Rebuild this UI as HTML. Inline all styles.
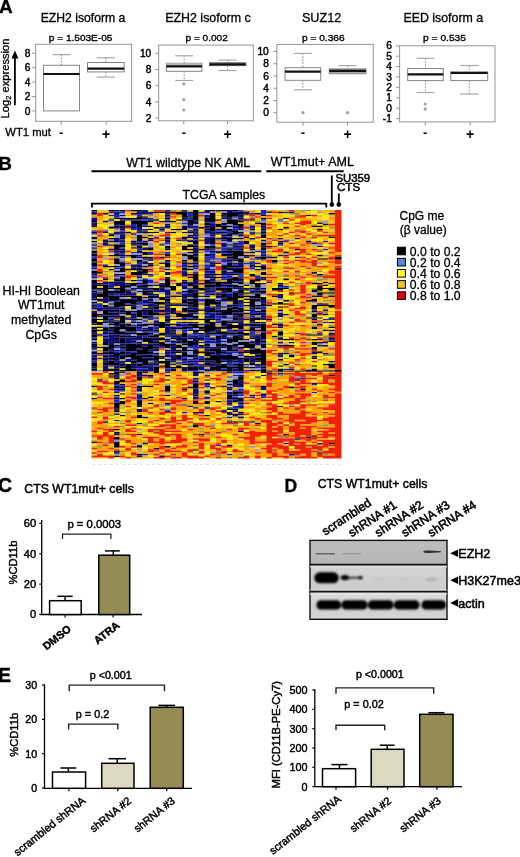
<!DOCTYPE html>
<html><head><meta charset="utf-8"><style>
html,body{margin:0;padding:0;background:#fff;width:520px;height:857px;overflow:hidden}
svg{display:block;filter:blur(0.4px)}
.heavy text{stroke-width:0.45px}
text{font-family:"Liberation Sans",sans-serif;stroke:#000;stroke-width:0.3px;paint-order:stroke}
</style></head><body>
<svg width="520" height="857" viewBox="0 0 520 857">
<rect x="0" y="0" width="520" height="857" fill="#fff"/>
<text x="-1.1" y="12.6" font-size="19" font-weight="bold" text-anchor="start" fill="#000" >A</text>
<text transform="translate(8.9,118.5) rotate(-90)" font-size="11.2">Log<tspan font-size="7.5" dy="2.5">2</tspan><tspan dy="-2.5"> expression</tspan></text>
<line x1="14.9" y1="105.3" x2="14.9" y2="56" stroke="#000" stroke-width="1.8" />
<path d="M11.4,58.5 L14.9,50.6 L18.4,58.5 Z" fill="#000"/>
<text x="5.34" y="135.7" font-size="11.6" textLength="45.62" lengthAdjust="spacingAndGlyphs" >WT1 mut</text>
<rect x="35.7" y="44.3" width="95.89999999999999" height="77.0" fill="none" stroke="#959595" stroke-width="1" />
<line x1="32.2" y1="110.9" x2="35.7" y2="110.9" stroke="#959595" stroke-width="1" />
<text x="30.300000000000004" y="114.5" font-size="10.2" text-anchor="end" fill="#000" style="stroke-width:0.45px">0</text>
<line x1="32.2" y1="96.5" x2="35.7" y2="96.5" stroke="#959595" stroke-width="1" />
<text x="30.300000000000004" y="100.1" font-size="10.2" text-anchor="end" fill="#000" style="stroke-width:0.45px">2</text>
<line x1="32.2" y1="82.10000000000001" x2="35.7" y2="82.10000000000001" stroke="#959595" stroke-width="1" />
<text x="30.300000000000004" y="85.7" font-size="10.2" text-anchor="end" fill="#000" style="stroke-width:0.45px">4</text>
<line x1="32.2" y1="67.7" x2="35.7" y2="67.7" stroke="#959595" stroke-width="1" />
<text x="30.300000000000004" y="71.3" font-size="10.2" text-anchor="end" fill="#000" style="stroke-width:0.45px">6</text>
<line x1="32.2" y1="53.300000000000004" x2="35.7" y2="53.300000000000004" stroke="#959595" stroke-width="1" />
<text x="30.300000000000004" y="56.900000000000006" font-size="10.2" text-anchor="end" fill="#000" style="stroke-width:0.45px">8</text>
<line x1="61.2" y1="121.3" x2="61.2" y2="124.8" stroke="#959595" stroke-width="1" />
<line x1="106.2" y1="121.3" x2="106.2" y2="124.8" stroke="#959595" stroke-width="1" />
<text x="61.2" y="136.5" font-size="13" font-weight="bold" text-anchor="middle" fill="#000" style="stroke-width:0">-</text>
<text x="106.2" y="138.6" font-size="14" font-weight="bold" text-anchor="middle" fill="#000" style="stroke-width:0">+</text>
<line x1="61.5" y1="54.6" x2="61.5" y2="65.3" stroke="#8a8a8a" stroke-width="1" stroke-dasharray="1.5,1.5"/>
<line x1="52.5" y1="54.6" x2="70.5" y2="54.6" stroke="#a8a8a8" stroke-width="1.2" />
<rect x="43.5" y="65.3" width="36.0" height="45.60000000000001" fill="#fff" stroke="#858585" stroke-width="1" />
<line x1="43.5" y1="74.0" x2="79.5" y2="74.0" stroke="#111" stroke-width="2.2" />
<line x1="105.85" y1="57.8" x2="105.85" y2="62.5" stroke="#8a8a8a" stroke-width="1" stroke-dasharray="1.5,1.5"/>
<line x1="96.675" y1="57.8" x2="115.02499999999999" y2="57.8" stroke="#a8a8a8" stroke-width="1.2" />
<line x1="105.85" y1="71.9" x2="105.85" y2="77.1" stroke="#8a8a8a" stroke-width="1" stroke-dasharray="1.5,1.5"/>
<line x1="96.675" y1="77.1" x2="115.02499999999999" y2="77.1" stroke="#a8a8a8" stroke-width="1.2" />
<rect x="87.5" y="62.5" width="36.7" height="9.400000000000006" fill="#fff" stroke="#858585" stroke-width="1" />
<line x1="87.5" y1="68.6" x2="124.2" y2="68.6" stroke="#111" stroke-width="2.2" />
<text x="40.72" y="21.9" font-size="12.2" textLength="84.69" lengthAdjust="spacingAndGlyphs" >EZH2 isoform a</text>
<text x="48.85" y="40.9" font-size="9.95" textLength="63.56" lengthAdjust="spacingAndGlyphs" style="stroke-width:0.35px">p = 1.503E-05</text>
<rect x="158.7" y="45.1" width="94.60000000000002" height="75.69999999999999" fill="none" stroke="#959595" stroke-width="1" />
<line x1="155.2" y1="118.10000000000001" x2="158.7" y2="118.10000000000001" stroke="#959595" stroke-width="1" />
<text x="151.29999999999998" y="121.7" font-size="10.2" text-anchor="end" fill="#000" style="stroke-width:0.45px">2</text>
<line x1="155.2" y1="101.9" x2="158.7" y2="101.9" stroke="#959595" stroke-width="1" />
<text x="151.29999999999998" y="105.5" font-size="10.2" text-anchor="end" fill="#000" style="stroke-width:0.45px">4</text>
<line x1="155.2" y1="85.70000000000002" x2="158.7" y2="85.70000000000002" stroke="#959595" stroke-width="1" />
<text x="151.29999999999998" y="89.30000000000001" font-size="10.2" text-anchor="end" fill="#000" style="stroke-width:0.45px">6</text>
<line x1="155.2" y1="69.50000000000001" x2="158.7" y2="69.50000000000001" stroke="#959595" stroke-width="1" />
<text x="151.29999999999998" y="73.10000000000001" font-size="10.2" text-anchor="end" fill="#000" style="stroke-width:0.45px">8</text>
<line x1="155.2" y1="53.30000000000001" x2="158.7" y2="53.30000000000001" stroke="#959595" stroke-width="1" />
<text x="151.29999999999998" y="56.90000000000001" font-size="10.2" text-anchor="end" fill="#000" style="stroke-width:0.45px">10</text>
<line x1="183.8" y1="120.8" x2="183.8" y2="124.3" stroke="#959595" stroke-width="1" />
<line x1="227.5" y1="120.8" x2="227.5" y2="124.3" stroke="#959595" stroke-width="1" />
<text x="183.8" y="136.5" font-size="13" font-weight="bold" text-anchor="middle" fill="#000" style="stroke-width:0">-</text>
<text x="227.5" y="138.6" font-size="14" font-weight="bold" text-anchor="middle" fill="#000" style="stroke-width:0">+</text>
<line x1="184.15" y1="55.8" x2="184.15" y2="63.3" stroke="#8a8a8a" stroke-width="1" stroke-dasharray="1.5,1.5"/>
<line x1="175.22500000000002" y1="55.8" x2="193.075" y2="55.8" stroke="#a8a8a8" stroke-width="1.2" />
<line x1="184.15" y1="71.3" x2="184.15" y2="80.5" stroke="#8a8a8a" stroke-width="1" stroke-dasharray="1.5,1.5"/>
<line x1="175.22500000000002" y1="80.5" x2="193.075" y2="80.5" stroke="#a8a8a8" stroke-width="1.2" />
<rect x="166.3" y="63.3" width="35.69999999999999" height="8.0" fill="#fff" stroke="#858585" stroke-width="1" />
<rect x="166.3" y="63.3" width="35.69999999999999" height="3.0" fill="#b8b8b8" stroke="none" stroke-width="1" />
<line x1="166.3" y1="66.3" x2="202" y2="66.3" stroke="#111" stroke-width="2.2" />
<line x1="227.65" y1="60.1" x2="227.65" y2="62.6" stroke="#8a8a8a" stroke-width="1" stroke-dasharray="1.5,1.5"/>
<line x1="218.575" y1="60.1" x2="236.72500000000002" y2="60.1" stroke="#a8a8a8" stroke-width="1.2" />
<line x1="227.65" y1="65.6" x2="227.65" y2="70.5" stroke="#8a8a8a" stroke-width="1" stroke-dasharray="1.5,1.5"/>
<line x1="218.575" y1="70.5" x2="236.72500000000002" y2="70.5" stroke="#a8a8a8" stroke-width="1.2" />
<rect x="209.5" y="62.6" width="36.30000000000001" height="2.999999999999993" fill="#a8a8a8" stroke="#858585" stroke-width="1" />
<line x1="209.5" y1="64.3" x2="245.8" y2="64.3" stroke="#111" stroke-width="2.2" />
<circle cx="183.8" cy="83.8" r="1.6" fill="#a0a0a0"/>
<circle cx="183.8" cy="99.6" r="1.6" fill="#a0a0a0"/>
<circle cx="183.8" cy="110" r="1.6" fill="#a0a0a0"/>
<text x="165.21" y="21.9" font-size="12.2" textLength="85.51" lengthAdjust="spacingAndGlyphs" >EZH2 isoform c</text>
<text x="185.55" y="40.9" font-size="9.95" textLength="42.19" lengthAdjust="spacingAndGlyphs" style="stroke-width:0.35px">p = 0.002</text>
<rect x="276.9" y="44.4" width="96.30000000000001" height="77.80000000000001" fill="none" stroke="#959595" stroke-width="1" />
<line x1="273.4" y1="112.7" x2="276.9" y2="112.7" stroke="#959595" stroke-width="1" />
<text x="268.79999999999995" y="116.3" font-size="10.2" text-anchor="end" fill="#000" style="stroke-width:0.45px">0</text>
<line x1="273.4" y1="100.46000000000001" x2="276.9" y2="100.46000000000001" stroke="#959595" stroke-width="1" />
<text x="268.79999999999995" y="104.06" font-size="10.2" text-anchor="end" fill="#000" style="stroke-width:0.45px">2</text>
<line x1="273.4" y1="88.22" x2="276.9" y2="88.22" stroke="#959595" stroke-width="1" />
<text x="268.79999999999995" y="91.82" font-size="10.2" text-anchor="end" fill="#000" style="stroke-width:0.45px">4</text>
<line x1="273.4" y1="75.98" x2="276.9" y2="75.98" stroke="#959595" stroke-width="1" />
<text x="268.79999999999995" y="79.58" font-size="10.2" text-anchor="end" fill="#000" style="stroke-width:0.45px">6</text>
<line x1="273.4" y1="63.74" x2="276.9" y2="63.74" stroke="#959595" stroke-width="1" />
<text x="268.79999999999995" y="67.34" font-size="10.2" text-anchor="end" fill="#000" style="stroke-width:0.45px">8</text>
<line x1="273.4" y1="51.5" x2="276.9" y2="51.5" stroke="#959595" stroke-width="1" />
<text x="268.79999999999995" y="55.1" font-size="10.2" text-anchor="end" fill="#000" style="stroke-width:0.45px">10</text>
<line x1="303" y1="122.2" x2="303" y2="125.7" stroke="#959595" stroke-width="1" />
<line x1="347.5" y1="122.2" x2="347.5" y2="125.7" stroke="#959595" stroke-width="1" />
<text x="303" y="136.5" font-size="13" font-weight="bold" text-anchor="middle" fill="#000" style="stroke-width:0">-</text>
<text x="347.5" y="138.6" font-size="14" font-weight="bold" text-anchor="middle" fill="#000" style="stroke-width:0">+</text>
<line x1="302.9" y1="53.4" x2="302.9" y2="67.7" stroke="#8a8a8a" stroke-width="1" stroke-dasharray="1.5,1.5"/>
<line x1="293.95" y1="53.4" x2="311.84999999999997" y2="53.4" stroke="#a8a8a8" stroke-width="1.2" />
<line x1="302.9" y1="80.3" x2="302.9" y2="89.8" stroke="#8a8a8a" stroke-width="1" stroke-dasharray="1.5,1.5"/>
<line x1="293.95" y1="89.8" x2="311.84999999999997" y2="89.8" stroke="#a8a8a8" stroke-width="1.2" />
<rect x="285" y="67.7" width="35.80000000000001" height="12.599999999999994" fill="#fff" stroke="#858585" stroke-width="1" />
<line x1="285" y1="71.7" x2="320.8" y2="71.7" stroke="#111" stroke-width="2.2" />
<line x1="347.65" y1="65.6" x2="347.65" y2="68.9" stroke="#8a8a8a" stroke-width="1" stroke-dasharray="1.5,1.5"/>
<line x1="338.47499999999997" y1="65.6" x2="356.825" y2="65.6" stroke="#a8a8a8" stroke-width="1.2" />
<rect x="329.3" y="68.9" width="36.69999999999999" height="4.799999999999997" fill="#a8a8a8" stroke="#858585" stroke-width="1" />
<line x1="329.3" y1="70.9" x2="366" y2="70.9" stroke="#111" stroke-width="2.2" />
<circle cx="303" cy="112.7" r="1.6" fill="#a0a0a0"/>
<circle cx="347.5" cy="112.7" r="1.6" fill="#a0a0a0"/>
<text x="301.93" y="21.9" font-size="12.2" textLength="39.43" lengthAdjust="spacingAndGlyphs" >SUZ12</text>
<text x="301.94" y="40.9" font-size="9.95" textLength="42.70" lengthAdjust="spacingAndGlyphs" style="stroke-width:0.35px">p = 0.366</text>
<rect x="399.6" y="45.8" width="95.39999999999998" height="76.10000000000001" fill="none" stroke="#959595" stroke-width="1" />
<line x1="396.1" y1="118.60000000000001" x2="399.6" y2="118.60000000000001" stroke="#959595" stroke-width="1" />
<text x="391.90000000000003" y="122.2" font-size="10.2" text-anchor="end" fill="#000" style="stroke-width:0.45px">-1</text>
<line x1="396.1" y1="108.2" x2="399.6" y2="108.2" stroke="#959595" stroke-width="1" />
<text x="391.90000000000003" y="111.8" font-size="10.2" text-anchor="end" fill="#000" style="stroke-width:0.45px">0</text>
<line x1="396.1" y1="97.8" x2="399.6" y2="97.8" stroke="#959595" stroke-width="1" />
<text x="391.90000000000003" y="101.39999999999999" font-size="10.2" text-anchor="end" fill="#000" style="stroke-width:0.45px">1</text>
<line x1="396.1" y1="87.4" x2="399.6" y2="87.4" stroke="#959595" stroke-width="1" />
<text x="391.90000000000003" y="91.0" font-size="10.2" text-anchor="end" fill="#000" style="stroke-width:0.45px">2</text>
<line x1="396.1" y1="77.0" x2="399.6" y2="77.0" stroke="#959595" stroke-width="1" />
<text x="391.90000000000003" y="80.6" font-size="10.2" text-anchor="end" fill="#000" style="stroke-width:0.45px">3</text>
<line x1="396.1" y1="66.6" x2="399.6" y2="66.6" stroke="#959595" stroke-width="1" />
<text x="391.90000000000003" y="70.19999999999999" font-size="10.2" text-anchor="end" fill="#000" style="stroke-width:0.45px">4</text>
<line x1="396.1" y1="56.2" x2="399.6" y2="56.2" stroke="#959595" stroke-width="1" />
<text x="391.90000000000003" y="59.800000000000004" font-size="10.2" text-anchor="end" fill="#000" style="stroke-width:0.45px">5</text>
<line x1="396.1" y1="45.8" x2="399.6" y2="45.8" stroke="#959595" stroke-width="1" />
<text x="391.90000000000003" y="49.4" font-size="10.2" text-anchor="end" fill="#000" style="stroke-width:0.45px">6</text>
<line x1="425.2" y1="121.9" x2="425.2" y2="125.4" stroke="#959595" stroke-width="1" />
<line x1="470.2" y1="121.9" x2="470.2" y2="125.4" stroke="#959595" stroke-width="1" />
<text x="425.2" y="136.5" font-size="13" font-weight="bold" text-anchor="middle" fill="#000" style="stroke-width:0">-</text>
<text x="470.2" y="138.6" font-size="14" font-weight="bold" text-anchor="middle" fill="#000" style="stroke-width:0">+</text>
<line x1="425.5" y1="58.3" x2="425.5" y2="68.5" stroke="#8a8a8a" stroke-width="1" stroke-dasharray="1.5,1.5"/>
<line x1="416.6" y1="58.3" x2="434.4" y2="58.3" stroke="#a8a8a8" stroke-width="1.2" />
<line x1="425.5" y1="80.6" x2="425.5" y2="92.5" stroke="#8a8a8a" stroke-width="1" stroke-dasharray="1.5,1.5"/>
<line x1="416.6" y1="92.5" x2="434.4" y2="92.5" stroke="#a8a8a8" stroke-width="1.2" />
<rect x="407.7" y="68.5" width="35.60000000000002" height="12.099999999999994" fill="#fff" stroke="#858585" stroke-width="1" />
<line x1="407.7" y1="74.4" x2="443.3" y2="74.4" stroke="#111" stroke-width="2.2" />
<line x1="469.25" y1="65.5" x2="469.25" y2="71.7" stroke="#8a8a8a" stroke-width="1" stroke-dasharray="1.5,1.5"/>
<line x1="460.025" y1="65.5" x2="478.475" y2="65.5" stroke="#a8a8a8" stroke-width="1.2" />
<line x1="469.25" y1="80.6" x2="469.25" y2="94" stroke="#8a8a8a" stroke-width="1" stroke-dasharray="1.5,1.5"/>
<line x1="460.025" y1="94" x2="478.475" y2="94" stroke="#a8a8a8" stroke-width="1.2" />
<rect x="450.8" y="71.7" width="36.89999999999998" height="8.899999999999991" fill="#fff" stroke="#858585" stroke-width="1" />
<rect x="450.8" y="71.7" width="36.89999999999998" height="1.2999999999999972" fill="#b8b8b8" stroke="none" stroke-width="1" />
<line x1="450.8" y1="73" x2="487.7" y2="73" stroke="#111" stroke-width="2.2" />
<circle cx="425.2" cy="104" r="1.6" fill="#a0a0a0"/>
<circle cx="425.2" cy="108.9" r="1.6" fill="#a0a0a0"/>
<text x="403.41" y="21.9" font-size="12.2" textLength="79.71" lengthAdjust="spacingAndGlyphs" >EED isoform a</text>
<text x="423.14" y="40.9" font-size="9.95" textLength="42.80" lengthAdjust="spacingAndGlyphs" style="stroke-width:0.35px">p = 0.535</text>
<text x="-1.8" y="169.9" font-size="18.9" font-weight="bold" text-anchor="start" fill="#000" >B</text>
<text x="126.24" y="166.6" font-size="12.3" textLength="124.07" lengthAdjust="spacingAndGlyphs" >WT1 wildtype NK AML</text>
<line x1="91.5" y1="171.3" x2="261.3" y2="171.3" stroke="#000" stroke-width="2" />
<text x="270.84" y="165.6" font-size="12.3" textLength="83.15" lengthAdjust="spacingAndGlyphs" >WT1mut+ AML</text>
<line x1="266.3" y1="171.3" x2="343.7" y2="171.3" stroke="#000" stroke-width="2" />
<text x="335.49" y="181.8" font-size="11" textLength="34.65" lengthAdjust="spacingAndGlyphs" style="stroke-width:0.5px">SU359</text>
<text x="337.02" y="191.3" font-size="11" textLength="23.10" lengthAdjust="spacingAndGlyphs" style="stroke-width:0.5px">CTS</text>
<line x1="331.8" y1="175.5" x2="331.8" y2="204.5" stroke="#000" stroke-width="1.8" />
<line x1="338.8" y1="193.5" x2="338.8" y2="204.5" stroke="#000" stroke-width="1.8" />
<circle cx="331.8" cy="204.6" r="2.3" fill="#000"/>
<circle cx="338.8" cy="204.6" r="2.3" fill="#000"/>
<text x="182.55" y="198.5" font-size="12.3" textLength="82.67" lengthAdjust="spacingAndGlyphs" >TCGA samples</text>
<path d="M91.9,207.6 V203.7 H326.3 V207.6" fill="none" stroke="#000" stroke-width="1.8"/>
<text x="41.2" y="294.7" font-size="12.3" text-anchor="middle" fill="#000" >HI-HI Boolean</text>
<text x="41.2" y="309.4" font-size="12.3" text-anchor="middle" fill="#000" >WT1mut</text>
<text x="41.2" y="324.09999999999997" font-size="12.3" text-anchor="middle" fill="#000" >methylated</text>
<text x="41.2" y="338.79999999999995" font-size="12.3" text-anchor="middle" fill="#000" >CpGs</text>
<text x="399.5" y="220.1" font-size="12" text-anchor="start" fill="#000" >CpG me</text>
<text x="399.8" y="234.2" font-size="12" text-anchor="start" fill="#000" >(β value)</text>
<rect x="397.4" y="247.2" width="8" height="7.6" fill="#000000" stroke="#000" stroke-width="1" />
<text x="409.8" y="255.6" font-size="12.2" text-anchor="start" fill="#000" >0.0 to 0.2</text>
<rect x="397.4" y="258.34999999999997" width="8" height="7.6" fill="#5b87c8" stroke="#000" stroke-width="1" />
<text x="409.8" y="266.74999999999994" font-size="12.2" text-anchor="start" fill="#000" >0.2 to 0.4</text>
<rect x="397.4" y="269.5" width="8" height="7.6" fill="#ffff10" stroke="#000" stroke-width="1" />
<text x="409.8" y="277.9" font-size="12.2" text-anchor="start" fill="#000" >0.4 to 0.6</text>
<rect x="397.4" y="280.65" width="8" height="7.6" fill="#f0c028" stroke="#000" stroke-width="1" />
<text x="409.8" y="289.04999999999995" font-size="12.2" text-anchor="start" fill="#000" >0.6 to 0.8</text>
<rect x="397.4" y="291.8" width="8" height="7.6" fill="#e00010" stroke="#000" stroke-width="1" />
<text x="409.8" y="300.2" font-size="12.2" text-anchor="start" fill="#000" >0.8 to 1.0</text>
<defs><filter id="hblur" x="-2%" y="-2%" width="104%" height="104%"><feGaussianBlur stdDeviation="0.35"/></filter></defs><g filter="url(#hblur)">
<path fill="#000000" d="M91.50 210.00h5.64v1.55h-5.64zM91.50 213.11h5.64v1.55h-5.64zM91.50 220.87h5.64v1.55h-5.64zM91.50 231.74h5.64v1.55h-5.64zM91.50 241.06h5.64v1.55h-5.64zM91.50 244.17h5.64v1.55h-5.64zM91.50 250.38h5.64v1.55h-5.64zM91.50 253.49h5.64v3.11h-5.64zM91.50 258.15h5.64v3.11h-5.64zM91.50 262.81h5.64v3.11h-5.64zM91.50 270.57h5.64v3.11h-5.64zM91.50 279.89h5.64v3.11h-5.64zM91.50 286.10h5.64v3.11h-5.64zM91.50 290.76h5.64v1.55h-5.64zM91.50 298.53h5.64v1.55h-5.64zM91.50 301.63h5.64v1.55h-5.64zM91.50 306.29h5.64v1.55h-5.64zM91.50 314.06h5.64v3.11h-5.64zM91.50 318.72h5.64v4.66h-5.64zM91.50 326.48h5.64v1.55h-5.64zM91.50 329.59h5.64v3.11h-5.64zM91.50 334.25h5.64v3.11h-5.64zM91.50 338.91h5.64v1.55h-5.64zM91.50 343.57h5.64v1.55h-5.64zM91.50 348.23h5.64v1.55h-5.64zM91.50 351.33h5.64v1.55h-5.64zM91.50 357.55h5.64v1.55h-5.64zM91.50 362.21h5.64v4.66h-5.64zM91.50 368.42h5.64v1.55h-5.64zM91.50 385.50h5.64v1.55h-5.64zM91.50 393.27h5.64v1.55h-5.64zM91.50 397.93h5.64v1.55h-5.64zM97.14 272.12h5.64v1.55h-5.64zM97.14 284.55h5.64v1.55h-5.64zM97.14 287.66h5.64v1.55h-5.64zM97.14 293.87h5.64v3.11h-5.64zM97.14 298.53h5.64v1.55h-5.64zM97.14 303.19h5.64v1.55h-5.64zM97.14 314.06h5.64v1.55h-5.64zM97.14 318.72h5.64v1.55h-5.64zM97.14 321.82h5.64v3.11h-5.64zM97.14 326.48h5.64v1.55h-5.64zM97.14 329.59h5.64v1.55h-5.64zM97.14 346.68h5.64v1.55h-5.64zM97.14 352.89h5.64v1.55h-5.64zM102.78 213.11h5.64v1.55h-5.64zM102.78 220.87h5.64v1.55h-5.64zM102.78 231.74h5.64v1.55h-5.64zM102.78 241.06h5.64v1.55h-5.64zM102.78 265.91h5.64v1.55h-5.64zM102.78 278.34h5.64v1.55h-5.64zM102.78 284.55h5.64v12.43h-5.64zM102.78 304.74h5.64v3.11h-5.64zM102.78 309.40h5.64v4.66h-5.64zM102.78 315.61h5.64v4.66h-5.64zM102.78 321.82h5.64v1.55h-5.64zM102.78 328.04h5.64v3.11h-5.64zM102.78 335.80h5.64v1.55h-5.64zM102.78 342.02h5.64v3.11h-5.64zM102.78 346.68h5.64v4.66h-5.64zM102.78 352.89h5.64v1.55h-5.64zM102.78 355.99h5.64v1.55h-5.64zM102.78 359.10h5.64v1.55h-5.64zM102.78 362.21h5.64v3.11h-5.64zM102.78 369.97h5.64v1.55h-5.64zM108.42 210.00h5.64v1.55h-5.64zM108.42 219.32h5.64v1.55h-5.64zM108.42 227.08h5.64v1.55h-5.64zM108.42 234.85h5.64v1.55h-5.64zM108.42 237.96h5.64v1.55h-5.64zM108.42 255.04h5.64v1.55h-5.64zM108.42 265.91h5.64v1.55h-5.64zM108.42 269.02h5.64v1.55h-5.64zM108.42 281.44h5.64v1.55h-5.64zM108.42 287.66h5.64v1.55h-5.64zM108.42 290.76h5.64v3.11h-5.64zM108.42 295.42h5.64v4.66h-5.64zM108.42 303.19h5.64v1.55h-5.64zM108.42 306.29h5.64v1.55h-5.64zM108.42 309.40h5.64v1.55h-5.64zM108.42 312.51h5.64v1.55h-5.64zM108.42 315.61h5.64v1.55h-5.64zM108.42 320.27h5.64v1.55h-5.64zM108.42 323.38h5.64v1.55h-5.64zM108.42 326.48h5.64v1.55h-5.64zM108.42 329.59h5.64v1.55h-5.64zM108.42 332.70h5.64v1.55h-5.64zM108.42 345.12h5.64v4.66h-5.64zM108.42 351.33h5.64v3.11h-5.64zM108.42 357.55h5.64v1.55h-5.64zM108.42 360.65h5.64v4.66h-5.64zM108.42 368.42h5.64v3.11h-5.64zM108.42 376.18h5.64v1.55h-5.64zM114.06 213.11h5.64v1.55h-5.64zM114.06 217.77h5.64v1.55h-5.64zM114.06 220.87h5.64v3.11h-5.64zM114.06 225.53h5.64v1.55h-5.64zM114.06 241.06h5.64v1.55h-5.64zM114.06 244.17h5.64v6.21h-5.64zM114.06 253.49h5.64v3.11h-5.64zM114.06 258.15h5.64v6.21h-5.64zM114.06 265.91h5.64v1.55h-5.64zM114.06 270.57h5.64v1.55h-5.64zM114.06 273.68h5.64v1.55h-5.64zM114.06 279.89h5.64v1.55h-5.64zM114.06 287.66h5.64v1.55h-5.64zM114.06 290.76h5.64v3.11h-5.64zM114.06 295.42h5.64v4.66h-5.64zM114.06 301.63h5.64v6.21h-5.64zM114.06 309.40h5.64v1.55h-5.64zM114.06 312.51h5.64v1.55h-5.64zM114.06 315.61h5.64v1.55h-5.64zM114.06 321.82h5.64v3.11h-5.64zM114.06 326.48h5.64v7.77h-5.64zM114.06 337.36h5.64v1.55h-5.64zM114.06 342.02h5.64v1.55h-5.64zM114.06 345.12h5.64v1.55h-5.64zM114.06 352.89h5.64v3.11h-5.64zM114.06 359.10h5.64v1.55h-5.64zM114.06 362.21h5.64v3.11h-5.64zM114.06 368.42h5.64v1.55h-5.64zM114.06 371.52h5.64v3.11h-5.64zM114.06 377.74h5.64v1.55h-5.64zM114.06 380.84h5.64v3.11h-5.64zM114.06 385.50h5.64v1.55h-5.64zM114.06 388.61h5.64v1.55h-5.64zM114.06 394.82h5.64v1.55h-5.64zM114.06 402.59h5.64v6.21h-5.64zM114.06 410.35h5.64v1.55h-5.64zM114.06 428.99h5.64v1.55h-5.64zM114.06 432.10h5.64v1.55h-5.64zM114.06 436.76h5.64v3.11h-5.64zM114.06 442.97h5.64v4.66h-5.64zM114.06 452.29h5.64v1.55h-5.64zM114.06 455.39h5.64v1.55h-5.64zM119.70 210.00h5.64v1.55h-5.64zM119.70 217.77h5.64v1.55h-5.64zM119.70 220.87h5.64v4.66h-5.64zM119.70 227.08h5.64v1.55h-5.64zM119.70 233.30h5.64v1.55h-5.64zM119.70 237.96h5.64v1.55h-5.64zM119.70 244.17h5.64v3.11h-5.64zM119.70 248.83h5.64v1.55h-5.64zM119.70 255.04h5.64v1.55h-5.64zM119.70 262.81h5.64v3.11h-5.64zM119.70 267.47h5.64v4.66h-5.64zM119.70 273.68h5.64v1.55h-5.64zM119.70 276.78h5.64v4.66h-5.64zM119.70 286.10h5.64v7.77h-5.64zM119.70 295.42h5.64v1.55h-5.64zM119.70 300.08h5.64v6.21h-5.64zM119.70 307.85h5.64v1.55h-5.64zM119.70 310.95h5.64v1.55h-5.64zM119.70 315.61h5.64v7.77h-5.64zM119.70 324.93h5.64v4.66h-5.64zM119.70 331.14h5.64v3.11h-5.64zM119.70 335.80h5.64v1.55h-5.64zM119.70 338.91h5.64v4.66h-5.64zM119.70 346.68h5.64v1.55h-5.64zM119.70 351.33h5.64v3.11h-5.64zM119.70 355.99h5.64v3.11h-5.64zM119.70 362.21h5.64v1.55h-5.64zM119.70 366.87h5.64v1.55h-5.64zM119.70 369.97h5.64v1.55h-5.64zM119.70 379.29h5.64v3.11h-5.64zM119.70 383.95h5.64v1.55h-5.64zM119.70 388.61h5.64v1.55h-5.64zM119.70 393.27h5.64v1.55h-5.64zM119.70 397.93h5.64v1.55h-5.64zM119.70 401.03h5.64v3.11h-5.64zM119.70 415.01h5.64v1.55h-5.64zM125.34 217.77h5.64v1.55h-5.64zM125.34 231.74h5.64v1.55h-5.64zM125.34 269.02h5.64v1.55h-5.64zM125.34 283.00h5.64v1.55h-5.64zM125.34 286.10h5.64v1.55h-5.64zM125.34 289.21h5.64v1.55h-5.64zM125.34 295.42h5.64v1.55h-5.64zM125.34 300.08h5.64v3.11h-5.64zM125.34 304.74h5.64v1.55h-5.64zM125.34 310.95h5.64v4.66h-5.64zM125.34 317.17h5.64v1.55h-5.64zM125.34 323.38h5.64v1.55h-5.64zM125.34 326.48h5.64v4.66h-5.64zM125.34 332.70h5.64v1.55h-5.64zM125.34 335.80h5.64v1.55h-5.64zM125.34 343.57h5.64v7.77h-5.64zM125.34 354.44h5.64v3.11h-5.64zM125.34 363.76h5.64v7.77h-5.64zM130.98 210.00h5.64v1.55h-5.64zM130.98 217.77h5.64v1.55h-5.64zM130.98 220.87h5.64v3.11h-5.64zM130.98 227.08h5.64v1.55h-5.64zM130.98 241.06h5.64v1.55h-5.64zM130.98 244.17h5.64v1.55h-5.64zM130.98 255.04h5.64v3.11h-5.64zM130.98 267.47h5.64v3.11h-5.64zM130.98 272.12h5.64v3.11h-5.64zM130.98 279.89h5.64v1.55h-5.64zM130.98 283.00h5.64v3.11h-5.64zM130.98 289.21h5.64v1.55h-5.64zM130.98 292.32h5.64v1.55h-5.64zM130.98 295.42h5.64v3.11h-5.64zM130.98 300.08h5.64v4.66h-5.64zM130.98 306.29h5.64v3.11h-5.64zM130.98 310.95h5.64v1.55h-5.64zM130.98 318.72h5.64v1.55h-5.64zM130.98 321.82h5.64v1.55h-5.64zM130.98 326.48h5.64v4.66h-5.64zM130.98 332.70h5.64v1.55h-5.64zM130.98 335.80h5.64v1.55h-5.64zM130.98 340.46h5.64v1.55h-5.64zM130.98 343.57h5.64v7.77h-5.64zM130.98 352.89h5.64v6.21h-5.64zM130.98 360.65h5.64v3.11h-5.64zM130.98 368.42h5.64v3.11h-5.64zM136.62 210.00h5.64v1.55h-5.64zM136.62 216.21h5.64v3.11h-5.64zM136.62 220.87h5.64v6.21h-5.64zM136.62 230.19h5.64v1.55h-5.64zM136.62 234.85h5.64v6.21h-5.64zM136.62 242.62h5.64v1.55h-5.64zM136.62 245.72h5.64v3.11h-5.64zM136.62 250.38h5.64v1.55h-5.64zM136.62 255.04h5.64v1.55h-5.64zM136.62 259.70h5.64v3.11h-5.64zM136.62 265.91h5.64v1.55h-5.64zM136.62 269.02h5.64v1.55h-5.64zM136.62 272.12h5.64v3.11h-5.64zM136.62 276.78h5.64v1.55h-5.64zM136.62 283.00h5.64v1.55h-5.64zM136.62 286.10h5.64v1.55h-5.64zM136.62 295.42h5.64v6.21h-5.64zM136.62 303.19h5.64v1.55h-5.64zM136.62 309.40h5.64v7.77h-5.64zM136.62 318.72h5.64v1.55h-5.64zM136.62 324.93h5.64v1.55h-5.64zM136.62 332.70h5.64v3.11h-5.64zM136.62 342.02h5.64v1.55h-5.64zM136.62 345.12h5.64v3.11h-5.64zM136.62 349.78h5.64v4.66h-5.64zM136.62 355.99h5.64v6.21h-5.64zM136.62 363.76h5.64v3.11h-5.64zM136.62 371.52h5.64v1.55h-5.64zM136.62 376.18h5.64v4.66h-5.64zM136.62 385.50h5.64v3.11h-5.64zM136.62 401.03h5.64v4.66h-5.64zM136.62 415.01h5.64v3.11h-5.64zM136.62 422.78h5.64v1.55h-5.64zM136.62 433.65h5.64v1.55h-5.64zM136.62 446.08h5.64v1.55h-5.64zM136.62 453.84h5.64v1.55h-5.64zM142.26 216.21h5.64v1.55h-5.64zM142.26 220.87h5.64v3.11h-5.64zM142.26 231.74h5.64v1.55h-5.64zM142.26 236.40h5.64v1.55h-5.64zM142.26 242.62h5.64v3.11h-5.64zM142.26 251.93h5.64v3.11h-5.64zM142.26 256.59h5.64v1.55h-5.64zM142.26 269.02h5.64v4.66h-5.64zM142.26 279.89h5.64v3.11h-5.64zM142.26 284.55h5.64v3.11h-5.64zM142.26 290.76h5.64v4.66h-5.64zM142.26 304.74h5.64v1.55h-5.64zM142.26 309.40h5.64v1.55h-5.64zM142.26 315.61h5.64v3.11h-5.64zM142.26 320.27h5.64v1.55h-5.64zM142.26 323.38h5.64v3.11h-5.64zM142.26 329.59h5.64v1.55h-5.64zM142.26 332.70h5.64v3.11h-5.64zM142.26 337.36h5.64v4.66h-5.64zM142.26 346.68h5.64v7.77h-5.64zM142.26 355.99h5.64v1.55h-5.64zM142.26 359.10h5.64v6.21h-5.64zM142.26 369.97h5.64v1.55h-5.64zM142.26 385.50h5.64v1.55h-5.64zM142.26 397.93h5.64v1.55h-5.64zM142.26 442.97h5.64v1.55h-5.64zM147.90 219.32h5.64v1.55h-5.64zM147.90 225.53h5.64v1.55h-5.64zM147.90 228.64h5.64v1.55h-5.64zM147.90 231.74h5.64v1.55h-5.64zM147.90 237.96h5.64v1.55h-5.64zM147.90 247.28h5.64v3.11h-5.64zM147.90 258.15h5.64v1.55h-5.64zM147.90 264.36h5.64v1.55h-5.64zM147.90 284.55h5.64v1.55h-5.64zM147.90 287.66h5.64v1.55h-5.64zM147.90 290.76h5.64v1.55h-5.64zM147.90 295.42h5.64v3.11h-5.64zM147.90 301.63h5.64v1.55h-5.64zM147.90 306.29h5.64v1.55h-5.64zM147.90 309.40h5.64v6.21h-5.64zM147.90 317.17h5.64v1.55h-5.64zM147.90 323.38h5.64v1.55h-5.64zM147.90 326.48h5.64v1.55h-5.64zM147.90 332.70h5.64v1.55h-5.64zM147.90 335.80h5.64v1.55h-5.64zM147.90 338.91h5.64v4.66h-5.64zM147.90 345.12h5.64v4.66h-5.64zM147.90 351.33h5.64v1.55h-5.64zM147.90 354.44h5.64v3.11h-5.64zM147.90 359.10h5.64v1.55h-5.64zM147.90 362.21h5.64v1.55h-5.64zM147.90 365.31h5.64v1.55h-5.64zM147.90 374.63h5.64v1.55h-5.64zM147.90 385.50h5.64v1.55h-5.64zM147.90 396.38h5.64v1.55h-5.64zM147.90 402.59h5.64v1.55h-5.64zM153.54 227.08h5.64v1.55h-5.64zM153.54 231.74h5.64v1.55h-5.64zM153.54 287.66h5.64v3.11h-5.64zM153.54 295.42h5.64v1.55h-5.64zM153.54 301.63h5.64v3.11h-5.64zM153.54 306.29h5.64v3.11h-5.64zM153.54 312.51h5.64v3.11h-5.64zM153.54 317.17h5.64v1.55h-5.64zM153.54 323.38h5.64v3.11h-5.64zM153.54 329.59h5.64v1.55h-5.64zM153.54 334.25h5.64v3.11h-5.64zM153.54 338.91h5.64v1.55h-5.64zM153.54 342.02h5.64v1.55h-5.64zM153.54 346.68h5.64v1.55h-5.64zM153.54 352.89h5.64v1.55h-5.64zM153.54 355.99h5.64v4.66h-5.64zM153.54 362.21h5.64v1.55h-5.64zM153.54 366.87h5.64v6.21h-5.64zM153.54 447.63h5.64v1.55h-5.64zM159.18 211.55h5.64v1.55h-5.64zM159.18 220.87h5.64v1.55h-5.64zM159.18 228.64h5.64v1.55h-5.64zM159.18 286.10h5.64v1.55h-5.64zM159.18 296.98h5.64v3.11h-5.64zM159.18 301.63h5.64v3.11h-5.64zM159.18 309.40h5.64v1.55h-5.64zM159.18 314.06h5.64v1.55h-5.64zM159.18 321.82h5.64v6.21h-5.64zM159.18 332.70h5.64v3.11h-5.64zM159.18 337.36h5.64v3.11h-5.64zM159.18 342.02h5.64v4.66h-5.64zM159.18 355.99h5.64v1.55h-5.64zM159.18 360.65h5.64v3.11h-5.64zM159.18 365.31h5.64v1.55h-5.64zM164.82 211.55h5.64v1.55h-5.64zM164.82 214.66h5.64v1.55h-5.64zM164.82 217.77h5.64v1.55h-5.64zM164.82 220.87h5.64v1.55h-5.64zM164.82 225.53h5.64v1.55h-5.64zM164.82 237.96h5.64v1.55h-5.64zM164.82 241.06h5.64v1.55h-5.64zM164.82 245.72h5.64v3.11h-5.64zM164.82 255.04h5.64v1.55h-5.64zM164.82 259.70h5.64v1.55h-5.64zM164.82 262.81h5.64v4.66h-5.64zM164.82 278.34h5.64v9.32h-5.64zM164.82 298.53h5.64v3.11h-5.64zM164.82 303.19h5.64v1.55h-5.64zM164.82 306.29h5.64v1.55h-5.64zM164.82 312.51h5.64v1.55h-5.64zM164.82 318.72h5.64v3.11h-5.64zM164.82 323.38h5.64v3.11h-5.64zM164.82 334.25h5.64v1.55h-5.64zM164.82 338.91h5.64v1.55h-5.64zM164.82 343.57h5.64v4.66h-5.64zM164.82 349.78h5.64v1.55h-5.64zM164.82 354.44h5.64v1.55h-5.64zM164.82 360.65h5.64v7.77h-5.64zM164.82 379.29h5.64v1.55h-5.64zM164.82 385.50h5.64v6.21h-5.64zM164.82 394.82h5.64v1.55h-5.64zM164.82 402.59h5.64v1.55h-5.64zM164.82 421.23h5.64v1.55h-5.64zM164.82 446.08h5.64v1.55h-5.64zM170.46 211.55h5.64v1.55h-5.64zM170.46 220.87h5.64v1.55h-5.64zM170.46 228.64h5.64v1.55h-5.64zM170.46 231.74h5.64v1.55h-5.64zM170.46 286.10h5.64v4.66h-5.64zM170.46 303.19h5.64v1.55h-5.64zM170.46 307.85h5.64v3.11h-5.64zM170.46 318.72h5.64v1.55h-5.64zM170.46 323.38h5.64v1.55h-5.64zM170.46 328.04h5.64v1.55h-5.64zM170.46 331.14h5.64v1.55h-5.64zM170.46 334.25h5.64v1.55h-5.64zM170.46 337.36h5.64v1.55h-5.64zM170.46 340.46h5.64v1.55h-5.64zM170.46 343.57h5.64v1.55h-5.64zM170.46 351.33h5.64v1.55h-5.64zM170.46 359.10h5.64v1.55h-5.64zM170.46 366.87h5.64v1.55h-5.64zM170.46 369.97h5.64v1.55h-5.64zM176.10 211.55h5.64v3.11h-5.64zM176.10 219.32h5.64v1.55h-5.64zM176.10 228.64h5.64v1.55h-5.64zM176.10 283.00h5.64v3.11h-5.64zM176.10 295.42h5.64v1.55h-5.64zM176.10 303.19h5.64v1.55h-5.64zM176.10 312.51h5.64v4.66h-5.64zM176.10 323.38h5.64v1.55h-5.64zM176.10 328.04h5.64v1.55h-5.64zM176.10 334.25h5.64v1.55h-5.64zM176.10 338.91h5.64v1.55h-5.64zM176.10 342.02h5.64v1.55h-5.64zM176.10 345.12h5.64v3.11h-5.64zM176.10 351.33h5.64v1.55h-5.64zM176.10 355.99h5.64v3.11h-5.64zM176.10 365.31h5.64v3.11h-5.64zM181.74 211.55h5.64v6.21h-5.64zM181.74 219.32h5.64v1.55h-5.64zM181.74 227.08h5.64v3.11h-5.64zM181.74 236.40h5.64v3.11h-5.64zM181.74 245.72h5.64v4.66h-5.64zM181.74 253.49h5.64v3.11h-5.64zM181.74 259.70h5.64v1.55h-5.64zM181.74 262.81h5.64v1.55h-5.64zM181.74 267.47h5.64v3.11h-5.64zM181.74 281.44h5.64v1.55h-5.64zM181.74 290.76h5.64v1.55h-5.64zM181.74 296.98h5.64v1.55h-5.64zM181.74 300.08h5.64v3.11h-5.64zM181.74 304.74h5.64v1.55h-5.64zM181.74 307.85h5.64v3.11h-5.64zM181.74 314.06h5.64v3.11h-5.64zM181.74 321.82h5.64v1.55h-5.64zM181.74 326.48h5.64v3.11h-5.64zM181.74 332.70h5.64v4.66h-5.64zM181.74 338.91h5.64v3.11h-5.64zM181.74 343.57h5.64v1.55h-5.64zM181.74 346.68h5.64v4.66h-5.64zM181.74 352.89h5.64v3.11h-5.64zM181.74 359.10h5.64v1.55h-5.64zM181.74 363.76h5.64v1.55h-5.64zM181.74 388.61h5.64v1.55h-5.64zM187.38 216.21h5.64v1.55h-5.64zM187.38 219.32h5.64v6.21h-5.64zM187.38 231.74h5.64v1.55h-5.64zM187.38 236.40h5.64v1.55h-5.64zM187.38 241.06h5.64v1.55h-5.64zM187.38 244.17h5.64v3.11h-5.64zM187.38 248.83h5.64v1.55h-5.64zM187.38 251.93h5.64v1.55h-5.64zM187.38 255.04h5.64v4.66h-5.64zM187.38 265.91h5.64v1.55h-5.64zM187.38 269.02h5.64v1.55h-5.64zM187.38 273.68h5.64v1.55h-5.64zM187.38 276.78h5.64v1.55h-5.64zM187.38 283.00h5.64v3.11h-5.64zM187.38 289.21h5.64v4.66h-5.64zM187.38 298.53h5.64v1.55h-5.64zM187.38 301.63h5.64v3.11h-5.64zM187.38 306.29h5.64v1.55h-5.64zM187.38 309.40h5.64v3.11h-5.64zM187.38 314.06h5.64v3.11h-5.64zM187.38 318.72h5.64v1.55h-5.64zM187.38 323.38h5.64v1.55h-5.64zM187.38 326.48h5.64v1.55h-5.64zM187.38 337.36h5.64v1.55h-5.64zM187.38 340.46h5.64v6.21h-5.64zM187.38 349.78h5.64v1.55h-5.64zM187.38 354.44h5.64v3.11h-5.64zM187.38 360.65h5.64v1.55h-5.64zM187.38 363.76h5.64v1.55h-5.64zM187.38 366.87h5.64v3.11h-5.64zM187.38 387.06h5.64v1.55h-5.64zM193.02 210.00h5.64v10.87h-5.64zM193.02 230.19h5.64v1.55h-5.64zM193.02 233.30h5.64v1.55h-5.64zM193.02 237.96h5.64v1.55h-5.64zM193.02 241.06h5.64v3.11h-5.64zM193.02 245.72h5.64v1.55h-5.64zM193.02 253.49h5.64v1.55h-5.64zM193.02 256.59h5.64v4.66h-5.64zM193.02 262.81h5.64v1.55h-5.64zM193.02 273.68h5.64v6.21h-5.64zM193.02 283.00h5.64v1.55h-5.64zM193.02 286.10h5.64v3.11h-5.64zM193.02 292.32h5.64v4.66h-5.64zM193.02 298.53h5.64v9.32h-5.64zM193.02 310.95h5.64v1.55h-5.64zM193.02 315.61h5.64v3.11h-5.64zM193.02 323.38h5.64v4.66h-5.64zM193.02 329.59h5.64v3.11h-5.64zM193.02 337.36h5.64v1.55h-5.64zM193.02 342.02h5.64v3.11h-5.64zM193.02 349.78h5.64v3.11h-5.64zM193.02 354.44h5.64v1.55h-5.64zM193.02 357.55h5.64v1.55h-5.64zM193.02 366.87h5.64v3.11h-5.64zM193.02 371.52h5.64v1.55h-5.64zM193.02 380.84h5.64v1.55h-5.64zM193.02 383.95h5.64v4.66h-5.64zM193.02 394.82h5.64v1.55h-5.64zM193.02 401.03h5.64v3.11h-5.64zM193.02 411.91h5.64v1.55h-5.64zM193.02 424.33h5.64v3.11h-5.64zM193.02 449.18h5.64v1.55h-5.64zM198.66 227.08h5.64v1.55h-5.64zM198.66 248.83h5.64v1.55h-5.64zM198.66 287.66h5.64v3.11h-5.64zM198.66 318.72h5.64v1.55h-5.64zM198.66 326.48h5.64v1.55h-5.64zM198.66 329.59h5.64v1.55h-5.64zM198.66 332.70h5.64v1.55h-5.64zM198.66 337.36h5.64v1.55h-5.64zM198.66 345.12h5.64v1.55h-5.64zM198.66 351.33h5.64v1.55h-5.64zM198.66 360.65h5.64v1.55h-5.64zM198.66 365.31h5.64v1.55h-5.64zM198.66 371.52h5.64v1.55h-5.64zM198.66 433.65h5.64v1.55h-5.64zM204.30 217.77h5.64v3.11h-5.64zM204.30 222.43h5.64v3.11h-5.64zM204.30 228.64h5.64v1.55h-5.64zM204.30 245.72h5.64v3.11h-5.64zM204.30 255.04h5.64v1.55h-5.64zM204.30 261.25h5.64v1.55h-5.64zM204.30 269.02h5.64v1.55h-5.64zM204.30 273.68h5.64v1.55h-5.64zM204.30 279.89h5.64v3.11h-5.64zM204.30 284.55h5.64v3.11h-5.64zM204.30 289.21h5.64v1.55h-5.64zM204.30 292.32h5.64v1.55h-5.64zM204.30 295.42h5.64v1.55h-5.64zM204.30 298.53h5.64v7.77h-5.64zM204.30 310.95h5.64v1.55h-5.64zM204.30 318.72h5.64v4.66h-5.64zM204.30 324.93h5.64v7.77h-5.64zM204.30 334.25h5.64v1.55h-5.64zM204.30 340.46h5.64v1.55h-5.64zM204.30 343.57h5.64v1.55h-5.64zM204.30 346.68h5.64v1.55h-5.64zM204.30 351.33h5.64v4.66h-5.64zM204.30 357.55h5.64v3.11h-5.64zM204.30 362.21h5.64v3.11h-5.64zM204.30 369.97h5.64v1.55h-5.64zM204.30 379.29h5.64v1.55h-5.64zM204.30 390.16h5.64v3.11h-5.64zM204.30 401.03h5.64v3.11h-5.64zM204.30 415.01h5.64v1.55h-5.64zM209.94 210.00h5.64v1.55h-5.64zM209.94 213.11h5.64v9.32h-5.64zM209.94 227.08h5.64v4.66h-5.64zM209.94 234.85h5.64v1.55h-5.64zM209.94 237.96h5.64v6.21h-5.64zM209.94 245.72h5.64v3.11h-5.64zM209.94 250.38h5.64v1.55h-5.64zM209.94 261.25h5.64v1.55h-5.64zM209.94 264.36h5.64v1.55h-5.64zM209.94 273.68h5.64v1.55h-5.64zM209.94 276.78h5.64v1.55h-5.64zM209.94 281.44h5.64v1.55h-5.64zM209.94 284.55h5.64v3.11h-5.64zM209.94 289.21h5.64v1.55h-5.64zM209.94 293.87h5.64v1.55h-5.64zM209.94 300.08h5.64v4.66h-5.64zM209.94 307.85h5.64v4.66h-5.64zM209.94 318.72h5.64v1.55h-5.64zM209.94 321.82h5.64v9.32h-5.64zM209.94 332.70h5.64v1.55h-5.64zM209.94 338.91h5.64v1.55h-5.64zM209.94 348.23h5.64v3.11h-5.64zM209.94 352.89h5.64v1.55h-5.64zM209.94 355.99h5.64v4.66h-5.64zM209.94 362.21h5.64v1.55h-5.64zM209.94 366.87h5.64v3.11h-5.64zM215.58 219.32h5.64v1.55h-5.64zM215.58 223.98h5.64v3.11h-5.64zM215.58 231.74h5.64v1.55h-5.64zM215.58 247.28h5.64v1.55h-5.64zM215.58 251.93h5.64v1.55h-5.64zM215.58 273.68h5.64v1.55h-5.64zM215.58 276.78h5.64v1.55h-5.64zM215.58 281.44h5.64v4.66h-5.64zM215.58 287.66h5.64v3.11h-5.64zM215.58 292.32h5.64v1.55h-5.64zM215.58 295.42h5.64v1.55h-5.64zM215.58 301.63h5.64v3.11h-5.64zM215.58 306.29h5.64v1.55h-5.64zM215.58 310.95h5.64v1.55h-5.64zM215.58 314.06h5.64v1.55h-5.64zM215.58 326.48h5.64v3.11h-5.64zM215.58 331.14h5.64v3.11h-5.64zM215.58 335.80h5.64v3.11h-5.64zM215.58 343.57h5.64v3.11h-5.64zM215.58 348.23h5.64v4.66h-5.64zM215.58 355.99h5.64v7.77h-5.64zM215.58 365.31h5.64v4.66h-5.64zM221.22 210.00h5.64v1.55h-5.64zM221.22 213.11h5.64v1.55h-5.64zM221.22 216.21h5.64v1.55h-5.64zM221.22 222.43h5.64v1.55h-5.64zM221.22 225.53h5.64v4.66h-5.64zM221.22 231.74h5.64v1.55h-5.64zM221.22 234.85h5.64v1.55h-5.64zM221.22 237.96h5.64v1.55h-5.64zM221.22 250.38h5.64v1.55h-5.64zM221.22 253.49h5.64v3.11h-5.64zM221.22 258.15h5.64v1.55h-5.64zM221.22 265.91h5.64v3.11h-5.64zM221.22 270.57h5.64v1.55h-5.64zM221.22 281.44h5.64v1.55h-5.64zM221.22 284.55h5.64v1.55h-5.64zM221.22 287.66h5.64v3.11h-5.64zM221.22 293.87h5.64v3.11h-5.64zM221.22 298.53h5.64v1.55h-5.64zM221.22 306.29h5.64v1.55h-5.64zM221.22 309.40h5.64v6.21h-5.64zM221.22 320.27h5.64v4.66h-5.64zM221.22 326.48h5.64v1.55h-5.64zM221.22 331.14h5.64v3.11h-5.64zM221.22 345.12h5.64v1.55h-5.64zM221.22 351.33h5.64v1.55h-5.64zM221.22 355.99h5.64v3.11h-5.64zM221.22 360.65h5.64v1.55h-5.64zM221.22 363.76h5.64v4.66h-5.64zM221.22 369.97h5.64v1.55h-5.64zM221.22 385.50h5.64v1.55h-5.64zM226.86 213.11h5.64v4.66h-5.64zM226.86 219.32h5.64v4.66h-5.64zM226.86 225.53h5.64v1.55h-5.64zM226.86 228.64h5.64v3.11h-5.64zM226.86 233.30h5.64v3.11h-5.64zM226.86 237.96h5.64v3.11h-5.64zM226.86 244.17h5.64v1.55h-5.64zM226.86 247.28h5.64v1.55h-5.64zM226.86 250.38h5.64v1.55h-5.64zM226.86 253.49h5.64v1.55h-5.64zM226.86 256.59h5.64v1.55h-5.64zM226.86 259.70h5.64v1.55h-5.64zM226.86 262.81h5.64v4.66h-5.64zM226.86 269.02h5.64v1.55h-5.64zM226.86 273.68h5.64v1.55h-5.64zM226.86 278.34h5.64v4.66h-5.64zM226.86 284.55h5.64v1.55h-5.64zM226.86 287.66h5.64v4.66h-5.64zM226.86 296.98h5.64v3.11h-5.64zM226.86 307.85h5.64v6.21h-5.64zM226.86 321.82h5.64v1.55h-5.64zM226.86 324.93h5.64v4.66h-5.64zM226.86 332.70h5.64v1.55h-5.64zM226.86 338.91h5.64v3.11h-5.64zM226.86 345.12h5.64v6.21h-5.64zM226.86 354.44h5.64v4.66h-5.64zM226.86 362.21h5.64v1.55h-5.64zM226.86 366.87h5.64v4.66h-5.64zM226.86 383.95h5.64v1.55h-5.64zM226.86 388.61h5.64v1.55h-5.64zM226.86 394.82h5.64v4.66h-5.64zM226.86 402.59h5.64v1.55h-5.64zM226.86 408.80h5.64v1.55h-5.64zM226.86 444.52h5.64v1.55h-5.64zM232.50 210.00h5.64v1.55h-5.64zM232.50 213.11h5.64v3.11h-5.64zM232.50 219.32h5.64v6.21h-5.64zM232.50 230.19h5.64v4.66h-5.64zM232.50 237.96h5.64v1.55h-5.64zM232.50 244.17h5.64v1.55h-5.64zM232.50 247.28h5.64v1.55h-5.64zM232.50 250.38h5.64v9.32h-5.64zM232.50 265.91h5.64v1.55h-5.64zM232.50 269.02h5.64v3.11h-5.64zM232.50 273.68h5.64v1.55h-5.64zM232.50 276.78h5.64v3.11h-5.64zM232.50 281.44h5.64v1.55h-5.64zM232.50 284.55h5.64v3.11h-5.64zM232.50 292.32h5.64v12.43h-5.64zM232.50 306.29h5.64v3.11h-5.64zM232.50 310.95h5.64v1.55h-5.64zM232.50 314.06h5.64v1.55h-5.64zM232.50 317.17h5.64v3.11h-5.64zM232.50 321.82h5.64v1.55h-5.64zM232.50 324.93h5.64v3.11h-5.64zM232.50 329.59h5.64v1.55h-5.64zM232.50 332.70h5.64v1.55h-5.64zM232.50 335.80h5.64v6.21h-5.64zM232.50 343.57h5.64v3.11h-5.64zM232.50 349.78h5.64v1.55h-5.64zM232.50 355.99h5.64v3.11h-5.64zM232.50 360.65h5.64v1.55h-5.64zM232.50 363.76h5.64v1.55h-5.64zM232.50 366.87h5.64v1.55h-5.64zM232.50 379.29h5.64v4.66h-5.64zM232.50 391.72h5.64v3.11h-5.64zM232.50 397.93h5.64v1.55h-5.64zM232.50 401.03h5.64v1.55h-5.64zM232.50 408.80h5.64v1.55h-5.64zM232.50 421.23h5.64v1.55h-5.64zM238.14 211.55h5.64v3.11h-5.64zM238.14 217.77h5.64v1.55h-5.64zM238.14 220.87h5.64v1.55h-5.64zM238.14 223.98h5.64v4.66h-5.64zM238.14 231.74h5.64v1.55h-5.64zM238.14 234.85h5.64v1.55h-5.64zM238.14 237.96h5.64v1.55h-5.64zM238.14 247.28h5.64v1.55h-5.64zM238.14 250.38h5.64v6.21h-5.64zM238.14 258.15h5.64v4.66h-5.64zM238.14 265.91h5.64v1.55h-5.64zM238.14 269.02h5.64v4.66h-5.64zM238.14 278.34h5.64v1.55h-5.64zM238.14 281.44h5.64v3.11h-5.64zM238.14 286.10h5.64v1.55h-5.64zM238.14 289.21h5.64v4.66h-5.64zM238.14 295.42h5.64v3.11h-5.64zM238.14 303.19h5.64v1.55h-5.64zM238.14 307.85h5.64v4.66h-5.64zM238.14 314.06h5.64v3.11h-5.64zM238.14 320.27h5.64v1.55h-5.64zM238.14 324.93h5.64v4.66h-5.64zM238.14 331.14h5.64v3.11h-5.64zM238.14 337.36h5.64v3.11h-5.64zM238.14 342.02h5.64v3.11h-5.64zM238.14 346.68h5.64v1.55h-5.64zM238.14 351.33h5.64v1.55h-5.64zM238.14 357.55h5.64v1.55h-5.64zM238.14 363.76h5.64v7.77h-5.64zM238.14 376.18h5.64v4.66h-5.64zM238.14 391.72h5.64v1.55h-5.64zM238.14 397.93h5.64v3.11h-5.64zM238.14 402.59h5.64v1.55h-5.64zM238.14 411.91h5.64v1.55h-5.64zM243.78 236.40h5.64v1.55h-5.64zM243.78 241.06h5.64v3.11h-5.64zM243.78 255.04h5.64v1.55h-5.64zM243.78 284.55h5.64v1.55h-5.64zM243.78 289.21h5.64v1.55h-5.64zM243.78 292.32h5.64v1.55h-5.64zM243.78 295.42h5.64v1.55h-5.64zM243.78 298.53h5.64v1.55h-5.64zM243.78 301.63h5.64v1.55h-5.64zM243.78 304.74h5.64v1.55h-5.64zM243.78 312.51h5.64v1.55h-5.64zM243.78 323.38h5.64v1.55h-5.64zM243.78 329.59h5.64v1.55h-5.64zM243.78 332.70h5.64v3.11h-5.64zM243.78 342.02h5.64v6.21h-5.64zM243.78 351.33h5.64v1.55h-5.64zM243.78 355.99h5.64v1.55h-5.64zM243.78 359.10h5.64v3.11h-5.64zM249.42 219.32h5.64v1.55h-5.64zM249.42 228.64h5.64v1.55h-5.64zM249.42 233.30h5.64v1.55h-5.64zM249.42 248.83h5.64v1.55h-5.64zM249.42 251.93h5.64v1.55h-5.64zM249.42 261.25h5.64v1.55h-5.64zM249.42 273.68h5.64v3.11h-5.64zM249.42 279.89h5.64v4.66h-5.64zM249.42 287.66h5.64v1.55h-5.64zM249.42 292.32h5.64v1.55h-5.64zM249.42 295.42h5.64v1.55h-5.64zM249.42 298.53h5.64v9.32h-5.64zM249.42 309.40h5.64v1.55h-5.64zM249.42 314.06h5.64v1.55h-5.64zM249.42 317.17h5.64v4.66h-5.64zM249.42 323.38h5.64v3.11h-5.64zM249.42 328.04h5.64v3.11h-5.64zM249.42 337.36h5.64v1.55h-5.64zM249.42 343.57h5.64v4.66h-5.64zM249.42 349.78h5.64v3.11h-5.64zM249.42 355.99h5.64v1.55h-5.64zM249.42 362.21h5.64v3.11h-5.64zM249.42 366.87h5.64v1.55h-5.64zM249.42 369.97h5.64v1.55h-5.64zM249.42 394.82h5.64v1.55h-5.64zM255.06 213.11h5.64v1.55h-5.64zM255.06 222.43h5.64v1.55h-5.64zM255.06 256.59h5.64v1.55h-5.64zM255.06 265.91h5.64v1.55h-5.64zM255.06 269.02h5.64v1.55h-5.64zM255.06 278.34h5.64v3.11h-5.64zM255.06 283.00h5.64v4.66h-5.64zM255.06 290.76h5.64v1.55h-5.64zM255.06 293.87h5.64v4.66h-5.64zM255.06 300.08h5.64v1.55h-5.64zM255.06 304.74h5.64v1.55h-5.64zM255.06 307.85h5.64v1.55h-5.64zM255.06 310.95h5.64v1.55h-5.64zM255.06 314.06h5.64v1.55h-5.64zM255.06 317.17h5.64v3.11h-5.64zM255.06 321.82h5.64v1.55h-5.64zM255.06 324.93h5.64v1.55h-5.64zM255.06 329.59h5.64v1.55h-5.64zM255.06 334.25h5.64v1.55h-5.64zM255.06 338.91h5.64v3.11h-5.64zM255.06 348.23h5.64v4.66h-5.64zM255.06 354.44h5.64v1.55h-5.64zM255.06 357.55h5.64v3.11h-5.64zM255.06 365.31h5.64v1.55h-5.64zM255.06 422.78h5.64v1.55h-5.64zM260.70 214.66h5.64v1.55h-5.64zM260.70 217.77h5.64v1.55h-5.64zM260.70 222.43h5.64v3.11h-5.64zM260.70 228.64h5.64v1.55h-5.64zM260.70 231.74h5.64v1.55h-5.64zM260.70 234.85h5.64v3.11h-5.64zM260.70 239.51h5.64v1.55h-5.64zM260.70 242.62h5.64v3.11h-5.64zM260.70 247.28h5.64v3.11h-5.64zM260.70 256.59h5.64v3.11h-5.64zM260.70 265.91h5.64v3.11h-5.64zM260.70 272.12h5.64v3.11h-5.64zM260.70 276.78h5.64v1.55h-5.64zM260.70 287.66h5.64v1.55h-5.64zM260.70 290.76h5.64v3.11h-5.64zM260.70 296.98h5.64v3.11h-5.64zM260.70 303.19h5.64v3.11h-5.64zM260.70 309.40h5.64v3.11h-5.64zM260.70 315.61h5.64v1.55h-5.64zM260.70 323.38h5.64v7.77h-5.64zM260.70 332.70h5.64v6.21h-5.64zM260.70 340.46h5.64v1.55h-5.64zM260.70 343.57h5.64v4.66h-5.64zM260.70 349.78h5.64v15.53h-5.64zM260.70 366.87h5.64v1.55h-5.64zM260.70 369.97h5.64v3.11h-5.64zM260.70 374.63h5.64v1.55h-5.64zM260.70 385.50h5.64v1.55h-5.64zM266.34 245.72h5.64v1.55h-5.64zM266.34 304.74h5.64v1.55h-5.64zM266.34 318.72h5.64v1.55h-5.64zM271.98 256.59h5.64v1.55h-5.64zM271.98 259.70h5.64v3.11h-5.64zM271.98 287.66h5.64v3.11h-5.64zM271.98 295.42h5.64v1.55h-5.64zM271.98 323.38h5.64v1.55h-5.64zM271.98 335.80h5.64v1.55h-5.64zM277.62 211.55h5.64v1.55h-5.64zM277.62 228.64h5.64v1.55h-5.64zM277.62 237.96h5.64v1.55h-5.64zM277.62 242.62h5.64v1.55h-5.64zM277.62 284.55h5.64v1.55h-5.64zM277.62 287.66h5.64v3.11h-5.64zM277.62 301.63h5.64v3.11h-5.64zM277.62 306.29h5.64v1.55h-5.64zM277.62 309.40h5.64v1.55h-5.64zM277.62 324.93h5.64v1.55h-5.64zM277.62 331.14h5.64v4.66h-5.64zM277.62 337.36h5.64v1.55h-5.64zM277.62 352.89h5.64v1.55h-5.64zM277.62 359.10h5.64v1.55h-5.64zM277.62 365.31h5.64v1.55h-5.64zM277.62 368.42h5.64v3.11h-5.64zM277.62 405.69h5.64v1.55h-5.64zM283.26 217.77h5.64v1.55h-5.64zM283.26 227.08h5.64v1.55h-5.64zM283.26 251.93h5.64v1.55h-5.64zM283.26 278.34h5.64v1.55h-5.64zM283.26 287.66h5.64v1.55h-5.64zM283.26 300.08h5.64v1.55h-5.64zM283.26 303.19h5.64v1.55h-5.64zM283.26 338.91h5.64v1.55h-5.64zM283.26 345.12h5.64v1.55h-5.64zM283.26 363.76h5.64v1.55h-5.64zM283.26 433.65h5.64v1.55h-5.64zM288.90 292.32h5.64v1.55h-5.64zM288.90 342.02h5.64v1.55h-5.64zM288.90 345.12h5.64v1.55h-5.64zM288.90 354.44h5.64v3.11h-5.64zM288.90 387.06h5.64v1.55h-5.64zM294.54 248.83h5.64v1.55h-5.64zM300.18 388.61h5.64v1.55h-5.64zM305.82 300.08h5.64v1.55h-5.64zM305.82 317.17h5.64v1.55h-5.64zM305.82 334.25h5.64v1.55h-5.64zM305.82 436.76h5.64v1.55h-5.64zM311.46 283.00h5.64v1.55h-5.64zM311.46 289.21h5.64v3.11h-5.64zM311.46 298.53h5.64v3.11h-5.64zM311.46 304.74h5.64v4.66h-5.64zM311.46 310.95h5.64v1.55h-5.64zM311.46 314.06h5.64v3.11h-5.64zM311.46 318.72h5.64v1.55h-5.64zM311.46 321.82h5.64v1.55h-5.64zM311.46 326.48h5.64v3.11h-5.64zM311.46 334.25h5.64v1.55h-5.64zM311.46 338.91h5.64v1.55h-5.64zM311.46 342.02h5.64v3.11h-5.64zM311.46 346.68h5.64v3.11h-5.64zM311.46 357.55h5.64v1.55h-5.64zM311.46 365.31h5.64v1.55h-5.64zM311.46 368.42h5.64v3.11h-5.64zM311.46 435.20h5.64v1.55h-5.64zM317.10 225.53h5.64v1.55h-5.64zM317.10 228.64h5.64v1.55h-5.64zM317.10 245.72h5.64v1.55h-5.64zM317.10 255.04h5.64v1.55h-5.64zM317.10 258.15h5.64v1.55h-5.64zM317.10 273.68h5.64v1.55h-5.64zM317.10 283.00h5.64v1.55h-5.64zM317.10 286.10h5.64v4.66h-5.64zM317.10 292.32h5.64v3.11h-5.64zM317.10 304.74h5.64v1.55h-5.64zM317.10 323.38h5.64v1.55h-5.64zM317.10 334.25h5.64v1.55h-5.64zM317.10 351.33h5.64v1.55h-5.64zM317.10 452.29h5.64v1.55h-5.64zM322.74 223.98h5.64v1.55h-5.64zM322.74 258.15h5.64v1.55h-5.64zM322.74 281.44h5.64v1.55h-5.64zM322.74 284.55h5.64v1.55h-5.64zM322.74 287.66h5.64v1.55h-5.64zM322.74 292.32h5.64v1.55h-5.64zM322.74 304.74h5.64v1.55h-5.64zM322.74 314.06h5.64v1.55h-5.64zM322.74 329.59h5.64v1.55h-5.64zM322.74 363.76h5.64v1.55h-5.64zM328.40 236.40h6.50v1.55h-6.50zM328.40 287.66h6.50v3.11h-6.50zM328.40 292.32h6.50v1.55h-6.50zM328.40 304.74h6.50v3.11h-6.50zM328.40 317.17h6.50v1.55h-6.50zM328.40 321.82h6.50v1.55h-6.50zM328.40 326.48h6.50v1.55h-6.50zM328.40 334.25h6.50v1.55h-6.50zM328.40 337.36h6.50v1.55h-6.50zM328.40 340.46h6.50v1.55h-6.50zM328.40 363.76h6.50v4.66h-6.50zM328.40 374.63h6.50v1.55h-6.50zM328.40 442.97h6.50v1.55h-6.50zM334.90 256.59h6.60v3.11h-6.60zM334.90 369.97h6.60v1.55h-6.60z"/>
<path fill="#1420d0" d="M91.50 211.55h5.64v1.55h-5.64zM91.50 230.19h5.64v1.55h-5.64zM91.50 233.30h5.64v1.55h-5.64zM91.50 256.59h5.64v1.55h-5.64zM91.50 265.91h5.64v1.55h-5.64zM91.50 275.23h5.64v1.55h-5.64zM91.50 289.21h5.64v1.55h-5.64zM91.50 303.19h5.64v1.55h-5.64zM91.50 337.36h5.64v1.55h-5.64zM91.50 354.44h5.64v1.55h-5.64zM91.50 360.65h5.64v1.55h-5.64zM91.50 369.97h5.64v1.55h-5.64zM97.14 304.74h5.64v3.11h-5.64zM97.14 357.55h5.64v1.55h-5.64zM102.78 230.19h5.64v1.55h-5.64zM102.78 264.36h5.64v1.55h-5.64zM102.78 326.48h5.64v1.55h-5.64zM102.78 334.25h5.64v1.55h-5.64zM102.78 337.36h5.64v1.55h-5.64zM102.78 354.44h5.64v1.55h-5.64zM108.42 211.55h5.64v1.55h-5.64zM108.42 214.66h5.64v1.55h-5.64zM108.42 283.00h5.64v3.11h-5.64zM108.42 317.17h5.64v1.55h-5.64zM108.42 365.31h5.64v1.55h-5.64zM114.06 211.55h5.64v1.55h-5.64zM114.06 214.66h5.64v3.11h-5.64zM114.06 251.93h5.64v1.55h-5.64zM114.06 267.47h5.64v1.55h-5.64zM114.06 293.87h5.64v1.55h-5.64zM114.06 346.68h5.64v1.55h-5.64zM114.06 351.33h5.64v1.55h-5.64zM114.06 383.95h5.64v1.55h-5.64zM114.06 390.16h5.64v1.55h-5.64zM114.06 396.38h5.64v1.55h-5.64zM114.06 399.48h5.64v3.11h-5.64zM114.06 419.67h5.64v1.55h-5.64zM119.70 211.55h5.64v1.55h-5.64zM119.70 230.19h5.64v1.55h-5.64zM119.70 239.51h5.64v1.55h-5.64zM119.70 242.62h5.64v1.55h-5.64zM119.70 247.28h5.64v1.55h-5.64zM119.70 253.49h5.64v1.55h-5.64zM119.70 256.59h5.64v1.55h-5.64zM119.70 265.91h5.64v1.55h-5.64zM119.70 275.23h5.64v1.55h-5.64zM119.70 349.78h5.64v1.55h-5.64zM119.70 371.52h5.64v1.55h-5.64zM119.70 385.50h5.64v1.55h-5.64zM119.70 390.16h5.64v1.55h-5.64zM125.34 303.19h5.64v1.55h-5.64zM125.34 318.72h5.64v1.55h-5.64zM130.98 223.98h5.64v3.11h-5.64zM130.98 228.64h5.64v1.55h-5.64zM130.98 251.93h5.64v1.55h-5.64zM130.98 312.51h5.64v1.55h-5.64zM130.98 320.27h5.64v1.55h-5.64zM130.98 324.93h5.64v1.55h-5.64zM130.98 342.02h5.64v1.55h-5.64zM130.98 351.33h5.64v1.55h-5.64zM136.62 214.66h5.64v1.55h-5.64zM136.62 241.06h5.64v1.55h-5.64zM136.62 248.83h5.64v1.55h-5.64zM136.62 262.81h5.64v1.55h-5.64zM136.62 275.23h5.64v1.55h-5.64zM136.62 279.89h5.64v1.55h-5.64zM136.62 284.55h5.64v1.55h-5.64zM136.62 301.63h5.64v1.55h-5.64zM136.62 306.29h5.64v1.55h-5.64zM136.62 323.38h5.64v1.55h-5.64zM136.62 328.04h5.64v1.55h-5.64zM136.62 362.21h5.64v1.55h-5.64zM136.62 368.42h5.64v1.55h-5.64zM136.62 393.27h5.64v1.55h-5.64zM136.62 397.93h5.64v1.55h-5.64zM136.62 444.52h5.64v1.55h-5.64zM142.26 219.32h5.64v1.55h-5.64zM142.26 223.98h5.64v1.55h-5.64zM142.26 228.64h5.64v1.55h-5.64zM142.26 278.34h5.64v1.55h-5.64zM142.26 303.19h5.64v1.55h-5.64zM142.26 335.80h5.64v1.55h-5.64zM142.26 368.42h5.64v1.55h-5.64zM142.26 453.84h5.64v1.55h-5.64zM147.90 213.11h5.64v1.55h-5.64zM147.90 217.77h5.64v1.55h-5.64zM147.90 234.85h5.64v1.55h-5.64zM147.90 251.93h5.64v3.11h-5.64zM147.90 259.70h5.64v1.55h-5.64zM147.90 269.02h5.64v1.55h-5.64zM147.90 273.68h5.64v1.55h-5.64zM147.90 279.89h5.64v3.11h-5.64zM147.90 318.72h5.64v1.55h-5.64zM147.90 331.14h5.64v1.55h-5.64zM153.54 236.40h5.64v1.55h-5.64zM153.54 326.48h5.64v3.11h-5.64zM153.54 354.44h5.64v1.55h-5.64zM153.54 365.31h5.64v1.55h-5.64zM159.18 227.08h5.64v1.55h-5.64zM159.18 230.19h5.64v1.55h-5.64zM159.18 346.68h5.64v1.55h-5.64zM164.82 219.32h5.64v1.55h-5.64zM164.82 227.08h5.64v1.55h-5.64zM164.82 231.74h5.64v1.55h-5.64zM164.82 236.40h5.64v1.55h-5.64zM164.82 242.62h5.64v1.55h-5.64zM164.82 251.93h5.64v1.55h-5.64zM164.82 295.42h5.64v1.55h-5.64zM164.82 314.06h5.64v1.55h-5.64zM164.82 321.82h5.64v1.55h-5.64zM164.82 335.80h5.64v1.55h-5.64zM164.82 368.42h5.64v1.55h-5.64zM164.82 371.52h5.64v1.55h-5.64zM164.82 404.14h5.64v1.55h-5.64zM170.46 342.02h5.64v1.55h-5.64zM170.46 352.89h5.64v1.55h-5.64zM176.10 321.82h5.64v1.55h-5.64zM176.10 326.48h5.64v1.55h-5.64zM176.10 359.10h5.64v1.55h-5.64zM181.74 222.43h5.64v1.55h-5.64zM181.74 239.51h5.64v1.55h-5.64zM181.74 265.91h5.64v1.55h-5.64zM181.74 270.57h5.64v1.55h-5.64zM181.74 284.55h5.64v1.55h-5.64zM181.74 292.32h5.64v1.55h-5.64zM181.74 323.38h5.64v1.55h-5.64zM181.74 329.59h5.64v3.11h-5.64zM181.74 357.55h5.64v1.55h-5.64zM181.74 360.65h5.64v3.11h-5.64zM181.74 404.14h5.64v1.55h-5.64zM181.74 411.91h5.64v1.55h-5.64zM187.38 213.11h5.64v3.11h-5.64zM187.38 217.77h5.64v1.55h-5.64zM187.38 227.08h5.64v1.55h-5.64zM187.38 239.51h5.64v1.55h-5.64zM187.38 281.44h5.64v1.55h-5.64zM187.38 287.66h5.64v1.55h-5.64zM187.38 317.17h5.64v1.55h-5.64zM187.38 328.04h5.64v1.55h-5.64zM187.38 335.80h5.64v1.55h-5.64zM187.38 346.68h5.64v1.55h-5.64zM187.38 359.10h5.64v1.55h-5.64zM187.38 369.97h5.64v1.55h-5.64zM193.02 227.08h5.64v1.55h-5.64zM193.02 236.40h5.64v1.55h-5.64zM193.02 239.51h5.64v1.55h-5.64zM193.02 264.36h5.64v1.55h-5.64zM193.02 267.47h5.64v1.55h-5.64zM193.02 334.25h5.64v1.55h-5.64zM193.02 345.12h5.64v3.11h-5.64zM193.02 359.10h5.64v1.55h-5.64zM193.02 362.21h5.64v3.11h-5.64zM193.02 369.97h5.64v1.55h-5.64zM193.02 379.29h5.64v1.55h-5.64zM193.02 382.40h5.64v1.55h-5.64zM198.66 211.55h5.64v1.55h-5.64zM198.66 298.53h5.64v3.11h-5.64zM198.66 303.19h5.64v1.55h-5.64zM198.66 334.25h5.64v3.11h-5.64zM198.66 342.02h5.64v1.55h-5.64zM198.66 355.99h5.64v3.11h-5.64zM198.66 363.76h5.64v1.55h-5.64zM204.30 233.30h5.64v1.55h-5.64zM204.30 236.40h5.64v1.55h-5.64zM204.30 250.38h5.64v1.55h-5.64zM204.30 256.59h5.64v1.55h-5.64zM204.30 259.70h5.64v1.55h-5.64zM204.30 264.36h5.64v3.11h-5.64zM204.30 272.12h5.64v1.55h-5.64zM204.30 293.87h5.64v1.55h-5.64zM204.30 314.06h5.64v1.55h-5.64zM204.30 337.36h5.64v3.11h-5.64zM204.30 342.02h5.64v1.55h-5.64zM204.30 368.42h5.64v1.55h-5.64zM204.30 374.63h5.64v1.55h-5.64zM204.30 383.95h5.64v1.55h-5.64zM204.30 393.27h5.64v1.55h-5.64zM204.30 397.93h5.64v1.55h-5.64zM209.94 222.43h5.64v1.55h-5.64zM209.94 236.40h5.64v1.55h-5.64zM209.94 244.17h5.64v1.55h-5.64zM209.94 248.83h5.64v1.55h-5.64zM209.94 251.93h5.64v1.55h-5.64zM209.94 255.04h5.64v3.11h-5.64zM209.94 265.91h5.64v1.55h-5.64zM209.94 269.02h5.64v1.55h-5.64zM209.94 287.66h5.64v1.55h-5.64zM209.94 292.32h5.64v1.55h-5.64zM209.94 312.51h5.64v1.55h-5.64zM209.94 334.25h5.64v1.55h-5.64zM209.94 337.36h5.64v1.55h-5.64zM209.94 340.46h5.64v1.55h-5.64zM209.94 369.97h5.64v1.55h-5.64zM215.58 230.19h5.64v1.55h-5.64zM215.58 250.38h5.64v1.55h-5.64zM215.58 258.15h5.64v1.55h-5.64zM215.58 307.85h5.64v1.55h-5.64zM215.58 315.61h5.64v3.11h-5.64zM215.58 320.27h5.64v1.55h-5.64zM215.58 334.25h5.64v1.55h-5.64zM215.58 444.52h5.64v1.55h-5.64zM221.22 230.19h5.64v1.55h-5.64zM221.22 233.30h5.64v1.55h-5.64zM221.22 247.28h5.64v3.11h-5.64zM221.22 251.93h5.64v1.55h-5.64zM221.22 259.70h5.64v3.11h-5.64zM221.22 264.36h5.64v1.55h-5.64zM221.22 275.23h5.64v1.55h-5.64zM221.22 278.34h5.64v1.55h-5.64zM221.22 286.10h5.64v1.55h-5.64zM221.22 352.89h5.64v1.55h-5.64zM221.22 368.42h5.64v1.55h-5.64zM226.86 231.74h5.64v1.55h-5.64zM226.86 236.40h5.64v1.55h-5.64zM226.86 241.06h5.64v1.55h-5.64zM226.86 275.23h5.64v3.11h-5.64zM226.86 292.32h5.64v1.55h-5.64zM226.86 329.59h5.64v1.55h-5.64zM226.86 351.33h5.64v1.55h-5.64zM226.86 363.76h5.64v1.55h-5.64zM226.86 376.18h5.64v1.55h-5.64zM226.86 399.48h5.64v1.55h-5.64zM226.86 416.57h5.64v1.55h-5.64zM226.86 453.84h5.64v1.55h-5.64zM232.50 225.53h5.64v1.55h-5.64zM232.50 228.64h5.64v1.55h-5.64zM232.50 248.83h5.64v1.55h-5.64zM232.50 264.36h5.64v1.55h-5.64zM232.50 290.76h5.64v1.55h-5.64zM232.50 346.68h5.64v1.55h-5.64zM232.50 351.33h5.64v1.55h-5.64zM232.50 362.21h5.64v1.55h-5.64zM232.50 371.52h5.64v1.55h-5.64zM232.50 374.63h5.64v1.55h-5.64zM232.50 396.38h5.64v1.55h-5.64zM232.50 405.69h5.64v3.11h-5.64zM238.14 210.00h5.64v1.55h-5.64zM238.14 241.06h5.64v4.66h-5.64zM238.14 273.68h5.64v1.55h-5.64zM238.14 276.78h5.64v1.55h-5.64zM238.14 304.74h5.64v3.11h-5.64zM238.14 329.59h5.64v1.55h-5.64zM238.14 352.89h5.64v1.55h-5.64zM238.14 388.61h5.64v1.55h-5.64zM238.14 394.82h5.64v1.55h-5.64zM238.14 401.03h5.64v1.55h-5.64zM238.14 404.14h5.64v1.55h-5.64zM243.78 251.93h5.64v1.55h-5.64zM243.78 262.81h5.64v1.55h-5.64zM243.78 324.93h5.64v1.55h-5.64zM243.78 363.76h5.64v1.55h-5.64zM243.78 369.97h5.64v1.55h-5.64zM249.42 213.11h5.64v1.55h-5.64zM249.42 227.08h5.64v1.55h-5.64zM249.42 231.74h5.64v1.55h-5.64zM249.42 258.15h5.64v1.55h-5.64zM249.42 262.81h5.64v1.55h-5.64zM249.42 267.47h5.64v1.55h-5.64zM249.42 289.21h5.64v1.55h-5.64zM249.42 310.95h5.64v3.11h-5.64zM249.42 315.61h5.64v1.55h-5.64zM249.42 332.70h5.64v1.55h-5.64zM249.42 335.80h5.64v1.55h-5.64zM249.42 340.46h5.64v1.55h-5.64zM249.42 396.38h5.64v1.55h-5.64zM255.06 250.38h5.64v1.55h-5.64zM255.06 275.23h5.64v3.11h-5.64zM255.06 366.87h5.64v1.55h-5.64zM260.70 210.00h5.64v4.66h-5.64zM260.70 219.32h5.64v1.55h-5.64zM260.70 250.38h5.64v1.55h-5.64zM260.70 253.49h5.64v1.55h-5.64zM260.70 264.36h5.64v1.55h-5.64zM260.70 269.02h5.64v1.55h-5.64zM260.70 289.21h5.64v1.55h-5.64zM260.70 306.29h5.64v3.11h-5.64zM260.70 338.91h5.64v1.55h-5.64zM260.70 342.02h5.64v1.55h-5.64zM260.70 396.38h5.64v1.55h-5.64zM266.34 281.44h5.64v1.55h-5.64zM277.62 219.32h5.64v1.55h-5.64zM277.62 286.10h5.64v1.55h-5.64zM277.62 338.91h5.64v1.55h-5.64zM277.62 355.99h5.64v1.55h-5.64zM277.62 373.08h5.64v1.55h-5.64zM283.26 211.55h5.64v1.55h-5.64zM283.26 241.06h5.64v1.55h-5.64zM283.26 255.04h5.64v1.55h-5.64zM283.26 286.10h5.64v1.55h-5.64zM283.26 368.42h5.64v1.55h-5.64zM283.26 442.97h5.64v1.55h-5.64zM288.90 317.17h5.64v1.55h-5.64zM294.54 256.59h5.64v1.55h-5.64zM294.54 332.70h5.64v1.55h-5.64zM300.18 377.74h5.64v1.55h-5.64zM311.46 309.40h5.64v1.55h-5.64zM311.46 383.95h5.64v1.55h-5.64zM311.46 391.72h5.64v1.55h-5.64zM317.10 275.23h5.64v1.55h-5.64zM317.10 332.70h5.64v1.55h-5.64zM317.10 345.12h5.64v1.55h-5.64zM322.74 241.06h5.64v1.55h-5.64zM322.74 248.83h5.64v1.55h-5.64zM322.74 318.72h5.64v1.55h-5.64zM322.74 321.82h5.64v1.55h-5.64zM328.40 318.72h6.50v1.55h-6.50zM328.40 338.91h6.50v1.55h-6.50z"/>
<path fill="#fca400" d="M91.50 214.66h5.64v1.55h-5.64zM91.50 227.08h5.64v1.55h-5.64zM91.50 309.40h5.64v1.55h-5.64zM91.50 374.63h5.64v3.11h-5.64zM91.50 394.82h5.64v1.55h-5.64zM91.50 399.48h5.64v1.55h-5.64zM91.50 404.14h5.64v1.55h-5.64zM91.50 411.91h5.64v3.11h-5.64zM91.50 421.23h5.64v9.32h-5.64zM91.50 432.10h5.64v3.11h-5.64zM91.50 436.76h5.64v1.55h-5.64zM91.50 439.86h5.64v1.55h-5.64zM91.50 446.08h5.64v1.55h-5.64zM91.50 449.18h5.64v1.55h-5.64zM91.50 456.95h5.64v1.55h-5.64zM97.14 211.55h5.64v1.55h-5.64zM97.14 216.21h5.64v4.66h-5.64zM97.14 222.43h5.64v1.55h-5.64zM97.14 227.08h5.64v3.11h-5.64zM97.14 236.40h5.64v4.66h-5.64zM97.14 244.17h5.64v1.55h-5.64zM97.14 247.28h5.64v7.77h-5.64zM97.14 258.15h5.64v3.11h-5.64zM97.14 265.91h5.64v3.11h-5.64zM97.14 273.68h5.64v1.55h-5.64zM97.14 281.44h5.64v1.55h-5.64zM97.14 312.51h5.64v1.55h-5.64zM97.14 332.70h5.64v1.55h-5.64zM97.14 335.80h5.64v1.55h-5.64zM97.14 343.57h5.64v1.55h-5.64zM97.14 351.33h5.64v1.55h-5.64zM97.14 359.10h5.64v1.55h-5.64zM97.14 365.31h5.64v1.55h-5.64zM97.14 374.63h5.64v4.66h-5.64zM97.14 394.82h5.64v1.55h-5.64zM97.14 397.93h5.64v3.11h-5.64zM97.14 404.14h5.64v4.66h-5.64zM97.14 410.35h5.64v1.55h-5.64zM97.14 415.01h5.64v1.55h-5.64zM97.14 419.67h5.64v1.55h-5.64zM97.14 424.33h5.64v3.11h-5.64zM97.14 428.99h5.64v1.55h-5.64zM97.14 433.65h5.64v1.55h-5.64zM97.14 439.86h5.64v1.55h-5.64zM97.14 442.97h5.64v3.11h-5.64zM97.14 447.63h5.64v3.11h-5.64zM97.14 452.29h5.64v1.55h-5.64zM97.14 456.95h5.64v1.55h-5.64zM102.78 211.55h5.64v1.55h-5.64zM102.78 216.21h5.64v1.55h-5.64zM102.78 219.32h5.64v1.55h-5.64zM102.78 228.64h5.64v1.55h-5.64zM102.78 234.85h5.64v4.66h-5.64zM102.78 245.72h5.64v1.55h-5.64zM102.78 248.83h5.64v1.55h-5.64zM102.78 251.93h5.64v1.55h-5.64zM102.78 256.59h5.64v1.55h-5.64zM102.78 267.47h5.64v1.55h-5.64zM102.78 275.23h5.64v1.55h-5.64zM102.78 279.89h5.64v1.55h-5.64zM102.78 376.18h5.64v3.11h-5.64zM102.78 383.95h5.64v1.55h-5.64zM102.78 387.06h5.64v4.66h-5.64zM102.78 396.38h5.64v1.55h-5.64zM102.78 399.48h5.64v1.55h-5.64zM102.78 402.59h5.64v1.55h-5.64zM102.78 411.91h5.64v4.66h-5.64zM102.78 419.67h5.64v1.55h-5.64zM102.78 422.78h5.64v6.21h-5.64zM102.78 430.54h5.64v1.55h-5.64zM102.78 436.76h5.64v6.21h-5.64zM102.78 446.08h5.64v4.66h-5.64zM102.78 456.95h5.64v1.55h-5.64zM108.42 213.11h5.64v1.55h-5.64zM108.42 222.43h5.64v1.55h-5.64zM108.42 245.72h5.64v3.11h-5.64zM108.42 261.25h5.64v3.11h-5.64zM108.42 270.57h5.64v1.55h-5.64zM108.42 278.34h5.64v1.55h-5.64zM108.42 377.74h5.64v1.55h-5.64zM108.42 383.95h5.64v1.55h-5.64zM108.42 387.06h5.64v1.55h-5.64zM108.42 391.72h5.64v1.55h-5.64zM108.42 394.82h5.64v3.11h-5.64zM108.42 399.48h5.64v3.11h-5.64zM108.42 404.14h5.64v3.11h-5.64zM108.42 408.80h5.64v6.21h-5.64zM108.42 418.12h5.64v1.55h-5.64zM108.42 422.78h5.64v1.55h-5.64zM108.42 425.88h5.64v1.55h-5.64zM108.42 433.65h5.64v1.55h-5.64zM108.42 446.08h5.64v1.55h-5.64zM108.42 449.18h5.64v3.11h-5.64zM114.06 230.19h5.64v1.55h-5.64zM114.06 318.72h5.64v1.55h-5.64zM114.06 379.29h5.64v1.55h-5.64zM114.06 411.91h5.64v1.55h-5.64zM114.06 416.57h5.64v1.55h-5.64zM114.06 422.78h5.64v1.55h-5.64zM114.06 427.44h5.64v1.55h-5.64zM114.06 435.20h5.64v1.55h-5.64zM119.70 373.08h5.64v1.55h-5.64zM119.70 377.74h5.64v1.55h-5.64zM119.70 419.67h5.64v3.11h-5.64zM119.70 427.44h5.64v1.55h-5.64zM119.70 432.10h5.64v1.55h-5.64zM119.70 435.20h5.64v1.55h-5.64zM119.70 439.86h5.64v1.55h-5.64zM119.70 449.18h5.64v1.55h-5.64zM119.70 452.29h5.64v3.11h-5.64zM119.70 456.95h5.64v1.55h-5.64zM125.34 214.66h5.64v1.55h-5.64zM125.34 223.98h5.64v1.55h-5.64zM125.34 230.19h5.64v1.55h-5.64zM125.34 234.85h5.64v3.11h-5.64zM125.34 242.62h5.64v1.55h-5.64zM125.34 251.93h5.64v1.55h-5.64zM125.34 256.59h5.64v1.55h-5.64zM125.34 267.47h5.64v1.55h-5.64zM125.34 270.57h5.64v4.66h-5.64zM125.34 278.34h5.64v1.55h-5.64zM125.34 374.63h5.64v1.55h-5.64zM125.34 379.29h5.64v1.55h-5.64zM125.34 382.40h5.64v3.11h-5.64zM125.34 391.72h5.64v4.66h-5.64zM125.34 397.93h5.64v1.55h-5.64zM125.34 402.59h5.64v1.55h-5.64zM125.34 408.80h5.64v3.11h-5.64zM125.34 413.46h5.64v6.21h-5.64zM125.34 422.78h5.64v1.55h-5.64zM125.34 427.44h5.64v1.55h-5.64zM125.34 436.76h5.64v3.11h-5.64zM125.34 446.08h5.64v1.55h-5.64zM125.34 450.73h5.64v1.55h-5.64zM130.98 211.55h5.64v1.55h-5.64zM130.98 214.66h5.64v1.55h-5.64zM130.98 231.74h5.64v1.55h-5.64zM130.98 234.85h5.64v1.55h-5.64zM130.98 237.96h5.64v1.55h-5.64zM130.98 245.72h5.64v1.55h-5.64zM130.98 261.25h5.64v1.55h-5.64zM130.98 371.52h5.64v3.11h-5.64zM130.98 377.74h5.64v1.55h-5.64zM130.98 382.40h5.64v1.55h-5.64zM130.98 385.50h5.64v1.55h-5.64zM130.98 388.61h5.64v1.55h-5.64zM130.98 391.72h5.64v1.55h-5.64zM130.98 399.48h5.64v1.55h-5.64zM130.98 402.59h5.64v3.11h-5.64zM130.98 407.25h5.64v3.11h-5.64zM130.98 411.91h5.64v1.55h-5.64zM130.98 415.01h5.64v1.55h-5.64zM130.98 418.12h5.64v3.11h-5.64zM130.98 422.78h5.64v1.55h-5.64zM130.98 428.99h5.64v1.55h-5.64zM130.98 436.76h5.64v6.21h-5.64zM130.98 449.18h5.64v3.11h-5.64zM130.98 455.39h5.64v3.11h-5.64zM136.62 380.84h5.64v1.55h-5.64zM136.62 411.91h5.64v3.11h-5.64zM136.62 424.33h5.64v1.55h-5.64zM136.62 432.10h5.64v1.55h-5.64zM136.62 435.20h5.64v1.55h-5.64zM136.62 438.31h5.64v4.66h-5.64zM136.62 447.63h5.64v1.55h-5.64zM136.62 452.29h5.64v1.55h-5.64zM136.62 456.95h5.64v1.55h-5.64zM142.26 234.85h5.64v1.55h-5.64zM142.26 237.96h5.64v1.55h-5.64zM142.26 267.47h5.64v1.55h-5.64zM142.26 295.42h5.64v1.55h-5.64zM142.26 373.08h5.64v1.55h-5.64zM142.26 377.74h5.64v1.55h-5.64zM142.26 383.95h5.64v1.55h-5.64zM142.26 391.72h5.64v4.66h-5.64zM142.26 399.48h5.64v3.11h-5.64zM142.26 404.14h5.64v1.55h-5.64zM142.26 411.91h5.64v1.55h-5.64zM142.26 418.12h5.64v1.55h-5.64zM142.26 422.78h5.64v1.55h-5.64zM142.26 425.88h5.64v1.55h-5.64zM142.26 430.54h5.64v1.55h-5.64zM142.26 433.65h5.64v3.11h-5.64zM142.26 439.86h5.64v1.55h-5.64zM142.26 450.73h5.64v3.11h-5.64zM142.26 455.39h5.64v1.55h-5.64zM147.90 216.21h5.64v1.55h-5.64zM147.90 241.06h5.64v1.55h-5.64zM147.90 250.38h5.64v1.55h-5.64zM147.90 267.47h5.64v1.55h-5.64zM147.90 371.52h5.64v3.11h-5.64zM147.90 377.74h5.64v1.55h-5.64zM147.90 383.95h5.64v1.55h-5.64zM147.90 387.06h5.64v1.55h-5.64zM147.90 390.16h5.64v1.55h-5.64zM147.90 393.27h5.64v1.55h-5.64zM147.90 413.46h5.64v1.55h-5.64zM147.90 416.57h5.64v3.11h-5.64zM147.90 422.78h5.64v1.55h-5.64zM147.90 425.88h5.64v1.55h-5.64zM147.90 432.10h5.64v1.55h-5.64zM147.90 435.20h5.64v1.55h-5.64zM147.90 444.52h5.64v4.66h-5.64zM147.90 452.29h5.64v3.11h-5.64zM153.54 213.11h5.64v3.11h-5.64zM153.54 217.77h5.64v1.55h-5.64zM153.54 220.87h5.64v1.55h-5.64zM153.54 230.19h5.64v1.55h-5.64zM153.54 234.85h5.64v1.55h-5.64zM153.54 239.51h5.64v1.55h-5.64zM153.54 245.72h5.64v3.11h-5.64zM153.54 250.38h5.64v3.11h-5.64zM153.54 255.04h5.64v1.55h-5.64zM153.54 259.70h5.64v4.66h-5.64zM153.54 267.47h5.64v1.55h-5.64zM153.54 270.57h5.64v3.11h-5.64zM153.54 278.34h5.64v3.11h-5.64zM153.54 373.08h5.64v3.11h-5.64zM153.54 377.74h5.64v3.11h-5.64zM153.54 382.40h5.64v1.55h-5.64zM153.54 387.06h5.64v3.11h-5.64zM153.54 394.82h5.64v1.55h-5.64zM153.54 397.93h5.64v4.66h-5.64zM153.54 407.25h5.64v1.55h-5.64zM153.54 410.35h5.64v4.66h-5.64zM153.54 416.57h5.64v1.55h-5.64zM153.54 422.78h5.64v1.55h-5.64zM153.54 427.44h5.64v1.55h-5.64zM153.54 435.20h5.64v1.55h-5.64zM153.54 438.31h5.64v3.11h-5.64zM153.54 442.97h5.64v4.66h-5.64zM153.54 452.29h5.64v1.55h-5.64zM153.54 455.39h5.64v1.55h-5.64zM159.18 217.77h5.64v1.55h-5.64zM159.18 222.43h5.64v1.55h-5.64zM159.18 225.53h5.64v1.55h-5.64zM159.18 233.30h5.64v1.55h-5.64zM159.18 237.96h5.64v1.55h-5.64zM159.18 250.38h5.64v1.55h-5.64zM159.18 275.23h5.64v3.11h-5.64zM159.18 307.85h5.64v1.55h-5.64zM159.18 315.61h5.64v1.55h-5.64zM159.18 331.14h5.64v1.55h-5.64zM159.18 340.46h5.64v1.55h-5.64zM159.18 371.52h5.64v1.55h-5.64zM159.18 374.63h5.64v3.11h-5.64zM159.18 383.95h5.64v6.21h-5.64zM159.18 393.27h5.64v1.55h-5.64zM159.18 396.38h5.64v1.55h-5.64zM159.18 401.03h5.64v3.11h-5.64zM159.18 405.69h5.64v1.55h-5.64zM159.18 410.35h5.64v1.55h-5.64zM159.18 416.57h5.64v1.55h-5.64zM159.18 419.67h5.64v3.11h-5.64zM159.18 435.20h5.64v3.11h-5.64zM159.18 444.52h5.64v1.55h-5.64zM159.18 449.18h5.64v3.11h-5.64zM159.18 453.84h5.64v1.55h-5.64zM164.82 230.19h5.64v1.55h-5.64zM164.82 376.18h5.64v1.55h-5.64zM164.82 382.40h5.64v1.55h-5.64zM164.82 418.12h5.64v3.11h-5.64zM164.82 422.78h5.64v1.55h-5.64zM164.82 425.88h5.64v1.55h-5.64zM164.82 428.99h5.64v1.55h-5.64zM164.82 439.86h5.64v1.55h-5.64zM164.82 442.97h5.64v1.55h-5.64zM164.82 447.63h5.64v1.55h-5.64zM164.82 452.29h5.64v1.55h-5.64zM164.82 456.95h5.64v1.55h-5.64zM170.46 214.66h5.64v1.55h-5.64zM170.46 222.43h5.64v1.55h-5.64zM170.46 237.96h5.64v1.55h-5.64zM170.46 245.72h5.64v3.11h-5.64zM170.46 255.04h5.64v3.11h-5.64zM170.46 259.70h5.64v1.55h-5.64zM170.46 264.36h5.64v1.55h-5.64zM170.46 269.02h5.64v3.11h-5.64zM170.46 273.68h5.64v3.11h-5.64zM170.46 281.44h5.64v1.55h-5.64zM170.46 293.87h5.64v1.55h-5.64zM170.46 296.98h5.64v3.11h-5.64zM170.46 301.63h5.64v1.55h-5.64zM170.46 314.06h5.64v1.55h-5.64zM170.46 324.93h5.64v1.55h-5.64zM170.46 371.52h5.64v3.11h-5.64zM170.46 376.18h5.64v3.11h-5.64zM170.46 380.84h5.64v3.11h-5.64zM170.46 387.06h5.64v1.55h-5.64zM170.46 390.16h5.64v1.55h-5.64zM170.46 394.82h5.64v1.55h-5.64zM170.46 397.93h5.64v1.55h-5.64zM170.46 404.14h5.64v3.11h-5.64zM170.46 410.35h5.64v1.55h-5.64zM170.46 413.46h5.64v3.11h-5.64zM170.46 422.78h5.64v1.55h-5.64zM170.46 428.99h5.64v1.55h-5.64zM170.46 432.10h5.64v1.55h-5.64zM170.46 436.76h5.64v3.11h-5.64zM170.46 442.97h5.64v1.55h-5.64zM170.46 446.08h5.64v1.55h-5.64zM170.46 449.18h5.64v1.55h-5.64zM170.46 452.29h5.64v1.55h-5.64zM176.10 210.00h5.64v1.55h-5.64zM176.10 214.66h5.64v3.11h-5.64zM176.10 225.53h5.64v3.11h-5.64zM176.10 236.40h5.64v1.55h-5.64zM176.10 244.17h5.64v3.11h-5.64zM176.10 250.38h5.64v3.11h-5.64zM176.10 256.59h5.64v3.11h-5.64zM176.10 262.81h5.64v1.55h-5.64zM176.10 267.47h5.64v1.55h-5.64zM176.10 273.68h5.64v3.11h-5.64zM176.10 281.44h5.64v1.55h-5.64zM176.10 290.76h5.64v1.55h-5.64zM176.10 298.53h5.64v1.55h-5.64zM176.10 301.63h5.64v1.55h-5.64zM176.10 317.17h5.64v1.55h-5.64zM176.10 331.14h5.64v3.11h-5.64zM176.10 348.23h5.64v1.55h-5.64zM176.10 360.65h5.64v1.55h-5.64zM176.10 368.42h5.64v6.21h-5.64zM176.10 376.18h5.64v1.55h-5.64zM176.10 379.29h5.64v15.53h-5.64zM176.10 397.93h5.64v1.55h-5.64zM176.10 402.59h5.64v1.55h-5.64zM176.10 405.69h5.64v4.66h-5.64zM176.10 415.01h5.64v3.11h-5.64zM176.10 421.23h5.64v1.55h-5.64zM176.10 424.33h5.64v6.21h-5.64zM176.10 432.10h5.64v1.55h-5.64zM176.10 444.52h5.64v1.55h-5.64zM176.10 447.63h5.64v3.11h-5.64zM176.10 452.29h5.64v4.66h-5.64zM181.74 241.06h5.64v1.55h-5.64zM181.74 312.51h5.64v1.55h-5.64zM181.74 371.52h5.64v1.55h-5.64zM181.74 376.18h5.64v1.55h-5.64zM181.74 379.29h5.64v1.55h-5.64zM181.74 382.40h5.64v1.55h-5.64zM181.74 394.82h5.64v3.11h-5.64zM181.74 401.03h5.64v3.11h-5.64zM181.74 405.69h5.64v6.21h-5.64zM181.74 413.46h5.64v1.55h-5.64zM181.74 421.23h5.64v1.55h-5.64zM181.74 424.33h5.64v1.55h-5.64zM181.74 427.44h5.64v1.55h-5.64zM181.74 430.54h5.64v7.77h-5.64zM181.74 441.42h5.64v3.11h-5.64zM181.74 447.63h5.64v1.55h-5.64zM181.74 450.73h5.64v1.55h-5.64zM181.74 456.95h5.64v1.55h-5.64zM187.38 228.64h5.64v1.55h-5.64zM187.38 247.28h5.64v1.55h-5.64zM187.38 259.70h5.64v3.11h-5.64zM187.38 272.12h5.64v1.55h-5.64zM187.38 279.89h5.64v1.55h-5.64zM187.38 371.52h5.64v1.55h-5.64zM187.38 377.74h5.64v1.55h-5.64zM187.38 383.95h5.64v1.55h-5.64zM187.38 391.72h5.64v1.55h-5.64zM187.38 399.48h5.64v6.21h-5.64zM187.38 408.80h5.64v4.66h-5.64zM187.38 415.01h5.64v1.55h-5.64zM187.38 422.78h5.64v1.55h-5.64zM187.38 427.44h5.64v1.55h-5.64zM187.38 430.54h5.64v3.11h-5.64zM187.38 435.20h5.64v1.55h-5.64zM187.38 438.31h5.64v1.55h-5.64zM187.38 441.42h5.64v4.66h-5.64zM187.38 452.29h5.64v1.55h-5.64zM193.02 404.14h5.64v3.11h-5.64zM193.02 415.01h5.64v3.11h-5.64zM193.02 427.44h5.64v4.66h-5.64zM193.02 435.20h5.64v1.55h-5.64zM193.02 442.97h5.64v1.55h-5.64zM193.02 447.63h5.64v1.55h-5.64zM198.66 223.98h5.64v1.55h-5.64zM198.66 230.19h5.64v1.55h-5.64zM198.66 234.85h5.64v1.55h-5.64zM198.66 245.72h5.64v3.11h-5.64zM198.66 250.38h5.64v1.55h-5.64zM198.66 259.70h5.64v3.11h-5.64zM198.66 265.91h5.64v3.11h-5.64zM198.66 273.68h5.64v3.11h-5.64zM198.66 278.34h5.64v1.55h-5.64zM198.66 281.44h5.64v1.55h-5.64zM198.66 284.55h5.64v3.11h-5.64zM198.66 301.63h5.64v1.55h-5.64zM198.66 307.85h5.64v1.55h-5.64zM198.66 312.51h5.64v1.55h-5.64zM198.66 340.46h5.64v1.55h-5.64zM198.66 348.23h5.64v1.55h-5.64zM198.66 352.89h5.64v1.55h-5.64zM198.66 362.21h5.64v1.55h-5.64zM198.66 373.08h5.64v1.55h-5.64zM198.66 376.18h5.64v6.21h-5.64zM198.66 391.72h5.64v6.21h-5.64zM198.66 399.48h5.64v1.55h-5.64zM198.66 404.14h5.64v3.11h-5.64zM198.66 413.46h5.64v1.55h-5.64zM198.66 416.57h5.64v1.55h-5.64zM198.66 419.67h5.64v1.55h-5.64zM198.66 425.88h5.64v1.55h-5.64zM198.66 428.99h5.64v1.55h-5.64zM198.66 432.10h5.64v1.55h-5.64zM198.66 436.76h5.64v1.55h-5.64zM198.66 441.42h5.64v1.55h-5.64zM198.66 449.18h5.64v1.55h-5.64zM198.66 455.39h5.64v1.55h-5.64zM204.30 366.87h5.64v1.55h-5.64zM204.30 373.08h5.64v1.55h-5.64zM204.30 408.80h5.64v1.55h-5.64zM204.30 424.33h5.64v1.55h-5.64zM204.30 428.99h5.64v3.11h-5.64zM204.30 435.20h5.64v3.11h-5.64zM204.30 442.97h5.64v1.55h-5.64zM204.30 449.18h5.64v1.55h-5.64zM209.94 371.52h5.64v3.11h-5.64zM209.94 382.40h5.64v3.11h-5.64zM209.94 388.61h5.64v1.55h-5.64zM209.94 397.93h5.64v4.66h-5.64zM209.94 410.35h5.64v7.77h-5.64zM209.94 419.67h5.64v4.66h-5.64zM209.94 430.54h5.64v3.11h-5.64zM209.94 435.20h5.64v3.11h-5.64zM209.94 442.97h5.64v1.55h-5.64zM209.94 449.18h5.64v1.55h-5.64zM209.94 455.39h5.64v3.11h-5.64zM215.58 211.55h5.64v1.55h-5.64zM215.58 214.66h5.64v1.55h-5.64zM215.58 220.87h5.64v3.11h-5.64zM215.58 227.08h5.64v1.55h-5.64zM215.58 236.40h5.64v1.55h-5.64zM215.58 241.06h5.64v1.55h-5.64zM215.58 244.17h5.64v1.55h-5.64zM215.58 248.83h5.64v1.55h-5.64zM215.58 255.04h5.64v3.11h-5.64zM215.58 275.23h5.64v1.55h-5.64zM215.58 278.34h5.64v1.55h-5.64zM215.58 290.76h5.64v1.55h-5.64zM215.58 324.93h5.64v1.55h-5.64zM215.58 376.18h5.64v1.55h-5.64zM215.58 380.84h5.64v3.11h-5.64zM215.58 396.38h5.64v3.11h-5.64zM215.58 405.69h5.64v1.55h-5.64zM215.58 413.46h5.64v3.11h-5.64zM215.58 419.67h5.64v1.55h-5.64zM215.58 428.99h5.64v3.11h-5.64zM215.58 435.20h5.64v1.55h-5.64zM215.58 438.31h5.64v4.66h-5.64zM221.22 256.59h5.64v1.55h-5.64zM221.22 279.89h5.64v1.55h-5.64zM221.22 374.63h5.64v4.66h-5.64zM221.22 380.84h5.64v3.11h-5.64zM221.22 387.06h5.64v3.11h-5.64zM221.22 393.27h5.64v1.55h-5.64zM221.22 396.38h5.64v4.66h-5.64zM221.22 402.59h5.64v3.11h-5.64zM221.22 418.12h5.64v1.55h-5.64zM221.22 421.23h5.64v1.55h-5.64zM221.22 424.33h5.64v1.55h-5.64zM221.22 427.44h5.64v3.11h-5.64zM221.22 432.10h5.64v1.55h-5.64zM221.22 436.76h5.64v3.11h-5.64zM221.22 444.52h5.64v1.55h-5.64zM221.22 447.63h5.64v3.11h-5.64zM221.22 453.84h5.64v4.66h-5.64zM226.86 373.08h5.64v1.55h-5.64zM226.86 418.12h5.64v1.55h-5.64zM226.86 427.44h5.64v1.55h-5.64zM226.86 430.54h5.64v3.11h-5.64zM226.86 439.86h5.64v1.55h-5.64zM226.86 450.73h5.64v1.55h-5.64zM232.50 261.25h5.64v1.55h-5.64zM232.50 275.23h5.64v1.55h-5.64zM232.50 328.04h5.64v1.55h-5.64zM232.50 387.06h5.64v3.11h-5.64zM232.50 416.57h5.64v1.55h-5.64zM232.50 425.88h5.64v1.55h-5.64zM232.50 428.99h5.64v3.11h-5.64zM232.50 435.20h5.64v1.55h-5.64zM232.50 438.31h5.64v6.21h-5.64zM232.50 452.29h5.64v6.21h-5.64zM238.14 222.43h5.64v1.55h-5.64zM238.14 239.51h5.64v1.55h-5.64zM238.14 410.35h5.64v1.55h-5.64zM238.14 415.01h5.64v1.55h-5.64zM238.14 425.88h5.64v1.55h-5.64zM238.14 433.65h5.64v1.55h-5.64zM238.14 439.86h5.64v3.11h-5.64zM238.14 446.08h5.64v1.55h-5.64zM238.14 452.29h5.64v1.55h-5.64zM243.78 210.00h5.64v1.55h-5.64zM243.78 214.66h5.64v1.55h-5.64zM243.78 217.77h5.64v1.55h-5.64zM243.78 220.87h5.64v4.66h-5.64zM243.78 237.96h5.64v3.11h-5.64zM243.78 244.17h5.64v3.11h-5.64zM243.78 250.38h5.64v1.55h-5.64zM243.78 253.49h5.64v1.55h-5.64zM243.78 269.02h5.64v1.55h-5.64zM243.78 272.12h5.64v3.11h-5.64zM243.78 281.44h5.64v1.55h-5.64zM243.78 296.98h5.64v1.55h-5.64zM243.78 328.04h5.64v1.55h-5.64zM243.78 337.36h5.64v1.55h-5.64zM243.78 354.44h5.64v1.55h-5.64zM243.78 374.63h5.64v4.66h-5.64zM243.78 380.84h5.64v1.55h-5.64zM243.78 388.61h5.64v1.55h-5.64zM243.78 401.03h5.64v1.55h-5.64zM243.78 405.69h5.64v3.11h-5.64zM243.78 411.91h5.64v1.55h-5.64zM243.78 416.57h5.64v1.55h-5.64zM243.78 419.67h5.64v1.55h-5.64zM243.78 428.99h5.64v1.55h-5.64zM243.78 433.65h5.64v3.11h-5.64zM243.78 439.86h5.64v10.87h-5.64zM249.42 210.00h5.64v3.11h-5.64zM249.42 223.98h5.64v1.55h-5.64zM249.42 234.85h5.64v1.55h-5.64zM249.42 239.51h5.64v1.55h-5.64zM249.42 253.49h5.64v1.55h-5.64zM249.42 256.59h5.64v1.55h-5.64zM249.42 259.70h5.64v1.55h-5.64zM249.42 276.78h5.64v1.55h-5.64zM249.42 371.52h5.64v3.11h-5.64zM249.42 382.40h5.64v3.11h-5.64zM249.42 390.16h5.64v1.55h-5.64zM249.42 393.27h5.64v1.55h-5.64zM249.42 397.93h5.64v1.55h-5.64zM249.42 402.59h5.64v1.55h-5.64zM249.42 405.69h5.64v3.11h-5.64zM249.42 418.12h5.64v3.11h-5.64zM249.42 424.33h5.64v6.21h-5.64zM249.42 449.18h5.64v4.66h-5.64zM249.42 455.39h5.64v1.55h-5.64zM255.06 214.66h5.64v1.55h-5.64zM255.06 223.98h5.64v3.11h-5.64zM255.06 241.06h5.64v6.21h-5.64zM255.06 248.83h5.64v1.55h-5.64zM255.06 261.25h5.64v1.55h-5.64zM255.06 270.57h5.64v1.55h-5.64zM255.06 273.68h5.64v1.55h-5.64zM255.06 377.74h5.64v1.55h-5.64zM255.06 382.40h5.64v3.11h-5.64zM255.06 387.06h5.64v3.11h-5.64zM255.06 393.27h5.64v1.55h-5.64zM255.06 399.48h5.64v6.21h-5.64zM255.06 407.25h5.64v4.66h-5.64zM255.06 419.67h5.64v3.11h-5.64zM255.06 428.99h5.64v3.11h-5.64zM255.06 436.76h5.64v4.66h-5.64zM255.06 442.97h5.64v4.66h-5.64zM255.06 450.73h5.64v1.55h-5.64zM255.06 453.84h5.64v1.55h-5.64zM260.70 216.21h5.64v1.55h-5.64zM260.70 261.25h5.64v1.55h-5.64zM260.70 279.89h5.64v1.55h-5.64zM260.70 382.40h5.64v1.55h-5.64zM260.70 397.93h5.64v1.55h-5.64zM260.70 401.03h5.64v1.55h-5.64zM260.70 405.69h5.64v4.66h-5.64zM260.70 418.12h5.64v1.55h-5.64zM260.70 425.88h5.64v1.55h-5.64zM260.70 428.99h5.64v3.11h-5.64zM260.70 435.20h5.64v1.55h-5.64zM260.70 438.31h5.64v3.11h-5.64zM260.70 442.97h5.64v1.55h-5.64zM260.70 446.08h5.64v1.55h-5.64zM260.70 449.18h5.64v7.77h-5.64zM266.34 210.00h5.64v1.55h-5.64zM266.34 216.21h5.64v1.55h-5.64zM266.34 220.87h5.64v3.11h-5.64zM266.34 228.64h5.64v1.55h-5.64zM266.34 231.74h5.64v4.66h-5.64zM266.34 239.51h5.64v1.55h-5.64zM266.34 244.17h5.64v1.55h-5.64zM266.34 253.49h5.64v1.55h-5.64zM266.34 258.15h5.64v1.55h-5.64zM266.34 262.81h5.64v4.66h-5.64zM266.34 269.02h5.64v4.66h-5.64zM266.34 278.34h5.64v1.55h-5.64zM266.34 283.00h5.64v1.55h-5.64zM266.34 286.10h5.64v1.55h-5.64zM266.34 289.21h5.64v1.55h-5.64zM266.34 292.32h5.64v1.55h-5.64zM266.34 295.42h5.64v1.55h-5.64zM266.34 298.53h5.64v1.55h-5.64zM266.34 307.85h5.64v1.55h-5.64zM266.34 310.95h5.64v1.55h-5.64zM266.34 314.06h5.64v1.55h-5.64zM266.34 323.38h5.64v1.55h-5.64zM266.34 334.25h5.64v4.66h-5.64zM266.34 346.68h5.64v3.11h-5.64zM266.34 352.89h5.64v4.66h-5.64zM266.34 359.10h5.64v1.55h-5.64zM266.34 366.87h5.64v4.66h-5.64zM266.34 380.84h5.64v1.55h-5.64zM266.34 387.06h5.64v3.11h-5.64zM266.34 394.82h5.64v1.55h-5.64zM266.34 401.03h5.64v1.55h-5.64zM266.34 405.69h5.64v1.55h-5.64zM266.34 410.35h5.64v1.55h-5.64zM266.34 418.12h5.64v1.55h-5.64zM266.34 442.97h5.64v1.55h-5.64zM266.34 453.84h5.64v3.11h-5.64zM271.98 210.00h5.64v1.55h-5.64zM271.98 214.66h5.64v3.11h-5.64zM271.98 220.87h5.64v1.55h-5.64zM271.98 223.98h5.64v3.11h-5.64zM271.98 228.64h5.64v9.32h-5.64zM271.98 247.28h5.64v3.11h-5.64zM271.98 251.93h5.64v1.55h-5.64zM271.98 258.15h5.64v1.55h-5.64zM271.98 267.47h5.64v1.55h-5.64zM271.98 272.12h5.64v1.55h-5.64zM271.98 275.23h5.64v1.55h-5.64zM271.98 278.34h5.64v1.55h-5.64zM271.98 296.98h5.64v1.55h-5.64zM271.98 301.63h5.64v1.55h-5.64zM271.98 307.85h5.64v4.66h-5.64zM271.98 315.61h5.64v3.11h-5.64zM271.98 321.82h5.64v1.55h-5.64zM271.98 331.14h5.64v1.55h-5.64zM271.98 338.91h5.64v3.11h-5.64zM271.98 343.57h5.64v1.55h-5.64zM271.98 346.68h5.64v3.11h-5.64zM271.98 354.44h5.64v1.55h-5.64zM271.98 363.76h5.64v1.55h-5.64zM271.98 366.87h5.64v1.55h-5.64zM271.98 371.52h5.64v1.55h-5.64zM271.98 376.18h5.64v1.55h-5.64zM271.98 379.29h5.64v3.11h-5.64zM271.98 383.95h5.64v6.21h-5.64zM271.98 411.91h5.64v1.55h-5.64zM271.98 421.23h5.64v1.55h-5.64zM271.98 425.88h5.64v1.55h-5.64zM271.98 430.54h5.64v1.55h-5.64zM271.98 447.63h5.64v1.55h-5.64zM271.98 456.95h5.64v1.55h-5.64zM277.62 213.11h5.64v1.55h-5.64zM277.62 217.77h5.64v1.55h-5.64zM277.62 230.19h5.64v3.11h-5.64zM277.62 239.51h5.64v1.55h-5.64zM277.62 251.93h5.64v3.11h-5.64zM277.62 261.25h5.64v1.55h-5.64zM277.62 269.02h5.64v1.55h-5.64zM277.62 272.12h5.64v1.55h-5.64zM277.62 307.85h5.64v1.55h-5.64zM277.62 340.46h5.64v1.55h-5.64zM277.62 343.57h5.64v1.55h-5.64zM277.62 351.33h5.64v1.55h-5.64zM277.62 360.65h5.64v1.55h-5.64zM277.62 376.18h5.64v3.11h-5.64zM277.62 380.84h5.64v7.77h-5.64zM277.62 390.16h5.64v4.66h-5.64zM277.62 402.59h5.64v1.55h-5.64zM277.62 407.25h5.64v1.55h-5.64zM277.62 410.35h5.64v1.55h-5.64zM277.62 415.01h5.64v3.11h-5.64zM277.62 419.67h5.64v1.55h-5.64zM277.62 424.33h5.64v1.55h-5.64zM277.62 433.65h5.64v1.55h-5.64zM277.62 442.97h5.64v1.55h-5.64zM277.62 449.18h5.64v6.21h-5.64zM277.62 456.95h5.64v1.55h-5.64zM283.26 210.00h5.64v1.55h-5.64zM283.26 225.53h5.64v1.55h-5.64zM283.26 228.64h5.64v1.55h-5.64zM283.26 236.40h5.64v1.55h-5.64zM283.26 244.17h5.64v4.66h-5.64zM283.26 253.49h5.64v1.55h-5.64zM283.26 261.25h5.64v1.55h-5.64zM283.26 272.12h5.64v1.55h-5.64zM283.26 279.89h5.64v1.55h-5.64zM283.26 284.55h5.64v1.55h-5.64zM283.26 290.76h5.64v1.55h-5.64zM283.26 317.17h5.64v1.55h-5.64zM283.26 323.38h5.64v1.55h-5.64zM283.26 328.04h5.64v1.55h-5.64zM283.26 332.70h5.64v1.55h-5.64zM283.26 360.65h5.64v1.55h-5.64zM283.26 371.52h5.64v1.55h-5.64zM283.26 374.63h5.64v4.66h-5.64zM283.26 380.84h5.64v4.66h-5.64zM283.26 388.61h5.64v6.21h-5.64zM283.26 397.93h5.64v4.66h-5.64zM283.26 408.80h5.64v4.66h-5.64zM283.26 415.01h5.64v4.66h-5.64zM283.26 421.23h5.64v1.55h-5.64zM283.26 425.88h5.64v4.66h-5.64zM283.26 432.10h5.64v1.55h-5.64zM283.26 441.42h5.64v1.55h-5.64zM288.90 216.21h5.64v3.11h-5.64zM288.90 223.98h5.64v1.55h-5.64zM288.90 227.08h5.64v1.55h-5.64zM288.90 230.19h5.64v1.55h-5.64zM288.90 234.85h5.64v3.11h-5.64zM288.90 245.72h5.64v1.55h-5.64zM288.90 248.83h5.64v4.66h-5.64zM288.90 255.04h5.64v1.55h-5.64zM288.90 259.70h5.64v1.55h-5.64zM288.90 262.81h5.64v1.55h-5.64zM288.90 269.02h5.64v1.55h-5.64zM288.90 272.12h5.64v6.21h-5.64zM288.90 290.76h5.64v1.55h-5.64zM288.90 301.63h5.64v1.55h-5.64zM288.90 307.85h5.64v1.55h-5.64zM288.90 324.93h5.64v3.11h-5.64zM288.90 331.14h5.64v3.11h-5.64zM288.90 351.33h5.64v1.55h-5.64zM288.90 360.65h5.64v1.55h-5.64zM288.90 369.97h5.64v3.11h-5.64zM288.90 382.40h5.64v1.55h-5.64zM288.90 391.72h5.64v3.11h-5.64zM288.90 397.93h5.64v3.11h-5.64zM288.90 407.25h5.64v6.21h-5.64zM288.90 424.33h5.64v1.55h-5.64zM288.90 432.10h5.64v3.11h-5.64zM288.90 436.76h5.64v1.55h-5.64zM288.90 447.63h5.64v1.55h-5.64zM288.90 455.39h5.64v3.11h-5.64zM294.54 210.00h5.64v3.11h-5.64zM294.54 217.77h5.64v1.55h-5.64zM294.54 231.74h5.64v3.11h-5.64zM294.54 236.40h5.64v1.55h-5.64zM294.54 241.06h5.64v3.11h-5.64zM294.54 245.72h5.64v1.55h-5.64zM294.54 261.25h5.64v7.77h-5.64zM294.54 273.68h5.64v1.55h-5.64zM294.54 279.89h5.64v1.55h-5.64zM294.54 284.55h5.64v3.11h-5.64zM294.54 289.21h5.64v1.55h-5.64zM294.54 293.87h5.64v1.55h-5.64zM294.54 296.98h5.64v3.11h-5.64zM294.54 304.74h5.64v1.55h-5.64zM294.54 309.40h5.64v1.55h-5.64zM294.54 315.61h5.64v3.11h-5.64zM294.54 324.93h5.64v1.55h-5.64zM294.54 329.59h5.64v3.11h-5.64zM294.54 334.25h5.64v4.66h-5.64zM294.54 340.46h5.64v1.55h-5.64zM294.54 346.68h5.64v1.55h-5.64zM294.54 352.89h5.64v1.55h-5.64zM294.54 362.21h5.64v1.55h-5.64zM294.54 365.31h5.64v1.55h-5.64zM294.54 380.84h5.64v1.55h-5.64zM294.54 385.50h5.64v1.55h-5.64zM294.54 388.61h5.64v1.55h-5.64zM294.54 391.72h5.64v1.55h-5.64zM294.54 394.82h5.64v3.11h-5.64zM294.54 405.69h5.64v1.55h-5.64zM294.54 410.35h5.64v3.11h-5.64zM294.54 419.67h5.64v1.55h-5.64zM294.54 439.86h5.64v1.55h-5.64zM294.54 449.18h5.64v1.55h-5.64zM300.18 211.55h5.64v1.55h-5.64zM300.18 217.77h5.64v3.11h-5.64zM300.18 227.08h5.64v3.11h-5.64zM300.18 234.85h5.64v1.55h-5.64zM300.18 237.96h5.64v6.21h-5.64zM300.18 245.72h5.64v3.11h-5.64zM300.18 253.49h5.64v1.55h-5.64zM300.18 258.15h5.64v1.55h-5.64zM300.18 262.81h5.64v3.11h-5.64zM300.18 269.02h5.64v1.55h-5.64zM300.18 272.12h5.64v1.55h-5.64zM300.18 278.34h5.64v4.66h-5.64zM300.18 293.87h5.64v1.55h-5.64zM300.18 298.53h5.64v3.11h-5.64zM300.18 304.74h5.64v1.55h-5.64zM300.18 309.40h5.64v1.55h-5.64zM300.18 312.51h5.64v1.55h-5.64zM300.18 317.17h5.64v3.11h-5.64zM300.18 321.82h5.64v1.55h-5.64zM300.18 326.48h5.64v6.21h-5.64zM300.18 335.80h5.64v1.55h-5.64zM300.18 340.46h5.64v1.55h-5.64zM300.18 343.57h5.64v1.55h-5.64zM300.18 346.68h5.64v1.55h-5.64zM300.18 349.78h5.64v3.11h-5.64zM300.18 355.99h5.64v1.55h-5.64zM300.18 359.10h5.64v3.11h-5.64zM300.18 363.76h5.64v4.66h-5.64zM300.18 369.97h5.64v1.55h-5.64zM300.18 383.95h5.64v1.55h-5.64zM300.18 391.72h5.64v1.55h-5.64zM300.18 399.48h5.64v1.55h-5.64zM300.18 408.80h5.64v1.55h-5.64zM300.18 419.67h5.64v1.55h-5.64zM300.18 424.33h5.64v1.55h-5.64zM300.18 427.44h5.64v1.55h-5.64zM300.18 435.20h5.64v1.55h-5.64zM300.18 439.86h5.64v1.55h-5.64zM305.82 217.77h5.64v3.11h-5.64zM305.82 223.98h5.64v4.66h-5.64zM305.82 230.19h5.64v3.11h-5.64zM305.82 236.40h5.64v3.11h-5.64zM305.82 244.17h5.64v9.32h-5.64zM305.82 259.70h5.64v1.55h-5.64zM305.82 262.81h5.64v4.66h-5.64zM305.82 270.57h5.64v3.11h-5.64zM305.82 275.23h5.64v3.11h-5.64zM305.82 279.89h5.64v1.55h-5.64zM305.82 284.55h5.64v1.55h-5.64zM305.82 289.21h5.64v1.55h-5.64zM305.82 298.53h5.64v1.55h-5.64zM305.82 301.63h5.64v4.66h-5.64zM305.82 307.85h5.64v1.55h-5.64zM305.82 310.95h5.64v1.55h-5.64zM305.82 315.61h5.64v1.55h-5.64zM305.82 318.72h5.64v1.55h-5.64zM305.82 321.82h5.64v1.55h-5.64zM305.82 324.93h5.64v4.66h-5.64zM305.82 343.57h5.64v4.66h-5.64zM305.82 349.78h5.64v3.11h-5.64zM305.82 354.44h5.64v1.55h-5.64zM305.82 363.76h5.64v3.11h-5.64zM305.82 371.52h5.64v1.55h-5.64zM305.82 374.63h5.64v3.11h-5.64zM305.82 379.29h5.64v3.11h-5.64zM305.82 383.95h5.64v3.11h-5.64zM305.82 390.16h5.64v3.11h-5.64zM305.82 396.38h5.64v3.11h-5.64zM305.82 401.03h5.64v3.11h-5.64zM305.82 405.69h5.64v3.11h-5.64zM305.82 410.35h5.64v1.55h-5.64zM305.82 413.46h5.64v1.55h-5.64zM305.82 424.33h5.64v1.55h-5.64zM305.82 441.42h5.64v1.55h-5.64zM311.46 216.21h5.64v1.55h-5.64zM311.46 223.98h5.64v1.55h-5.64zM311.46 228.64h5.64v1.55h-5.64zM311.46 231.74h5.64v3.11h-5.64zM311.46 237.96h5.64v1.55h-5.64zM311.46 241.06h5.64v1.55h-5.64zM311.46 250.38h5.64v1.55h-5.64zM311.46 255.04h5.64v1.55h-5.64zM311.46 267.47h5.64v4.66h-5.64zM311.46 273.68h5.64v1.55h-5.64zM311.46 276.78h5.64v1.55h-5.64zM311.46 279.89h5.64v1.55h-5.64zM311.46 293.87h5.64v1.55h-5.64zM311.46 296.98h5.64v1.55h-5.64zM311.46 335.80h5.64v1.55h-5.64zM311.46 340.46h5.64v1.55h-5.64zM311.46 387.06h5.64v1.55h-5.64zM311.46 390.16h5.64v1.55h-5.64zM311.46 396.38h5.64v4.66h-5.64zM311.46 405.69h5.64v7.77h-5.64zM311.46 415.01h5.64v1.55h-5.64zM311.46 422.78h5.64v3.11h-5.64zM311.46 427.44h5.64v1.55h-5.64zM311.46 430.54h5.64v4.66h-5.64zM311.46 439.86h5.64v1.55h-5.64zM311.46 449.18h5.64v1.55h-5.64zM311.46 452.29h5.64v4.66h-5.64zM317.10 210.00h5.64v1.55h-5.64zM317.10 216.21h5.64v1.55h-5.64zM317.10 219.32h5.64v3.11h-5.64zM317.10 227.08h5.64v1.55h-5.64zM317.10 233.30h5.64v1.55h-5.64zM317.10 259.70h5.64v3.11h-5.64zM317.10 267.47h5.64v3.11h-5.64zM317.10 276.78h5.64v1.55h-5.64zM317.10 301.63h5.64v1.55h-5.64zM317.10 307.85h5.64v1.55h-5.64zM317.10 326.48h5.64v1.55h-5.64zM317.10 348.23h5.64v1.55h-5.64zM317.10 352.89h5.64v1.55h-5.64zM317.10 355.99h5.64v1.55h-5.64zM317.10 368.42h5.64v1.55h-5.64zM317.10 374.63h5.64v3.11h-5.64zM317.10 379.29h5.64v3.11h-5.64zM317.10 388.61h5.64v1.55h-5.64zM317.10 393.27h5.64v3.11h-5.64zM317.10 397.93h5.64v3.11h-5.64zM317.10 402.59h5.64v3.11h-5.64zM317.10 408.80h5.64v7.77h-5.64zM317.10 422.78h5.64v4.66h-5.64zM317.10 432.10h5.64v1.55h-5.64zM317.10 435.20h5.64v1.55h-5.64zM317.10 438.31h5.64v1.55h-5.64zM317.10 444.52h5.64v1.55h-5.64zM322.74 228.64h5.64v1.55h-5.64zM322.74 237.96h5.64v3.11h-5.64zM322.74 245.72h5.64v3.11h-5.64zM322.74 259.70h5.64v3.11h-5.64zM322.74 264.36h5.64v1.55h-5.64zM322.74 267.47h5.64v1.55h-5.64zM322.74 272.12h5.64v1.55h-5.64zM322.74 283.00h5.64v1.55h-5.64zM322.74 293.87h5.64v1.55h-5.64zM322.74 306.29h5.64v3.11h-5.64zM322.74 320.27h5.64v1.55h-5.64zM322.74 326.48h5.64v3.11h-5.64zM322.74 334.25h5.64v1.55h-5.64zM322.74 348.23h5.64v4.66h-5.64zM322.74 357.55h5.64v3.11h-5.64zM322.74 365.31h5.64v3.11h-5.64zM322.74 369.97h5.64v1.55h-5.64zM322.74 373.08h5.64v1.55h-5.64zM322.74 385.50h5.64v9.32h-5.64zM322.74 402.59h5.64v4.66h-5.64zM322.74 413.46h5.64v4.66h-5.64zM322.74 421.23h5.64v3.11h-5.64zM322.74 425.88h5.64v1.55h-5.64zM322.74 428.99h5.64v1.55h-5.64zM322.74 438.31h5.64v1.55h-5.64zM322.74 447.63h5.64v1.55h-5.64zM328.40 210.00h6.50v3.11h-6.50zM328.40 216.21h6.50v4.66h-6.50zM328.40 222.43h6.50v1.55h-6.50zM328.40 225.53h6.50v1.55h-6.50zM328.40 231.74h6.50v3.11h-6.50zM328.40 245.72h6.50v1.55h-6.50zM328.40 248.83h6.50v3.11h-6.50zM328.40 253.49h6.50v3.11h-6.50zM328.40 259.70h6.50v1.55h-6.50zM328.40 262.81h6.50v7.77h-6.50zM328.40 273.68h6.50v1.55h-6.50zM328.40 278.34h6.50v4.66h-6.50zM328.40 286.10h6.50v1.55h-6.50zM328.40 296.98h6.50v3.11h-6.50zM328.40 301.63h6.50v3.11h-6.50zM328.40 310.95h6.50v1.55h-6.50zM328.40 314.06h6.50v1.55h-6.50zM328.40 331.14h6.50v1.55h-6.50zM328.40 351.33h6.50v1.55h-6.50zM328.40 368.42h6.50v1.55h-6.50zM328.40 380.84h6.50v1.55h-6.50zM328.40 387.06h6.50v1.55h-6.50zM328.40 390.16h6.50v1.55h-6.50zM328.40 393.27h6.50v3.11h-6.50zM328.40 397.93h6.50v3.11h-6.50zM328.40 402.59h6.50v1.55h-6.50zM328.40 411.91h6.50v1.55h-6.50zM328.40 424.33h6.50v3.11h-6.50zM328.40 432.10h6.50v1.55h-6.50zM328.40 436.76h6.50v1.55h-6.50zM328.40 446.08h6.50v1.55h-6.50zM328.40 453.84h6.50v1.55h-6.50zM334.90 251.93h6.60v3.11h-6.60zM334.90 264.36h6.60v1.55h-6.60zM334.90 309.40h6.60v1.55h-6.60zM334.90 391.72h6.60v1.55h-6.60z"/>
<path fill="#9c9440" d="M91.50 216.21h5.64v1.55h-5.64zM91.50 248.83h5.64v1.55h-5.64zM91.50 391.72h5.64v1.55h-5.64zM91.50 408.80h5.64v1.55h-5.64zM97.14 233.30h5.64v1.55h-5.64zM97.14 242.62h5.64v1.55h-5.64zM97.14 290.76h5.64v1.55h-5.64zM97.14 349.78h5.64v1.55h-5.64zM97.14 393.27h5.64v1.55h-5.64zM97.14 446.08h5.64v1.55h-5.64zM102.78 255.04h5.64v1.55h-5.64zM102.78 270.57h5.64v1.55h-5.64zM102.78 273.68h5.64v1.55h-5.64zM102.78 379.29h5.64v1.55h-5.64zM102.78 385.50h5.64v1.55h-5.64zM102.78 442.97h5.64v1.55h-5.64zM108.42 217.77h5.64v1.55h-5.64zM108.42 239.51h5.64v1.55h-5.64zM108.42 275.23h5.64v1.55h-5.64zM108.42 415.01h5.64v1.55h-5.64zM108.42 427.44h5.64v1.55h-5.64zM108.42 442.97h5.64v1.55h-5.64zM114.06 256.59h5.64v1.55h-5.64zM119.70 404.14h5.64v1.55h-5.64zM119.70 407.25h5.64v1.55h-5.64zM119.70 411.91h5.64v1.55h-5.64zM119.70 422.78h5.64v1.55h-5.64zM119.70 425.88h5.64v1.55h-5.64zM119.70 433.65h5.64v1.55h-5.64zM119.70 450.73h5.64v1.55h-5.64zM125.34 233.30h5.64v1.55h-5.64zM125.34 261.25h5.64v1.55h-5.64zM125.34 279.89h5.64v1.55h-5.64zM125.34 411.91h5.64v1.55h-5.64zM130.98 236.40h5.64v1.55h-5.64zM130.98 259.70h5.64v1.55h-5.64zM130.98 323.38h5.64v1.55h-5.64zM136.62 317.17h5.64v1.55h-5.64zM136.62 382.40h5.64v1.55h-5.64zM142.26 233.30h5.64v1.55h-5.64zM142.26 259.70h5.64v1.55h-5.64zM142.26 407.25h5.64v1.55h-5.64zM142.26 424.33h5.64v1.55h-5.64zM142.26 441.42h5.64v1.55h-5.64zM147.90 214.66h5.64v1.55h-5.64zM153.54 216.21h5.64v1.55h-5.64zM153.54 264.36h5.64v1.55h-5.64zM153.54 273.68h5.64v1.55h-5.64zM153.54 430.54h5.64v1.55h-5.64zM153.54 450.73h5.64v1.55h-5.64zM159.18 242.62h5.64v1.55h-5.64zM159.18 251.93h5.64v1.55h-5.64zM159.18 261.25h5.64v1.55h-5.64zM159.18 265.91h5.64v1.55h-5.64zM159.18 269.02h5.64v1.55h-5.64zM159.18 404.14h5.64v1.55h-5.64zM170.46 210.00h5.64v1.55h-5.64zM170.46 292.32h5.64v1.55h-5.64zM170.46 315.61h5.64v1.55h-5.64zM170.46 362.21h5.64v1.55h-5.64zM170.46 393.27h5.64v1.55h-5.64zM170.46 435.20h5.64v1.55h-5.64zM170.46 455.39h5.64v1.55h-5.64zM176.10 222.43h5.64v1.55h-5.64zM176.10 230.19h5.64v1.55h-5.64zM176.10 242.62h5.64v1.55h-5.64zM176.10 293.87h5.64v1.55h-5.64zM176.10 343.57h5.64v1.55h-5.64zM176.10 363.76h5.64v1.55h-5.64zM181.74 244.17h5.64v1.55h-5.64zM187.38 264.36h5.64v1.55h-5.64zM187.38 267.47h5.64v1.55h-5.64zM187.38 286.10h5.64v1.55h-5.64zM187.38 296.98h5.64v1.55h-5.64zM187.38 385.50h5.64v1.55h-5.64zM187.38 425.88h5.64v1.55h-5.64zM193.02 444.52h5.64v1.55h-5.64zM193.02 452.29h5.64v1.55h-5.64zM198.66 213.11h5.64v1.55h-5.64zM198.66 216.21h5.64v1.55h-5.64zM198.66 233.30h5.64v1.55h-5.64zM198.66 236.40h5.64v1.55h-5.64zM198.66 251.93h5.64v1.55h-5.64zM198.66 264.36h5.64v1.55h-5.64zM198.66 324.93h5.64v1.55h-5.64zM198.66 390.16h5.64v1.55h-5.64zM198.66 427.44h5.64v1.55h-5.64zM198.66 430.54h5.64v1.55h-5.64zM204.30 355.99h5.64v1.55h-5.64zM204.30 405.69h5.64v1.55h-5.64zM204.30 433.65h5.64v1.55h-5.64zM209.94 379.29h5.64v1.55h-5.64zM209.94 424.33h5.64v3.11h-5.64zM209.94 433.65h5.64v1.55h-5.64zM209.94 452.29h5.64v1.55h-5.64zM215.58 239.51h5.64v1.55h-5.64zM215.58 279.89h5.64v1.55h-5.64zM215.58 450.73h5.64v1.55h-5.64zM215.58 453.84h5.64v3.11h-5.64zM221.22 371.52h5.64v1.55h-5.64zM221.22 379.29h5.64v1.55h-5.64zM221.22 391.72h5.64v1.55h-5.64zM221.22 401.03h5.64v1.55h-5.64zM221.22 408.80h5.64v1.55h-5.64zM221.22 416.57h5.64v1.55h-5.64zM221.22 430.54h5.64v1.55h-5.64zM226.86 303.19h5.64v1.55h-5.64zM226.86 419.67h5.64v1.55h-5.64zM226.86 456.95h5.64v1.55h-5.64zM232.50 424.33h5.64v1.55h-5.64zM238.14 418.12h5.64v1.55h-5.64zM238.14 453.84h5.64v1.55h-5.64zM243.78 261.25h5.64v1.55h-5.64zM243.78 293.87h5.64v1.55h-5.64zM243.78 306.29h5.64v1.55h-5.64zM243.78 314.06h5.64v3.11h-5.64zM243.78 365.31h5.64v1.55h-5.64zM243.78 399.48h5.64v1.55h-5.64zM243.78 452.29h5.64v1.55h-5.64zM249.42 216.21h5.64v1.55h-5.64zM249.42 230.19h5.64v1.55h-5.64zM249.42 286.10h5.64v1.55h-5.64zM249.42 379.29h5.64v1.55h-5.64zM249.42 385.50h5.64v1.55h-5.64zM255.06 220.87h5.64v1.55h-5.64zM255.06 231.74h5.64v3.11h-5.64zM255.06 237.96h5.64v1.55h-5.64zM255.06 427.44h5.64v1.55h-5.64zM260.70 259.70h5.64v1.55h-5.64zM260.70 411.91h5.64v1.55h-5.64zM266.34 241.06h5.64v1.55h-5.64zM266.34 250.38h5.64v1.55h-5.64zM266.34 255.04h5.64v1.55h-5.64zM266.34 300.08h5.64v1.55h-5.64zM266.34 329.59h5.64v1.55h-5.64zM266.34 343.57h5.64v1.55h-5.64zM271.98 237.96h5.64v1.55h-5.64zM271.98 262.81h5.64v1.55h-5.64zM271.98 337.36h5.64v1.55h-5.64zM271.98 345.12h5.64v1.55h-5.64zM271.98 374.63h5.64v1.55h-5.64zM271.98 382.40h5.64v1.55h-5.64zM271.98 419.67h5.64v1.55h-5.64zM271.98 450.73h5.64v1.55h-5.64zM277.62 247.28h5.64v1.55h-5.64zM277.62 275.23h5.64v1.55h-5.64zM277.62 321.82h5.64v1.55h-5.64zM277.62 329.59h5.64v1.55h-5.64zM277.62 335.80h5.64v1.55h-5.64zM277.62 362.21h5.64v1.55h-5.64zM277.62 371.52h5.64v1.55h-5.64zM277.62 374.63h5.64v1.55h-5.64zM277.62 394.82h5.64v1.55h-5.64zM283.26 220.87h5.64v1.55h-5.64zM283.26 250.38h5.64v1.55h-5.64zM283.26 265.91h5.64v1.55h-5.64zM283.26 283.00h5.64v1.55h-5.64zM283.26 349.78h5.64v3.11h-5.64zM283.26 357.55h5.64v1.55h-5.64zM283.26 365.31h5.64v1.55h-5.64zM283.26 436.76h5.64v1.55h-5.64zM288.90 213.11h5.64v1.55h-5.64zM288.90 286.10h5.64v1.55h-5.64zM288.90 300.08h5.64v1.55h-5.64zM288.90 349.78h5.64v1.55h-5.64zM288.90 352.89h5.64v1.55h-5.64zM288.90 365.31h5.64v1.55h-5.64zM288.90 374.63h5.64v1.55h-5.64zM288.90 385.50h5.64v1.55h-5.64zM288.90 404.14h5.64v1.55h-5.64zM288.90 422.78h5.64v1.55h-5.64zM294.54 213.11h5.64v3.11h-5.64zM294.54 228.64h5.64v1.55h-5.64zM294.54 272.12h5.64v1.55h-5.64zM294.54 283.00h5.64v1.55h-5.64zM294.54 354.44h5.64v1.55h-5.64zM294.54 360.65h5.64v1.55h-5.64zM294.54 442.97h5.64v1.55h-5.64zM294.54 455.39h5.64v1.55h-5.64zM300.18 210.00h5.64v1.55h-5.64zM300.18 275.23h5.64v1.55h-5.64zM300.18 283.00h5.64v1.55h-5.64zM300.18 303.19h5.64v1.55h-5.64zM300.18 315.61h5.64v1.55h-5.64zM300.18 338.91h5.64v1.55h-5.64zM305.82 210.00h5.64v1.55h-5.64zM305.82 239.51h5.64v1.55h-5.64zM305.82 312.51h5.64v1.55h-5.64zM305.82 332.70h5.64v1.55h-5.64zM305.82 337.36h5.64v1.55h-5.64zM305.82 368.42h5.64v1.55h-5.64zM305.82 399.48h5.64v1.55h-5.64zM305.82 446.08h5.64v1.55h-5.64zM311.46 234.85h5.64v1.55h-5.64zM311.46 265.91h5.64v1.55h-5.64zM311.46 281.44h5.64v1.55h-5.64zM311.46 287.66h5.64v1.55h-5.64zM311.46 312.51h5.64v1.55h-5.64zM311.46 324.93h5.64v1.55h-5.64zM311.46 331.14h5.64v1.55h-5.64zM311.46 401.03h5.64v1.55h-5.64zM317.10 248.83h5.64v1.55h-5.64zM317.10 270.57h5.64v1.55h-5.64zM317.10 278.34h5.64v3.11h-5.64zM317.10 290.76h5.64v1.55h-5.64zM317.10 321.82h5.64v1.55h-5.64zM317.10 328.04h5.64v1.55h-5.64zM317.10 343.57h5.64v1.55h-5.64zM317.10 359.10h5.64v1.55h-5.64zM317.10 450.73h5.64v1.55h-5.64zM322.74 222.43h5.64v1.55h-5.64zM322.74 273.68h5.64v1.55h-5.64zM322.74 278.34h5.64v1.55h-5.64zM322.74 295.42h5.64v1.55h-5.64zM322.74 300.08h5.64v1.55h-5.64zM322.74 310.95h5.64v3.11h-5.64zM322.74 335.80h5.64v4.66h-5.64zM322.74 354.44h5.64v1.55h-5.64zM322.74 368.42h5.64v1.55h-5.64zM322.74 397.93h5.64v1.55h-5.64zM322.74 424.33h5.64v1.55h-5.64zM322.74 453.84h5.64v1.55h-5.64zM328.40 227.08h6.50v1.55h-6.50zM328.40 290.76h6.50v1.55h-6.50zM328.40 293.87h6.50v1.55h-6.50zM328.40 300.08h6.50v1.55h-6.50zM328.40 324.93h6.50v1.55h-6.50zM328.40 352.89h6.50v3.11h-6.50zM328.40 362.21h6.50v1.55h-6.50zM328.40 369.97h6.50v1.55h-6.50zM328.40 379.29h6.50v1.55h-6.50z"/>
<path fill="#0a0a74" d="M91.50 217.77h5.64v3.11h-5.64zM91.50 222.43h5.64v4.66h-5.64zM91.50 236.40h5.64v3.11h-5.64zM91.50 247.28h5.64v1.55h-5.64zM91.50 251.93h5.64v1.55h-5.64zM91.50 261.25h5.64v1.55h-5.64zM91.50 267.47h5.64v1.55h-5.64zM91.50 273.68h5.64v1.55h-5.64zM91.50 276.78h5.64v1.55h-5.64zM91.50 283.00h5.64v3.11h-5.64zM91.50 292.32h5.64v6.21h-5.64zM91.50 304.74h5.64v1.55h-5.64zM91.50 307.85h5.64v1.55h-5.64zM91.50 310.95h5.64v3.11h-5.64zM91.50 317.17h5.64v1.55h-5.64zM91.50 323.38h5.64v1.55h-5.64zM91.50 328.04h5.64v1.55h-5.64zM91.50 332.70h5.64v1.55h-5.64zM91.50 342.02h5.64v1.55h-5.64zM91.50 345.12h5.64v3.11h-5.64zM91.50 352.89h5.64v1.55h-5.64zM91.50 355.99h5.64v1.55h-5.64zM91.50 359.10h5.64v1.55h-5.64zM91.50 366.87h5.64v1.55h-5.64zM91.50 441.42h5.64v1.55h-5.64zM97.14 283.00h5.64v1.55h-5.64zM97.14 289.21h5.64v1.55h-5.64zM97.14 292.32h5.64v1.55h-5.64zM97.14 300.08h5.64v1.55h-5.64zM97.14 307.85h5.64v3.11h-5.64zM97.14 315.61h5.64v1.55h-5.64zM97.14 334.25h5.64v1.55h-5.64zM97.14 379.29h5.64v1.55h-5.64zM102.78 239.51h5.64v1.55h-5.64zM102.78 242.62h5.64v3.11h-5.64zM102.78 281.44h5.64v3.11h-5.64zM102.78 296.98h5.64v6.21h-5.64zM102.78 307.85h5.64v1.55h-5.64zM102.78 314.06h5.64v1.55h-5.64zM102.78 320.27h5.64v1.55h-5.64zM102.78 331.14h5.64v3.11h-5.64zM102.78 338.91h5.64v3.11h-5.64zM102.78 351.33h5.64v1.55h-5.64zM102.78 357.55h5.64v1.55h-5.64zM102.78 360.65h5.64v1.55h-5.64zM102.78 365.31h5.64v4.66h-5.64zM102.78 421.23h5.64v1.55h-5.64zM108.42 233.30h5.64v1.55h-5.64zM108.42 241.06h5.64v1.55h-5.64zM108.42 244.17h5.64v1.55h-5.64zM108.42 248.83h5.64v1.55h-5.64zM108.42 286.10h5.64v1.55h-5.64zM108.42 293.87h5.64v1.55h-5.64zM108.42 300.08h5.64v1.55h-5.64zM108.42 307.85h5.64v1.55h-5.64zM108.42 310.95h5.64v1.55h-5.64zM108.42 314.06h5.64v1.55h-5.64zM108.42 318.72h5.64v1.55h-5.64zM108.42 321.82h5.64v1.55h-5.64zM108.42 328.04h5.64v1.55h-5.64zM108.42 331.14h5.64v1.55h-5.64zM108.42 334.25h5.64v10.87h-5.64zM108.42 349.78h5.64v1.55h-5.64zM108.42 354.44h5.64v3.11h-5.64zM108.42 359.10h5.64v1.55h-5.64zM108.42 373.08h5.64v1.55h-5.64zM114.06 210.00h5.64v1.55h-5.64zM114.06 223.98h5.64v1.55h-5.64zM114.06 227.08h5.64v1.55h-5.64zM114.06 231.74h5.64v3.11h-5.64zM114.06 237.96h5.64v3.11h-5.64zM114.06 250.38h5.64v1.55h-5.64zM114.06 275.23h5.64v1.55h-5.64zM114.06 278.34h5.64v1.55h-5.64zM114.06 281.44h5.64v4.66h-5.64zM114.06 289.21h5.64v1.55h-5.64zM114.06 300.08h5.64v1.55h-5.64zM114.06 307.85h5.64v1.55h-5.64zM114.06 310.95h5.64v1.55h-5.64zM114.06 314.06h5.64v1.55h-5.64zM114.06 317.17h5.64v1.55h-5.64zM114.06 320.27h5.64v1.55h-5.64zM114.06 324.93h5.64v1.55h-5.64zM114.06 334.25h5.64v3.11h-5.64zM114.06 338.91h5.64v3.11h-5.64zM114.06 349.78h5.64v1.55h-5.64zM114.06 355.99h5.64v3.11h-5.64zM114.06 360.65h5.64v1.55h-5.64zM114.06 365.31h5.64v3.11h-5.64zM114.06 369.97h5.64v1.55h-5.64zM114.06 374.63h5.64v3.11h-5.64zM114.06 387.06h5.64v1.55h-5.64zM114.06 391.72h5.64v1.55h-5.64zM114.06 397.93h5.64v1.55h-5.64zM114.06 408.80h5.64v1.55h-5.64zM114.06 413.46h5.64v1.55h-5.64zM114.06 433.65h5.64v1.55h-5.64zM114.06 441.42h5.64v1.55h-5.64zM114.06 450.73h5.64v1.55h-5.64zM119.70 214.66h5.64v1.55h-5.64zM119.70 219.32h5.64v1.55h-5.64zM119.70 225.53h5.64v1.55h-5.64zM119.70 228.64h5.64v1.55h-5.64zM119.70 231.74h5.64v1.55h-5.64zM119.70 234.85h5.64v3.11h-5.64zM119.70 241.06h5.64v1.55h-5.64zM119.70 250.38h5.64v3.11h-5.64zM119.70 261.25h5.64v1.55h-5.64zM119.70 281.44h5.64v4.66h-5.64zM119.70 293.87h5.64v1.55h-5.64zM119.70 298.53h5.64v1.55h-5.64zM119.70 306.29h5.64v1.55h-5.64zM119.70 309.40h5.64v1.55h-5.64zM119.70 312.51h5.64v1.55h-5.64zM119.70 323.38h5.64v1.55h-5.64zM119.70 334.25h5.64v1.55h-5.64zM119.70 337.36h5.64v1.55h-5.64zM119.70 343.57h5.64v3.11h-5.64zM119.70 348.23h5.64v1.55h-5.64zM119.70 354.44h5.64v1.55h-5.64zM119.70 360.65h5.64v1.55h-5.64zM119.70 363.76h5.64v3.11h-5.64zM119.70 387.06h5.64v1.55h-5.64zM125.34 219.32h5.64v1.55h-5.64zM125.34 225.53h5.64v1.55h-5.64zM125.34 255.04h5.64v1.55h-5.64zM125.34 284.55h5.64v1.55h-5.64zM125.34 290.76h5.64v4.66h-5.64zM125.34 298.53h5.64v1.55h-5.64zM125.34 324.93h5.64v1.55h-5.64zM125.34 331.14h5.64v1.55h-5.64zM125.34 334.25h5.64v1.55h-5.64zM125.34 337.36h5.64v6.21h-5.64zM125.34 351.33h5.64v3.11h-5.64zM125.34 359.10h5.64v3.11h-5.64zM130.98 213.11h5.64v1.55h-5.64zM130.98 219.32h5.64v1.55h-5.64zM130.98 233.30h5.64v1.55h-5.64zM130.98 242.62h5.64v1.55h-5.64zM130.98 247.28h5.64v1.55h-5.64zM130.98 264.36h5.64v3.11h-5.64zM130.98 287.66h5.64v1.55h-5.64zM130.98 293.87h5.64v1.55h-5.64zM130.98 298.53h5.64v1.55h-5.64zM130.98 304.74h5.64v1.55h-5.64zM130.98 314.06h5.64v4.66h-5.64zM130.98 331.14h5.64v1.55h-5.64zM130.98 337.36h5.64v3.11h-5.64zM130.98 359.10h5.64v1.55h-5.64zM130.98 363.76h5.64v4.66h-5.64zM136.62 211.55h5.64v3.11h-5.64zM136.62 219.32h5.64v1.55h-5.64zM136.62 227.08h5.64v3.11h-5.64zM136.62 231.74h5.64v1.55h-5.64zM136.62 244.17h5.64v1.55h-5.64zM136.62 251.93h5.64v1.55h-5.64zM136.62 256.59h5.64v1.55h-5.64zM136.62 264.36h5.64v1.55h-5.64zM136.62 267.47h5.64v1.55h-5.64zM136.62 270.57h5.64v1.55h-5.64zM136.62 287.66h5.64v1.55h-5.64zM136.62 290.76h5.64v1.55h-5.64zM136.62 321.82h5.64v1.55h-5.64zM136.62 326.48h5.64v1.55h-5.64zM136.62 329.59h5.64v1.55h-5.64zM136.62 335.80h5.64v4.66h-5.64zM136.62 343.57h5.64v1.55h-5.64zM136.62 348.23h5.64v1.55h-5.64zM136.62 354.44h5.64v1.55h-5.64zM136.62 366.87h5.64v1.55h-5.64zM136.62 369.97h5.64v1.55h-5.64zM136.62 373.08h5.64v3.11h-5.64zM136.62 388.61h5.64v3.11h-5.64zM136.62 394.82h5.64v3.11h-5.64zM136.62 399.48h5.64v1.55h-5.64zM136.62 405.69h5.64v1.55h-5.64zM136.62 408.80h5.64v3.11h-5.64zM136.62 455.39h5.64v1.55h-5.64zM142.26 210.00h5.64v4.66h-5.64zM142.26 217.77h5.64v1.55h-5.64zM142.26 225.53h5.64v1.55h-5.64zM142.26 230.19h5.64v1.55h-5.64zM142.26 241.06h5.64v1.55h-5.64zM142.26 247.28h5.64v3.11h-5.64zM142.26 258.15h5.64v1.55h-5.64zM142.26 261.25h5.64v3.11h-5.64zM142.26 265.91h5.64v1.55h-5.64zM142.26 273.68h5.64v1.55h-5.64zM142.26 283.00h5.64v1.55h-5.64zM142.26 287.66h5.64v3.11h-5.64zM142.26 296.98h5.64v1.55h-5.64zM142.26 300.08h5.64v3.11h-5.64zM142.26 307.85h5.64v1.55h-5.64zM142.26 310.95h5.64v4.66h-5.64zM142.26 328.04h5.64v1.55h-5.64zM142.26 331.14h5.64v1.55h-5.64zM142.26 343.57h5.64v3.11h-5.64zM142.26 354.44h5.64v1.55h-5.64zM142.26 357.55h5.64v1.55h-5.64zM142.26 365.31h5.64v3.11h-5.64zM142.26 371.52h5.64v1.55h-5.64zM142.26 374.63h5.64v1.55h-5.64zM142.26 416.57h5.64v1.55h-5.64zM147.90 211.55h5.64v1.55h-5.64zM147.90 220.87h5.64v1.55h-5.64zM147.90 239.51h5.64v1.55h-5.64zM147.90 256.59h5.64v1.55h-5.64zM147.90 262.81h5.64v1.55h-5.64zM147.90 275.23h5.64v1.55h-5.64zM147.90 289.21h5.64v1.55h-5.64zM147.90 292.32h5.64v3.11h-5.64zM147.90 298.53h5.64v3.11h-5.64zM147.90 303.19h5.64v3.11h-5.64zM147.90 307.85h5.64v1.55h-5.64zM147.90 315.61h5.64v1.55h-5.64zM147.90 328.04h5.64v3.11h-5.64zM147.90 334.25h5.64v1.55h-5.64zM147.90 337.36h5.64v1.55h-5.64zM147.90 343.57h5.64v1.55h-5.64zM147.90 349.78h5.64v1.55h-5.64zM147.90 352.89h5.64v1.55h-5.64zM147.90 357.55h5.64v1.55h-5.64zM147.90 363.76h5.64v1.55h-5.64zM147.90 366.87h5.64v4.66h-5.64zM147.90 376.18h5.64v1.55h-5.64zM153.54 211.55h5.64v1.55h-5.64zM153.54 219.32h5.64v1.55h-5.64zM153.54 284.55h5.64v1.55h-5.64zM153.54 290.76h5.64v1.55h-5.64zM153.54 293.87h5.64v1.55h-5.64zM153.54 296.98h5.64v1.55h-5.64zM153.54 304.74h5.64v1.55h-5.64zM153.54 309.40h5.64v3.11h-5.64zM153.54 320.27h5.64v3.11h-5.64zM153.54 331.14h5.64v1.55h-5.64zM153.54 337.36h5.64v1.55h-5.64zM153.54 340.46h5.64v1.55h-5.64zM153.54 343.57h5.64v3.11h-5.64zM153.54 348.23h5.64v3.11h-5.64zM153.54 360.65h5.64v1.55h-5.64zM153.54 363.76h5.64v1.55h-5.64zM159.18 244.17h5.64v1.55h-5.64zM159.18 256.59h5.64v1.55h-5.64zM159.18 262.81h5.64v1.55h-5.64zM159.18 283.00h5.64v3.11h-5.64zM159.18 287.66h5.64v4.66h-5.64zM159.18 306.29h5.64v1.55h-5.64zM159.18 310.95h5.64v1.55h-5.64zM159.18 357.55h5.64v1.55h-5.64zM159.18 455.39h5.64v1.55h-5.64zM164.82 210.00h5.64v1.55h-5.64zM164.82 213.11h5.64v1.55h-5.64zM164.82 216.21h5.64v1.55h-5.64zM164.82 223.98h5.64v1.55h-5.64zM164.82 239.51h5.64v1.55h-5.64zM164.82 248.83h5.64v1.55h-5.64zM164.82 253.49h5.64v1.55h-5.64zM164.82 261.25h5.64v1.55h-5.64zM164.82 269.02h5.64v1.55h-5.64zM164.82 272.12h5.64v3.11h-5.64zM164.82 276.78h5.64v1.55h-5.64zM164.82 289.21h5.64v6.21h-5.64zM164.82 296.98h5.64v1.55h-5.64zM164.82 301.63h5.64v1.55h-5.64zM164.82 304.74h5.64v1.55h-5.64zM164.82 307.85h5.64v4.66h-5.64zM164.82 315.61h5.64v3.11h-5.64zM164.82 326.48h5.64v7.77h-5.64zM164.82 340.46h5.64v1.55h-5.64zM164.82 351.33h5.64v3.11h-5.64zM164.82 355.99h5.64v1.55h-5.64zM164.82 359.10h5.64v1.55h-5.64zM164.82 369.97h5.64v1.55h-5.64zM164.82 374.63h5.64v1.55h-5.64zM164.82 410.35h5.64v1.55h-5.64zM170.46 295.42h5.64v1.55h-5.64zM170.46 304.74h5.64v1.55h-5.64zM170.46 310.95h5.64v3.11h-5.64zM170.46 326.48h5.64v1.55h-5.64zM170.46 329.59h5.64v1.55h-5.64zM170.46 332.70h5.64v1.55h-5.64zM170.46 335.80h5.64v1.55h-5.64zM170.46 345.12h5.64v6.21h-5.64zM170.46 354.44h5.64v4.66h-5.64zM170.46 360.65h5.64v1.55h-5.64zM170.46 363.76h5.64v1.55h-5.64zM170.46 368.42h5.64v1.55h-5.64zM176.10 239.51h5.64v1.55h-5.64zM176.10 292.32h5.64v1.55h-5.64zM176.10 304.74h5.64v1.55h-5.64zM176.10 318.72h5.64v1.55h-5.64zM176.10 324.93h5.64v1.55h-5.64zM176.10 335.80h5.64v3.11h-5.64zM176.10 340.46h5.64v1.55h-5.64zM176.10 349.78h5.64v1.55h-5.64zM176.10 354.44h5.64v1.55h-5.64zM176.10 362.21h5.64v1.55h-5.64zM181.74 210.00h5.64v1.55h-5.64zM181.74 217.77h5.64v1.55h-5.64zM181.74 225.53h5.64v1.55h-5.64zM181.74 231.74h5.64v1.55h-5.64zM181.74 261.25h5.64v1.55h-5.64zM181.74 264.36h5.64v1.55h-5.64zM181.74 272.12h5.64v4.66h-5.64zM181.74 279.89h5.64v1.55h-5.64zM181.74 283.00h5.64v1.55h-5.64zM181.74 286.10h5.64v3.11h-5.64zM181.74 293.87h5.64v3.11h-5.64zM181.74 298.53h5.64v1.55h-5.64zM181.74 303.19h5.64v1.55h-5.64zM181.74 310.95h5.64v1.55h-5.64zM181.74 317.17h5.64v3.11h-5.64zM181.74 324.93h5.64v1.55h-5.64zM181.74 337.36h5.64v1.55h-5.64zM181.74 342.02h5.64v1.55h-5.64zM181.74 351.33h5.64v1.55h-5.64zM181.74 355.99h5.64v1.55h-5.64zM181.74 366.87h5.64v4.66h-5.64zM181.74 397.93h5.64v1.55h-5.64zM187.38 211.55h5.64v1.55h-5.64zM187.38 225.53h5.64v1.55h-5.64zM187.38 230.19h5.64v1.55h-5.64zM187.38 234.85h5.64v1.55h-5.64zM187.38 262.81h5.64v1.55h-5.64zM187.38 293.87h5.64v3.11h-5.64zM187.38 300.08h5.64v1.55h-5.64zM187.38 304.74h5.64v1.55h-5.64zM187.38 307.85h5.64v1.55h-5.64zM187.38 312.51h5.64v1.55h-5.64zM187.38 321.82h5.64v1.55h-5.64zM187.38 324.93h5.64v1.55h-5.64zM187.38 329.59h5.64v1.55h-5.64zM187.38 334.25h5.64v1.55h-5.64zM187.38 362.21h5.64v1.55h-5.64zM187.38 365.31h5.64v1.55h-5.64zM187.38 405.69h5.64v1.55h-5.64zM193.02 220.87h5.64v3.11h-5.64zM193.02 225.53h5.64v1.55h-5.64zM193.02 228.64h5.64v1.55h-5.64zM193.02 231.74h5.64v1.55h-5.64zM193.02 234.85h5.64v1.55h-5.64zM193.02 244.17h5.64v1.55h-5.64zM193.02 247.28h5.64v6.21h-5.64zM193.02 255.04h5.64v1.55h-5.64zM193.02 261.25h5.64v1.55h-5.64zM193.02 265.91h5.64v1.55h-5.64zM193.02 272.12h5.64v1.55h-5.64zM193.02 279.89h5.64v3.11h-5.64zM193.02 284.55h5.64v1.55h-5.64zM193.02 289.21h5.64v3.11h-5.64zM193.02 296.98h5.64v1.55h-5.64zM193.02 307.85h5.64v3.11h-5.64zM193.02 312.51h5.64v1.55h-5.64zM193.02 318.72h5.64v1.55h-5.64zM193.02 321.82h5.64v1.55h-5.64zM193.02 332.70h5.64v1.55h-5.64zM193.02 335.80h5.64v1.55h-5.64zM193.02 338.91h5.64v3.11h-5.64zM193.02 348.23h5.64v1.55h-5.64zM193.02 352.89h5.64v1.55h-5.64zM193.02 355.99h5.64v1.55h-5.64zM193.02 360.65h5.64v1.55h-5.64zM193.02 365.31h5.64v1.55h-5.64zM193.02 373.08h5.64v3.11h-5.64zM193.02 377.74h5.64v1.55h-5.64zM193.02 388.61h5.64v6.21h-5.64zM193.02 396.38h5.64v3.11h-5.64zM193.02 407.25h5.64v1.55h-5.64zM198.66 283.00h5.64v1.55h-5.64zM198.66 292.32h5.64v1.55h-5.64zM198.66 295.42h5.64v1.55h-5.64zM198.66 309.40h5.64v1.55h-5.64zM198.66 323.38h5.64v1.55h-5.64zM198.66 328.04h5.64v1.55h-5.64zM198.66 338.91h5.64v1.55h-5.64zM198.66 346.68h5.64v1.55h-5.64zM198.66 359.10h5.64v1.55h-5.64zM198.66 366.87h5.64v3.11h-5.64zM198.66 411.91h5.64v1.55h-5.64zM204.30 210.00h5.64v3.11h-5.64zM204.30 214.66h5.64v3.11h-5.64zM204.30 220.87h5.64v1.55h-5.64zM204.30 225.53h5.64v3.11h-5.64zM204.30 230.19h5.64v3.11h-5.64zM204.30 237.96h5.64v6.21h-5.64zM204.30 248.83h5.64v1.55h-5.64zM204.30 253.49h5.64v1.55h-5.64zM204.30 258.15h5.64v1.55h-5.64zM204.30 267.47h5.64v1.55h-5.64zM204.30 270.57h5.64v1.55h-5.64zM204.30 275.23h5.64v3.11h-5.64zM204.30 283.00h5.64v1.55h-5.64zM204.30 287.66h5.64v1.55h-5.64zM204.30 290.76h5.64v1.55h-5.64zM204.30 306.29h5.64v4.66h-5.64zM204.30 312.51h5.64v1.55h-5.64zM204.30 315.61h5.64v3.11h-5.64zM204.30 323.38h5.64v1.55h-5.64zM204.30 332.70h5.64v1.55h-5.64zM204.30 335.80h5.64v1.55h-5.64zM204.30 345.12h5.64v1.55h-5.64zM204.30 348.23h5.64v3.11h-5.64zM204.30 360.65h5.64v1.55h-5.64zM204.30 365.31h5.64v1.55h-5.64zM204.30 382.40h5.64v1.55h-5.64zM204.30 385.50h5.64v1.55h-5.64zM204.30 396.38h5.64v1.55h-5.64zM204.30 407.25h5.64v1.55h-5.64zM209.94 223.98h5.64v3.11h-5.64zM209.94 231.74h5.64v3.11h-5.64zM209.94 253.49h5.64v1.55h-5.64zM209.94 258.15h5.64v1.55h-5.64zM209.94 262.81h5.64v1.55h-5.64zM209.94 270.57h5.64v3.11h-5.64zM209.94 275.23h5.64v1.55h-5.64zM209.94 278.34h5.64v3.11h-5.64zM209.94 283.00h5.64v1.55h-5.64zM209.94 290.76h5.64v1.55h-5.64zM209.94 298.53h5.64v1.55h-5.64zM209.94 306.29h5.64v1.55h-5.64zM209.94 314.06h5.64v4.66h-5.64zM209.94 331.14h5.64v1.55h-5.64zM209.94 342.02h5.64v1.55h-5.64zM209.94 346.68h5.64v1.55h-5.64zM209.94 351.33h5.64v1.55h-5.64zM209.94 354.44h5.64v1.55h-5.64zM209.94 360.65h5.64v1.55h-5.64zM209.94 363.76h5.64v3.11h-5.64zM209.94 387.06h5.64v1.55h-5.64zM215.58 210.00h5.64v1.55h-5.64zM215.58 228.64h5.64v1.55h-5.64zM215.58 233.30h5.64v1.55h-5.64zM215.58 237.96h5.64v1.55h-5.64zM215.58 262.81h5.64v1.55h-5.64zM215.58 286.10h5.64v1.55h-5.64zM215.58 293.87h5.64v1.55h-5.64zM215.58 296.98h5.64v1.55h-5.64zM215.58 300.08h5.64v1.55h-5.64zM215.58 304.74h5.64v1.55h-5.64zM215.58 309.40h5.64v1.55h-5.64zM215.58 312.51h5.64v1.55h-5.64zM215.58 318.72h5.64v1.55h-5.64zM215.58 321.82h5.64v1.55h-5.64zM215.58 329.59h5.64v1.55h-5.64zM215.58 338.91h5.64v4.66h-5.64zM215.58 346.68h5.64v1.55h-5.64zM215.58 352.89h5.64v3.11h-5.64zM215.58 363.76h5.64v1.55h-5.64zM215.58 369.97h5.64v1.55h-5.64zM215.58 401.03h5.64v1.55h-5.64zM221.22 214.66h5.64v1.55h-5.64zM221.22 217.77h5.64v1.55h-5.64zM221.22 223.98h5.64v1.55h-5.64zM221.22 236.40h5.64v1.55h-5.64zM221.22 239.51h5.64v1.55h-5.64zM221.22 242.62h5.64v4.66h-5.64zM221.22 269.02h5.64v1.55h-5.64zM221.22 272.12h5.64v3.11h-5.64zM221.22 276.78h5.64v1.55h-5.64zM221.22 283.00h5.64v1.55h-5.64zM221.22 290.76h5.64v3.11h-5.64zM221.22 296.98h5.64v1.55h-5.64zM221.22 300.08h5.64v1.55h-5.64zM221.22 315.61h5.64v3.11h-5.64zM221.22 324.93h5.64v1.55h-5.64zM221.22 328.04h5.64v1.55h-5.64zM221.22 334.25h5.64v4.66h-5.64zM221.22 340.46h5.64v1.55h-5.64zM221.22 343.57h5.64v1.55h-5.64zM221.22 346.68h5.64v1.55h-5.64zM221.22 349.78h5.64v1.55h-5.64zM221.22 354.44h5.64v1.55h-5.64zM221.22 359.10h5.64v1.55h-5.64zM221.22 410.35h5.64v1.55h-5.64zM226.86 210.00h5.64v3.11h-5.64zM226.86 217.77h5.64v1.55h-5.64zM226.86 248.83h5.64v1.55h-5.64zM226.86 251.93h5.64v1.55h-5.64zM226.86 255.04h5.64v1.55h-5.64zM226.86 258.15h5.64v1.55h-5.64zM226.86 261.25h5.64v1.55h-5.64zM226.86 267.47h5.64v1.55h-5.64zM226.86 272.12h5.64v1.55h-5.64zM226.86 283.00h5.64v1.55h-5.64zM226.86 286.10h5.64v1.55h-5.64zM226.86 293.87h5.64v3.11h-5.64zM226.86 300.08h5.64v1.55h-5.64zM226.86 304.74h5.64v3.11h-5.64zM226.86 314.06h5.64v1.55h-5.64zM226.86 317.17h5.64v1.55h-5.64zM226.86 320.27h5.64v1.55h-5.64zM226.86 323.38h5.64v1.55h-5.64zM226.86 331.14h5.64v1.55h-5.64zM226.86 334.25h5.64v1.55h-5.64zM226.86 337.36h5.64v1.55h-5.64zM226.86 342.02h5.64v1.55h-5.64zM226.86 352.89h5.64v1.55h-5.64zM226.86 359.10h5.64v3.11h-5.64zM226.86 365.31h5.64v1.55h-5.64zM226.86 371.52h5.64v1.55h-5.64zM226.86 380.84h5.64v1.55h-5.64zM226.86 387.06h5.64v1.55h-5.64zM226.86 391.72h5.64v3.11h-5.64zM226.86 401.03h5.64v1.55h-5.64zM226.86 404.14h5.64v1.55h-5.64zM226.86 407.25h5.64v1.55h-5.64zM226.86 411.91h5.64v3.11h-5.64zM226.86 421.23h5.64v1.55h-5.64zM232.50 211.55h5.64v1.55h-5.64zM232.50 216.21h5.64v1.55h-5.64zM232.50 227.08h5.64v1.55h-5.64zM232.50 242.62h5.64v1.55h-5.64zM232.50 245.72h5.64v1.55h-5.64zM232.50 259.70h5.64v1.55h-5.64zM232.50 262.81h5.64v1.55h-5.64zM232.50 267.47h5.64v1.55h-5.64zM232.50 272.12h5.64v1.55h-5.64zM232.50 279.89h5.64v1.55h-5.64zM232.50 287.66h5.64v1.55h-5.64zM232.50 304.74h5.64v1.55h-5.64zM232.50 309.40h5.64v1.55h-5.64zM232.50 312.51h5.64v1.55h-5.64zM232.50 315.61h5.64v1.55h-5.64zM232.50 320.27h5.64v1.55h-5.64zM232.50 331.14h5.64v1.55h-5.64zM232.50 334.25h5.64v1.55h-5.64zM232.50 348.23h5.64v1.55h-5.64zM232.50 359.10h5.64v1.55h-5.64zM232.50 365.31h5.64v1.55h-5.64zM232.50 368.42h5.64v3.11h-5.64zM232.50 383.95h5.64v3.11h-5.64zM232.50 390.16h5.64v1.55h-5.64zM232.50 394.82h5.64v1.55h-5.64zM232.50 399.48h5.64v1.55h-5.64zM232.50 410.35h5.64v1.55h-5.64zM232.50 413.46h5.64v3.11h-5.64zM238.14 214.66h5.64v3.11h-5.64zM238.14 219.32h5.64v1.55h-5.64zM238.14 228.64h5.64v1.55h-5.64zM238.14 233.30h5.64v1.55h-5.64zM238.14 245.72h5.64v1.55h-5.64zM238.14 248.83h5.64v1.55h-5.64zM238.14 262.81h5.64v3.11h-5.64zM238.14 267.47h5.64v1.55h-5.64zM238.14 275.23h5.64v1.55h-5.64zM238.14 279.89h5.64v1.55h-5.64zM238.14 287.66h5.64v1.55h-5.64zM238.14 293.87h5.64v1.55h-5.64zM238.14 300.08h5.64v3.11h-5.64zM238.14 312.51h5.64v1.55h-5.64zM238.14 317.17h5.64v3.11h-5.64zM238.14 321.82h5.64v3.11h-5.64zM238.14 334.25h5.64v3.11h-5.64zM238.14 348.23h5.64v1.55h-5.64zM238.14 354.44h5.64v1.55h-5.64zM238.14 359.10h5.64v4.66h-5.64zM238.14 371.52h5.64v1.55h-5.64zM238.14 374.63h5.64v1.55h-5.64zM238.14 380.84h5.64v6.21h-5.64zM238.14 390.16h5.64v1.55h-5.64zM238.14 393.27h5.64v1.55h-5.64zM238.14 405.69h5.64v3.11h-5.64zM238.14 413.46h5.64v1.55h-5.64zM238.14 416.57h5.64v1.55h-5.64zM238.14 421.23h5.64v1.55h-5.64zM238.14 430.54h5.64v1.55h-5.64zM243.78 211.55h5.64v3.11h-5.64zM243.78 219.32h5.64v1.55h-5.64zM243.78 256.59h5.64v1.55h-5.64zM243.78 287.66h5.64v1.55h-5.64zM243.78 309.40h5.64v1.55h-5.64zM243.78 318.72h5.64v1.55h-5.64zM243.78 338.91h5.64v1.55h-5.64zM243.78 349.78h5.64v1.55h-5.64zM243.78 357.55h5.64v1.55h-5.64zM243.78 366.87h5.64v1.55h-5.64zM249.42 225.53h5.64v1.55h-5.64zM249.42 237.96h5.64v1.55h-5.64zM249.42 244.17h5.64v4.66h-5.64zM249.42 255.04h5.64v1.55h-5.64zM249.42 264.36h5.64v3.11h-5.64zM249.42 290.76h5.64v1.55h-5.64zM249.42 296.98h5.64v1.55h-5.64zM249.42 307.85h5.64v1.55h-5.64zM249.42 321.82h5.64v1.55h-5.64zM249.42 326.48h5.64v1.55h-5.64zM249.42 331.14h5.64v1.55h-5.64zM249.42 334.25h5.64v1.55h-5.64zM249.42 342.02h5.64v1.55h-5.64zM249.42 348.23h5.64v1.55h-5.64zM249.42 352.89h5.64v1.55h-5.64zM249.42 357.55h5.64v4.66h-5.64zM249.42 421.23h5.64v1.55h-5.64zM255.06 258.15h5.64v1.55h-5.64zM255.06 262.81h5.64v1.55h-5.64zM255.06 287.66h5.64v3.11h-5.64zM255.06 292.32h5.64v1.55h-5.64zM255.06 298.53h5.64v1.55h-5.64zM255.06 306.29h5.64v1.55h-5.64zM255.06 312.51h5.64v1.55h-5.64zM255.06 323.38h5.64v1.55h-5.64zM255.06 326.48h5.64v1.55h-5.64zM255.06 335.80h5.64v3.11h-5.64zM255.06 342.02h5.64v3.11h-5.64zM255.06 352.89h5.64v1.55h-5.64zM255.06 355.99h5.64v1.55h-5.64zM255.06 360.65h5.64v1.55h-5.64zM255.06 363.76h5.64v1.55h-5.64zM255.06 369.97h5.64v1.55h-5.64zM255.06 376.18h5.64v1.55h-5.64zM260.70 225.53h5.64v3.11h-5.64zM260.70 230.19h5.64v1.55h-5.64zM260.70 233.30h5.64v1.55h-5.64zM260.70 245.72h5.64v1.55h-5.64zM260.70 251.93h5.64v1.55h-5.64zM260.70 255.04h5.64v1.55h-5.64zM260.70 278.34h5.64v1.55h-5.64zM260.70 283.00h5.64v1.55h-5.64zM260.70 300.08h5.64v3.11h-5.64zM260.70 312.51h5.64v3.11h-5.64zM260.70 317.17h5.64v3.11h-5.64zM260.70 321.82h5.64v1.55h-5.64zM260.70 331.14h5.64v1.55h-5.64zM260.70 365.31h5.64v1.55h-5.64zM260.70 368.42h5.64v1.55h-5.64zM260.70 387.06h5.64v3.11h-5.64zM260.70 393.27h5.64v3.11h-5.64zM266.34 211.55h5.64v1.55h-5.64zM266.34 256.59h5.64v1.55h-5.64zM266.34 373.08h5.64v1.55h-5.64zM271.98 303.19h5.64v1.55h-5.64zM277.62 241.06h5.64v1.55h-5.64zM277.62 244.17h5.64v1.55h-5.64zM277.62 255.04h5.64v1.55h-5.64zM277.62 283.00h5.64v1.55h-5.64zM277.62 293.87h5.64v4.66h-5.64zM277.62 312.51h5.64v4.66h-5.64zM277.62 323.38h5.64v1.55h-5.64zM277.62 326.48h5.64v1.55h-5.64zM277.62 342.02h5.64v1.55h-5.64zM277.62 345.12h5.64v1.55h-5.64zM277.62 354.44h5.64v1.55h-5.64zM283.26 314.06h5.64v1.55h-5.64zM283.26 352.89h5.64v1.55h-5.64zM288.90 211.55h5.64v1.55h-5.64zM288.90 338.91h5.64v1.55h-5.64zM288.90 368.42h5.64v1.55h-5.64zM288.90 453.84h5.64v1.55h-5.64zM294.54 237.96h5.64v1.55h-5.64zM294.54 379.29h5.64v1.55h-5.64zM294.54 438.31h5.64v1.55h-5.64zM305.82 214.66h5.64v1.55h-5.64zM305.82 241.06h5.64v1.55h-5.64zM305.82 369.97h5.64v1.55h-5.64zM311.46 225.53h5.64v1.55h-5.64zM311.46 242.62h5.64v1.55h-5.64zM311.46 272.12h5.64v1.55h-5.64zM311.46 295.42h5.64v1.55h-5.64zM311.46 317.17h5.64v1.55h-5.64zM311.46 351.33h5.64v3.11h-5.64zM311.46 355.99h5.64v1.55h-5.64zM311.46 382.40h5.64v1.55h-5.64zM317.10 222.43h5.64v1.55h-5.64zM317.10 295.42h5.64v1.55h-5.64zM317.10 303.19h5.64v1.55h-5.64zM317.10 312.51h5.64v1.55h-5.64zM317.10 317.17h5.64v1.55h-5.64zM317.10 338.91h5.64v1.55h-5.64zM317.10 342.02h5.64v1.55h-5.64zM317.10 442.97h5.64v1.55h-5.64zM322.74 303.19h5.64v1.55h-5.64zM322.74 309.40h5.64v1.55h-5.64zM322.74 342.02h5.64v1.55h-5.64zM322.74 345.12h5.64v1.55h-5.64zM322.74 352.89h5.64v1.55h-5.64zM328.40 213.11h6.50v1.55h-6.50zM328.40 283.00h6.50v1.55h-6.50zM328.40 295.42h6.50v1.55h-6.50zM328.40 329.59h6.50v1.55h-6.50zM328.40 332.70h6.50v1.55h-6.50zM328.40 360.65h6.50v1.55h-6.50z"/>
<path fill="#f4c400" d="M91.50 228.64h5.64v1.55h-5.64zM91.50 239.51h5.64v1.55h-5.64zM91.50 371.52h5.64v1.55h-5.64zM91.50 380.84h5.64v1.55h-5.64zM91.50 383.95h5.64v1.55h-5.64zM91.50 387.06h5.64v3.11h-5.64zM91.50 401.03h5.64v1.55h-5.64zM91.50 410.35h5.64v1.55h-5.64zM91.50 438.31h5.64v1.55h-5.64zM91.50 442.97h5.64v1.55h-5.64zM97.14 210.00h5.64v1.55h-5.64zM97.14 220.87h5.64v1.55h-5.64zM97.14 262.81h5.64v1.55h-5.64zM97.14 286.10h5.64v1.55h-5.64zM97.14 296.98h5.64v1.55h-5.64zM97.14 324.93h5.64v1.55h-5.64zM97.14 345.12h5.64v1.55h-5.64zM97.14 362.21h5.64v3.11h-5.64zM97.14 366.87h5.64v1.55h-5.64zM97.14 390.16h5.64v1.55h-5.64zM97.14 401.03h5.64v1.55h-5.64zM97.14 416.57h5.64v1.55h-5.64zM97.14 430.54h5.64v1.55h-5.64zM102.78 210.00h5.64v1.55h-5.64zM102.78 222.43h5.64v3.11h-5.64zM102.78 272.12h5.64v1.55h-5.64zM102.78 374.63h5.64v1.55h-5.64zM102.78 394.82h5.64v1.55h-5.64zM102.78 401.03h5.64v1.55h-5.64zM102.78 404.14h5.64v3.11h-5.64zM108.42 216.21h5.64v1.55h-5.64zM108.42 242.62h5.64v1.55h-5.64zM108.42 256.59h5.64v1.55h-5.64zM108.42 259.70h5.64v1.55h-5.64zM108.42 272.12h5.64v1.55h-5.64zM108.42 276.78h5.64v1.55h-5.64zM108.42 366.87h5.64v1.55h-5.64zM108.42 390.16h5.64v1.55h-5.64zM108.42 393.27h5.64v1.55h-5.64zM108.42 444.52h5.64v1.55h-5.64zM108.42 453.84h5.64v1.55h-5.64zM114.06 286.10h5.64v1.55h-5.64zM114.06 393.27h5.64v1.55h-5.64zM114.06 421.23h5.64v1.55h-5.64zM114.06 430.54h5.64v1.55h-5.64zM114.06 447.63h5.64v1.55h-5.64zM119.70 382.40h5.64v1.55h-5.64zM119.70 405.69h5.64v1.55h-5.64zM119.70 424.33h5.64v1.55h-5.64zM119.70 428.99h5.64v3.11h-5.64zM119.70 436.76h5.64v1.55h-5.64zM119.70 444.52h5.64v1.55h-5.64zM125.34 211.55h5.64v3.11h-5.64zM125.34 241.06h5.64v1.55h-5.64zM125.34 253.49h5.64v1.55h-5.64zM125.34 296.98h5.64v1.55h-5.64zM125.34 307.85h5.64v1.55h-5.64zM125.34 315.61h5.64v1.55h-5.64zM125.34 388.61h5.64v3.11h-5.64zM125.34 404.14h5.64v1.55h-5.64zM125.34 432.10h5.64v1.55h-5.64zM125.34 442.97h5.64v3.11h-5.64zM125.34 452.29h5.64v1.55h-5.64zM125.34 455.39h5.64v1.55h-5.64zM130.98 248.83h5.64v3.11h-5.64zM130.98 276.78h5.64v1.55h-5.64zM130.98 281.44h5.64v1.55h-5.64zM130.98 394.82h5.64v1.55h-5.64zM130.98 410.35h5.64v1.55h-5.64zM130.98 432.10h5.64v1.55h-5.64zM130.98 444.52h5.64v1.55h-5.64zM136.62 418.12h5.64v1.55h-5.64zM136.62 427.44h5.64v1.55h-5.64zM136.62 436.76h5.64v1.55h-5.64zM136.62 442.97h5.64v1.55h-5.64zM136.62 450.73h5.64v1.55h-5.64zM142.26 214.66h5.64v1.55h-5.64zM142.26 250.38h5.64v1.55h-5.64zM142.26 255.04h5.64v1.55h-5.64zM142.26 275.23h5.64v1.55h-5.64zM142.26 306.29h5.64v1.55h-5.64zM142.26 390.16h5.64v1.55h-5.64zM142.26 396.38h5.64v1.55h-5.64zM142.26 402.59h5.64v1.55h-5.64zM142.26 405.69h5.64v1.55h-5.64zM142.26 413.46h5.64v1.55h-5.64zM142.26 421.23h5.64v1.55h-5.64zM142.26 428.99h5.64v1.55h-5.64zM142.26 444.52h5.64v1.55h-5.64zM142.26 449.18h5.64v1.55h-5.64zM142.26 456.95h5.64v1.55h-5.64zM147.90 222.43h5.64v3.11h-5.64zM147.90 233.30h5.64v1.55h-5.64zM147.90 236.40h5.64v1.55h-5.64zM147.90 272.12h5.64v1.55h-5.64zM147.90 320.27h5.64v1.55h-5.64zM147.90 380.84h5.64v3.11h-5.64zM147.90 388.61h5.64v1.55h-5.64zM147.90 391.72h5.64v1.55h-5.64zM147.90 397.93h5.64v1.55h-5.64zM147.90 404.14h5.64v1.55h-5.64zM147.90 410.35h5.64v1.55h-5.64zM147.90 419.67h5.64v1.55h-5.64zM147.90 442.97h5.64v1.55h-5.64zM147.90 456.95h5.64v1.55h-5.64zM153.54 242.62h5.64v3.11h-5.64zM153.54 248.83h5.64v1.55h-5.64zM153.54 275.23h5.64v1.55h-5.64zM153.54 292.32h5.64v1.55h-5.64zM153.54 376.18h5.64v1.55h-5.64zM153.54 391.72h5.64v1.55h-5.64zM153.54 396.38h5.64v1.55h-5.64zM153.54 415.01h5.64v1.55h-5.64zM153.54 418.12h5.64v1.55h-5.64zM153.54 421.23h5.64v1.55h-5.64zM159.18 214.66h5.64v3.11h-5.64zM159.18 223.98h5.64v1.55h-5.64zM159.18 247.28h5.64v3.11h-5.64zM159.18 255.04h5.64v1.55h-5.64zM159.18 300.08h5.64v1.55h-5.64zM159.18 304.74h5.64v1.55h-5.64zM159.18 317.17h5.64v1.55h-5.64zM159.18 349.78h5.64v1.55h-5.64zM159.18 354.44h5.64v1.55h-5.64zM159.18 382.40h5.64v1.55h-5.64zM159.18 391.72h5.64v1.55h-5.64zM159.18 407.25h5.64v1.55h-5.64zM159.18 427.44h5.64v1.55h-5.64zM164.82 250.38h5.64v1.55h-5.64zM164.82 373.08h5.64v1.55h-5.64zM164.82 393.27h5.64v1.55h-5.64zM164.82 397.93h5.64v1.55h-5.64zM164.82 401.03h5.64v1.55h-5.64zM164.82 407.25h5.64v1.55h-5.64zM164.82 415.01h5.64v1.55h-5.64zM164.82 438.31h5.64v1.55h-5.64zM170.46 217.77h5.64v3.11h-5.64zM170.46 225.53h5.64v1.55h-5.64zM170.46 230.19h5.64v1.55h-5.64zM170.46 233.30h5.64v1.55h-5.64zM170.46 241.06h5.64v4.66h-5.64zM170.46 248.83h5.64v3.11h-5.64zM170.46 258.15h5.64v1.55h-5.64zM170.46 261.25h5.64v1.55h-5.64zM170.46 278.34h5.64v1.55h-5.64zM170.46 290.76h5.64v1.55h-5.64zM170.46 317.17h5.64v1.55h-5.64zM170.46 365.31h5.64v1.55h-5.64zM170.46 374.63h5.64v1.55h-5.64zM170.46 379.29h5.64v1.55h-5.64zM170.46 383.95h5.64v1.55h-5.64zM170.46 396.38h5.64v1.55h-5.64zM176.10 220.87h5.64v1.55h-5.64zM176.10 223.98h5.64v1.55h-5.64zM176.10 231.74h5.64v1.55h-5.64zM176.10 248.83h5.64v1.55h-5.64zM176.10 255.04h5.64v1.55h-5.64zM176.10 276.78h5.64v1.55h-5.64zM176.10 286.10h5.64v1.55h-5.64zM176.10 289.21h5.64v1.55h-5.64zM176.10 300.08h5.64v1.55h-5.64zM176.10 306.29h5.64v1.55h-5.64zM176.10 309.40h5.64v1.55h-5.64zM176.10 320.27h5.64v1.55h-5.64zM176.10 394.82h5.64v1.55h-5.64zM176.10 410.35h5.64v1.55h-5.64zM176.10 442.97h5.64v1.55h-5.64zM181.74 233.30h5.64v3.11h-5.64zM181.74 276.78h5.64v3.11h-5.64zM181.74 320.27h5.64v1.55h-5.64zM181.74 374.63h5.64v1.55h-5.64zM181.74 422.78h5.64v1.55h-5.64zM181.74 449.18h5.64v1.55h-5.64zM187.38 210.00h5.64v1.55h-5.64zM187.38 237.96h5.64v1.55h-5.64zM187.38 250.38h5.64v1.55h-5.64zM187.38 278.34h5.64v1.55h-5.64zM187.38 320.27h5.64v1.55h-5.64zM187.38 373.08h5.64v3.11h-5.64zM187.38 388.61h5.64v3.11h-5.64zM187.38 394.82h5.64v1.55h-5.64zM187.38 407.25h5.64v1.55h-5.64zM187.38 424.33h5.64v1.55h-5.64zM187.38 446.08h5.64v3.11h-5.64zM193.02 376.18h5.64v1.55h-5.64zM193.02 408.80h5.64v3.11h-5.64zM193.02 432.10h5.64v1.55h-5.64zM193.02 436.76h5.64v1.55h-5.64zM193.02 446.08h5.64v1.55h-5.64zM193.02 453.84h5.64v1.55h-5.64zM198.66 217.77h5.64v1.55h-5.64zM198.66 222.43h5.64v1.55h-5.64zM198.66 225.53h5.64v1.55h-5.64zM198.66 228.64h5.64v1.55h-5.64zM198.66 231.74h5.64v1.55h-5.64zM198.66 241.06h5.64v1.55h-5.64zM198.66 255.04h5.64v1.55h-5.64zM198.66 258.15h5.64v1.55h-5.64zM198.66 270.57h5.64v1.55h-5.64zM198.66 293.87h5.64v1.55h-5.64zM198.66 304.74h5.64v1.55h-5.64zM198.66 314.06h5.64v1.55h-5.64zM198.66 317.17h5.64v1.55h-5.64zM198.66 349.78h5.64v1.55h-5.64zM198.66 385.50h5.64v1.55h-5.64zM198.66 407.25h5.64v1.55h-5.64zM198.66 453.84h5.64v1.55h-5.64zM204.30 388.61h5.64v1.55h-5.64zM204.30 399.48h5.64v1.55h-5.64zM204.30 404.14h5.64v1.55h-5.64zM204.30 410.35h5.64v1.55h-5.64zM204.30 416.57h5.64v1.55h-5.64zM204.30 421.23h5.64v3.11h-5.64zM204.30 427.44h5.64v1.55h-5.64zM204.30 441.42h5.64v1.55h-5.64zM204.30 444.52h5.64v1.55h-5.64zM204.30 453.84h5.64v1.55h-5.64zM209.94 295.42h5.64v1.55h-5.64zM209.94 304.74h5.64v1.55h-5.64zM209.94 320.27h5.64v1.55h-5.64zM209.94 335.80h5.64v1.55h-5.64zM209.94 391.72h5.64v3.11h-5.64zM209.94 396.38h5.64v1.55h-5.64zM209.94 404.14h5.64v1.55h-5.64zM209.94 428.99h5.64v1.55h-5.64zM209.94 441.42h5.64v1.55h-5.64zM209.94 450.73h5.64v1.55h-5.64zM215.58 245.72h5.64v1.55h-5.64zM215.58 270.57h5.64v3.11h-5.64zM215.58 371.52h5.64v3.11h-5.64zM215.58 383.95h5.64v1.55h-5.64zM215.58 387.06h5.64v1.55h-5.64zM215.58 390.16h5.64v1.55h-5.64zM215.58 394.82h5.64v1.55h-5.64zM215.58 404.14h5.64v1.55h-5.64zM215.58 422.78h5.64v1.55h-5.64zM215.58 427.44h5.64v1.55h-5.64zM215.58 446.08h5.64v1.55h-5.64zM221.22 383.95h5.64v1.55h-5.64zM221.22 390.16h5.64v1.55h-5.64zM221.22 394.82h5.64v1.55h-5.64zM221.22 405.69h5.64v1.55h-5.64zM221.22 415.01h5.64v1.55h-5.64zM221.22 419.67h5.64v1.55h-5.64zM221.22 425.88h5.64v1.55h-5.64zM226.86 301.63h5.64v1.55h-5.64zM226.86 374.63h5.64v1.55h-5.64zM226.86 377.74h5.64v1.55h-5.64zM226.86 415.01h5.64v1.55h-5.64zM226.86 424.33h5.64v1.55h-5.64zM226.86 433.65h5.64v1.55h-5.64zM226.86 441.42h5.64v1.55h-5.64zM226.86 455.39h5.64v1.55h-5.64zM232.50 402.59h5.64v1.55h-5.64zM232.50 411.91h5.64v1.55h-5.64zM232.50 419.67h5.64v1.55h-5.64zM232.50 427.44h5.64v1.55h-5.64zM232.50 432.10h5.64v1.55h-5.64zM232.50 436.76h5.64v1.55h-5.64zM232.50 444.52h5.64v1.55h-5.64zM238.14 298.53h5.64v1.55h-5.64zM238.14 419.67h5.64v1.55h-5.64zM238.14 424.33h5.64v1.55h-5.64zM238.14 432.10h5.64v1.55h-5.64zM238.14 435.20h5.64v1.55h-5.64zM238.14 438.31h5.64v1.55h-5.64zM238.14 449.18h5.64v1.55h-5.64zM238.14 455.39h5.64v1.55h-5.64zM243.78 228.64h5.64v1.55h-5.64zM243.78 233.30h5.64v1.55h-5.64zM243.78 259.70h5.64v1.55h-5.64zM243.78 265.91h5.64v1.55h-5.64zM243.78 270.57h5.64v1.55h-5.64zM243.78 278.34h5.64v1.55h-5.64zM243.78 307.85h5.64v1.55h-5.64zM243.78 320.27h5.64v1.55h-5.64zM243.78 326.48h5.64v1.55h-5.64zM243.78 362.21h5.64v1.55h-5.64zM243.78 368.42h5.64v1.55h-5.64zM243.78 373.08h5.64v1.55h-5.64zM243.78 379.29h5.64v1.55h-5.64zM243.78 383.95h5.64v1.55h-5.64zM243.78 394.82h5.64v1.55h-5.64zM243.78 397.93h5.64v1.55h-5.64zM243.78 408.80h5.64v1.55h-5.64zM243.78 450.73h5.64v1.55h-5.64zM249.42 220.87h5.64v1.55h-5.64zM249.42 241.06h5.64v1.55h-5.64zM249.42 270.57h5.64v1.55h-5.64zM249.42 338.91h5.64v1.55h-5.64zM249.42 374.63h5.64v1.55h-5.64zM249.42 377.74h5.64v1.55h-5.64zM249.42 380.84h5.64v1.55h-5.64zM249.42 387.06h5.64v1.55h-5.64zM249.42 401.03h5.64v1.55h-5.64zM249.42 411.91h5.64v1.55h-5.64zM249.42 415.01h5.64v1.55h-5.64zM249.42 422.78h5.64v1.55h-5.64zM249.42 447.63h5.64v1.55h-5.64zM249.42 453.84h5.64v1.55h-5.64zM255.06 211.55h5.64v1.55h-5.64zM255.06 217.77h5.64v3.11h-5.64zM255.06 251.93h5.64v1.55h-5.64zM255.06 259.70h5.64v1.55h-5.64zM255.06 264.36h5.64v1.55h-5.64zM255.06 272.12h5.64v1.55h-5.64zM255.06 281.44h5.64v1.55h-5.64zM255.06 346.68h5.64v1.55h-5.64zM255.06 362.21h5.64v1.55h-5.64zM255.06 371.52h5.64v1.55h-5.64zM255.06 379.29h5.64v3.11h-5.64zM255.06 396.38h5.64v1.55h-5.64zM255.06 411.91h5.64v1.55h-5.64zM255.06 415.01h5.64v3.11h-5.64zM255.06 425.88h5.64v1.55h-5.64zM260.70 270.57h5.64v1.55h-5.64zM260.70 275.23h5.64v1.55h-5.64zM260.70 377.74h5.64v1.55h-5.64zM260.70 383.95h5.64v1.55h-5.64zM260.70 404.14h5.64v1.55h-5.64zM260.70 413.46h5.64v4.66h-5.64zM260.70 424.33h5.64v1.55h-5.64zM266.34 225.53h5.64v1.55h-5.64zM266.34 236.40h5.64v1.55h-5.64zM266.34 248.83h5.64v1.55h-5.64zM266.34 251.93h5.64v1.55h-5.64zM266.34 275.23h5.64v1.55h-5.64zM266.34 284.55h5.64v1.55h-5.64zM266.34 287.66h5.64v1.55h-5.64zM266.34 290.76h5.64v1.55h-5.64zM266.34 296.98h5.64v1.55h-5.64zM266.34 306.29h5.64v1.55h-5.64zM266.34 309.40h5.64v1.55h-5.64zM266.34 312.51h5.64v1.55h-5.64zM266.34 328.04h5.64v1.55h-5.64zM266.34 342.02h5.64v1.55h-5.64zM266.34 357.55h5.64v1.55h-5.64zM266.34 413.46h5.64v1.55h-5.64zM271.98 213.11h5.64v1.55h-5.64zM271.98 227.08h5.64v1.55h-5.64zM271.98 255.04h5.64v1.55h-5.64zM271.98 264.36h5.64v3.11h-5.64zM271.98 270.57h5.64v1.55h-5.64zM271.98 273.68h5.64v1.55h-5.64zM271.98 279.89h5.64v6.21h-5.64zM271.98 290.76h5.64v1.55h-5.64zM271.98 298.53h5.64v3.11h-5.64zM271.98 312.51h5.64v1.55h-5.64zM271.98 324.93h5.64v1.55h-5.64zM271.98 334.25h5.64v1.55h-5.64zM271.98 342.02h5.64v1.55h-5.64zM271.98 355.99h5.64v3.11h-5.64zM271.98 402.59h5.64v1.55h-5.64zM277.62 210.00h5.64v1.55h-5.64zM277.62 214.66h5.64v3.11h-5.64zM277.62 222.43h5.64v1.55h-5.64zM277.62 262.81h5.64v1.55h-5.64zM277.62 265.91h5.64v3.11h-5.64zM277.62 273.68h5.64v1.55h-5.64zM277.62 278.34h5.64v1.55h-5.64zM277.62 281.44h5.64v1.55h-5.64zM277.62 317.17h5.64v1.55h-5.64zM277.62 328.04h5.64v1.55h-5.64zM277.62 357.55h5.64v1.55h-5.64zM277.62 379.29h5.64v1.55h-5.64zM277.62 408.80h5.64v1.55h-5.64zM283.26 213.11h5.64v1.55h-5.64zM283.26 216.21h5.64v1.55h-5.64zM283.26 223.98h5.64v1.55h-5.64zM283.26 242.62h5.64v1.55h-5.64zM283.26 258.15h5.64v1.55h-5.64zM283.26 293.87h5.64v1.55h-5.64zM283.26 298.53h5.64v1.55h-5.64zM283.26 304.74h5.64v1.55h-5.64zM283.26 307.85h5.64v1.55h-5.64zM283.26 315.61h5.64v1.55h-5.64zM283.26 320.27h5.64v3.11h-5.64zM283.26 326.48h5.64v1.55h-5.64zM283.26 329.59h5.64v1.55h-5.64zM283.26 335.80h5.64v1.55h-5.64zM283.26 342.02h5.64v1.55h-5.64zM283.26 362.21h5.64v1.55h-5.64zM283.26 379.29h5.64v1.55h-5.64zM283.26 394.82h5.64v1.55h-5.64zM283.26 444.52h5.64v1.55h-5.64zM283.26 453.84h5.64v1.55h-5.64zM288.90 222.43h5.64v1.55h-5.64zM288.90 228.64h5.64v1.55h-5.64zM288.90 237.96h5.64v1.55h-5.64zM288.90 258.15h5.64v1.55h-5.64zM288.90 264.36h5.64v3.11h-5.64zM288.90 278.34h5.64v1.55h-5.64zM288.90 283.00h5.64v1.55h-5.64zM288.90 298.53h5.64v1.55h-5.64zM288.90 310.95h5.64v6.21h-5.64zM288.90 320.27h5.64v1.55h-5.64zM288.90 335.80h5.64v1.55h-5.64zM288.90 359.10h5.64v1.55h-5.64zM288.90 388.61h5.64v3.11h-5.64zM288.90 449.18h5.64v1.55h-5.64zM294.54 227.08h5.64v1.55h-5.64zM294.54 244.17h5.64v1.55h-5.64zM294.54 255.04h5.64v1.55h-5.64zM294.54 258.15h5.64v1.55h-5.64zM294.54 269.02h5.64v1.55h-5.64zM294.54 276.78h5.64v1.55h-5.64zM294.54 287.66h5.64v1.55h-5.64zM294.54 321.82h5.64v1.55h-5.64zM294.54 326.48h5.64v3.11h-5.64zM294.54 342.02h5.64v1.55h-5.64zM294.54 345.12h5.64v1.55h-5.64zM294.54 368.42h5.64v1.55h-5.64zM300.18 273.68h5.64v1.55h-5.64zM300.18 362.21h5.64v1.55h-5.64zM300.18 453.84h5.64v1.55h-5.64zM305.82 213.11h5.64v1.55h-5.64zM305.82 234.85h5.64v1.55h-5.64zM305.82 269.02h5.64v1.55h-5.64zM305.82 287.66h5.64v1.55h-5.64zM305.82 290.76h5.64v3.11h-5.64zM305.82 306.29h5.64v1.55h-5.64zM305.82 320.27h5.64v1.55h-5.64zM305.82 323.38h5.64v1.55h-5.64zM305.82 329.59h5.64v1.55h-5.64zM305.82 335.80h5.64v1.55h-5.64zM305.82 357.55h5.64v3.11h-5.64zM305.82 362.21h5.64v1.55h-5.64zM305.82 366.87h5.64v1.55h-5.64zM305.82 387.06h5.64v3.11h-5.64zM305.82 415.01h5.64v1.55h-5.64zM311.46 210.00h5.64v1.55h-5.64zM311.46 217.77h5.64v3.11h-5.64zM311.46 227.08h5.64v1.55h-5.64zM311.46 245.72h5.64v3.11h-5.64zM311.46 253.49h5.64v1.55h-5.64zM311.46 278.34h5.64v1.55h-5.64zM311.46 303.19h5.64v1.55h-5.64zM311.46 323.38h5.64v1.55h-5.64zM311.46 332.70h5.64v1.55h-5.64zM311.46 354.44h5.64v1.55h-5.64zM311.46 366.87h5.64v1.55h-5.64zM311.46 371.52h5.64v1.55h-5.64zM311.46 379.29h5.64v1.55h-5.64zM311.46 385.50h5.64v1.55h-5.64zM311.46 393.27h5.64v1.55h-5.64zM311.46 428.99h5.64v1.55h-5.64zM311.46 442.97h5.64v1.55h-5.64zM317.10 214.66h5.64v1.55h-5.64zM317.10 236.40h5.64v1.55h-5.64zM317.10 241.06h5.64v1.55h-5.64zM317.10 253.49h5.64v1.55h-5.64zM317.10 256.59h5.64v1.55h-5.64zM317.10 281.44h5.64v1.55h-5.64zM317.10 296.98h5.64v4.66h-5.64zM317.10 306.29h5.64v1.55h-5.64zM317.10 329.59h5.64v1.55h-5.64zM317.10 340.46h5.64v1.55h-5.64zM317.10 346.68h5.64v1.55h-5.64zM317.10 349.78h5.64v1.55h-5.64zM317.10 369.97h5.64v1.55h-5.64zM317.10 387.06h5.64v1.55h-5.64zM317.10 391.72h5.64v1.55h-5.64zM317.10 396.38h5.64v1.55h-5.64zM317.10 421.23h5.64v1.55h-5.64zM322.74 210.00h5.64v4.66h-5.64zM322.74 219.32h5.64v1.55h-5.64zM322.74 225.53h5.64v1.55h-5.64zM322.74 230.19h5.64v1.55h-5.64zM322.74 236.40h5.64v1.55h-5.64zM322.74 242.62h5.64v1.55h-5.64zM322.74 253.49h5.64v1.55h-5.64zM322.74 256.59h5.64v1.55h-5.64zM322.74 279.89h5.64v1.55h-5.64zM322.74 289.21h5.64v3.11h-5.64zM322.74 298.53h5.64v1.55h-5.64zM322.74 301.63h5.64v1.55h-5.64zM322.74 343.57h5.64v1.55h-5.64zM322.74 346.68h5.64v1.55h-5.64zM322.74 360.65h5.64v1.55h-5.64zM322.74 449.18h5.64v1.55h-5.64zM328.40 214.66h6.50v1.55h-6.50zM328.40 220.87h6.50v1.55h-6.50zM328.40 228.64h6.50v3.11h-6.50zM328.40 241.06h6.50v1.55h-6.50zM328.40 244.17h6.50v1.55h-6.50zM328.40 307.85h6.50v1.55h-6.50zM328.40 323.38h6.50v1.55h-6.50zM328.40 345.12h6.50v1.55h-6.50zM328.40 349.78h6.50v1.55h-6.50zM328.40 359.10h6.50v1.55h-6.50zM328.40 371.52h6.50v1.55h-6.50zM328.40 385.50h6.50v1.55h-6.50zM328.40 410.35h6.50v1.55h-6.50zM328.40 415.01h6.50v1.55h-6.50zM328.40 438.31h6.50v1.55h-6.50z"/>
<path fill="#ffe800" d="M91.50 234.85h5.64v1.55h-5.64zM91.50 324.93h5.64v1.55h-5.64zM91.50 377.74h5.64v3.11h-5.64zM91.50 382.40h5.64v1.55h-5.64zM91.50 390.16h5.64v1.55h-5.64zM91.50 396.38h5.64v1.55h-5.64zM91.50 402.59h5.64v1.55h-5.64zM91.50 405.69h5.64v1.55h-5.64zM91.50 415.01h5.64v1.55h-5.64zM91.50 418.12h5.64v3.11h-5.64zM91.50 444.52h5.64v1.55h-5.64zM91.50 450.73h5.64v1.55h-5.64zM91.50 453.84h5.64v1.55h-5.64zM97.14 223.98h5.64v3.11h-5.64zM97.14 241.06h5.64v1.55h-5.64zM97.14 278.34h5.64v1.55h-5.64zM97.14 301.63h5.64v1.55h-5.64zM97.14 317.17h5.64v1.55h-5.64zM97.14 320.27h5.64v1.55h-5.64zM97.14 328.04h5.64v1.55h-5.64zM97.14 331.14h5.64v1.55h-5.64zM97.14 337.36h5.64v6.21h-5.64zM97.14 348.23h5.64v1.55h-5.64zM97.14 355.99h5.64v1.55h-5.64zM97.14 360.65h5.64v1.55h-5.64zM97.14 368.42h5.64v1.55h-5.64zM97.14 371.52h5.64v1.55h-5.64zM97.14 382.40h5.64v3.11h-5.64zM97.14 391.72h5.64v1.55h-5.64zM97.14 402.59h5.64v1.55h-5.64zM97.14 413.46h5.64v1.55h-5.64zM97.14 418.12h5.64v1.55h-5.64zM97.14 432.10h5.64v1.55h-5.64zM102.78 214.66h5.64v1.55h-5.64zM102.78 217.77h5.64v1.55h-5.64zM102.78 225.53h5.64v3.11h-5.64zM102.78 233.30h5.64v1.55h-5.64zM102.78 247.28h5.64v1.55h-5.64zM102.78 250.38h5.64v1.55h-5.64zM102.78 253.49h5.64v1.55h-5.64zM102.78 259.70h5.64v4.66h-5.64zM102.78 269.02h5.64v1.55h-5.64zM102.78 303.19h5.64v1.55h-5.64zM102.78 373.08h5.64v1.55h-5.64zM102.78 393.27h5.64v1.55h-5.64zM102.78 452.29h5.64v3.11h-5.64zM108.42 223.98h5.64v1.55h-5.64zM108.42 228.64h5.64v4.66h-5.64zM108.42 236.40h5.64v1.55h-5.64zM108.42 253.49h5.64v1.55h-5.64zM108.42 264.36h5.64v1.55h-5.64zM108.42 267.47h5.64v1.55h-5.64zM108.42 273.68h5.64v1.55h-5.64zM108.42 279.89h5.64v1.55h-5.64zM108.42 371.52h5.64v1.55h-5.64zM108.42 379.29h5.64v3.11h-5.64zM108.42 385.50h5.64v1.55h-5.64zM108.42 416.57h5.64v1.55h-5.64zM108.42 419.67h5.64v3.11h-5.64zM108.42 424.33h5.64v1.55h-5.64zM108.42 432.10h5.64v1.55h-5.64zM108.42 452.29h5.64v1.55h-5.64zM114.06 219.32h5.64v1.55h-5.64zM114.06 415.01h5.64v1.55h-5.64zM114.06 418.12h5.64v1.55h-5.64zM114.06 424.33h5.64v1.55h-5.64zM114.06 456.95h5.64v1.55h-5.64zM119.70 368.42h5.64v1.55h-5.64zM119.70 376.18h5.64v1.55h-5.64zM119.70 391.72h5.64v1.55h-5.64zM119.70 394.82h5.64v3.11h-5.64zM119.70 399.48h5.64v1.55h-5.64zM119.70 408.80h5.64v3.11h-5.64zM119.70 413.46h5.64v1.55h-5.64zM119.70 416.57h5.64v3.11h-5.64zM119.70 441.42h5.64v3.11h-5.64zM119.70 447.63h5.64v1.55h-5.64zM125.34 216.21h5.64v1.55h-5.64zM125.34 220.87h5.64v3.11h-5.64zM125.34 228.64h5.64v1.55h-5.64zM125.34 237.96h5.64v3.11h-5.64zM125.34 244.17h5.64v6.21h-5.64zM125.34 258.15h5.64v3.11h-5.64zM125.34 265.91h5.64v1.55h-5.64zM125.34 281.44h5.64v1.55h-5.64zM125.34 306.29h5.64v1.55h-5.64zM125.34 320.27h5.64v1.55h-5.64zM125.34 362.21h5.64v1.55h-5.64zM125.34 387.06h5.64v1.55h-5.64zM125.34 407.25h5.64v1.55h-5.64zM125.34 425.88h5.64v1.55h-5.64zM125.34 435.20h5.64v1.55h-5.64zM125.34 453.84h5.64v1.55h-5.64zM130.98 216.21h5.64v1.55h-5.64zM130.98 230.19h5.64v1.55h-5.64zM130.98 262.81h5.64v1.55h-5.64zM130.98 270.57h5.64v1.55h-5.64zM130.98 278.34h5.64v1.55h-5.64zM130.98 401.03h5.64v1.55h-5.64zM130.98 405.69h5.64v1.55h-5.64zM130.98 413.46h5.64v1.55h-5.64zM130.98 421.23h5.64v1.55h-5.64zM130.98 425.88h5.64v1.55h-5.64zM130.98 447.63h5.64v1.55h-5.64zM136.62 293.87h5.64v1.55h-5.64zM136.62 391.72h5.64v1.55h-5.64zM136.62 407.25h5.64v1.55h-5.64zM136.62 419.67h5.64v3.11h-5.64zM136.62 425.88h5.64v1.55h-5.64zM136.62 430.54h5.64v1.55h-5.64zM142.26 227.08h5.64v1.55h-5.64zM142.26 245.72h5.64v1.55h-5.64zM142.26 276.78h5.64v1.55h-5.64zM142.26 342.02h5.64v1.55h-5.64zM142.26 379.29h5.64v4.66h-5.64zM142.26 387.06h5.64v3.11h-5.64zM142.26 415.01h5.64v1.55h-5.64zM142.26 419.67h5.64v1.55h-5.64zM142.26 427.44h5.64v1.55h-5.64zM142.26 432.10h5.64v1.55h-5.64zM142.26 438.31h5.64v1.55h-5.64zM142.26 446.08h5.64v3.11h-5.64zM147.90 210.00h5.64v1.55h-5.64zM147.90 227.08h5.64v1.55h-5.64zM147.90 230.19h5.64v1.55h-5.64zM147.90 255.04h5.64v1.55h-5.64zM147.90 261.25h5.64v1.55h-5.64zM147.90 276.78h5.64v1.55h-5.64zM147.90 379.29h5.64v1.55h-5.64zM147.90 394.82h5.64v1.55h-5.64zM147.90 401.03h5.64v1.55h-5.64zM147.90 405.69h5.64v1.55h-5.64zM147.90 408.80h5.64v1.55h-5.64zM147.90 415.01h5.64v1.55h-5.64zM147.90 424.33h5.64v1.55h-5.64zM147.90 427.44h5.64v1.55h-5.64zM147.90 433.65h5.64v1.55h-5.64zM147.90 455.39h5.64v1.55h-5.64zM153.54 223.98h5.64v3.11h-5.64zM153.54 228.64h5.64v1.55h-5.64zM153.54 233.30h5.64v1.55h-5.64zM153.54 265.91h5.64v1.55h-5.64zM153.54 269.02h5.64v1.55h-5.64zM153.54 276.78h5.64v1.55h-5.64zM153.54 286.10h5.64v1.55h-5.64zM153.54 385.50h5.64v1.55h-5.64zM153.54 390.16h5.64v1.55h-5.64zM153.54 393.27h5.64v1.55h-5.64zM153.54 402.59h5.64v1.55h-5.64zM153.54 408.80h5.64v1.55h-5.64zM153.54 424.33h5.64v1.55h-5.64zM153.54 433.65h5.64v1.55h-5.64zM159.18 213.11h5.64v1.55h-5.64zM159.18 219.32h5.64v1.55h-5.64zM159.18 231.74h5.64v1.55h-5.64zM159.18 236.40h5.64v1.55h-5.64zM159.18 241.06h5.64v1.55h-5.64zM159.18 245.72h5.64v1.55h-5.64zM159.18 259.70h5.64v1.55h-5.64zM159.18 264.36h5.64v1.55h-5.64zM159.18 272.12h5.64v3.11h-5.64zM159.18 281.44h5.64v1.55h-5.64zM159.18 293.87h5.64v3.11h-5.64zM159.18 318.72h5.64v3.11h-5.64zM159.18 328.04h5.64v3.11h-5.64zM159.18 335.80h5.64v1.55h-5.64zM159.18 351.33h5.64v1.55h-5.64zM159.18 359.10h5.64v1.55h-5.64zM159.18 363.76h5.64v1.55h-5.64zM159.18 368.42h5.64v3.11h-5.64zM159.18 415.01h5.64v1.55h-5.64zM159.18 422.78h5.64v1.55h-5.64zM164.82 228.64h5.64v1.55h-5.64zM164.82 258.15h5.64v1.55h-5.64zM164.82 270.57h5.64v1.55h-5.64zM164.82 275.23h5.64v1.55h-5.64zM164.82 377.74h5.64v1.55h-5.64zM164.82 380.84h5.64v1.55h-5.64zM164.82 396.38h5.64v1.55h-5.64zM164.82 405.69h5.64v1.55h-5.64zM164.82 413.46h5.64v1.55h-5.64zM164.82 416.57h5.64v1.55h-5.64zM164.82 432.10h5.64v1.55h-5.64zM164.82 436.76h5.64v1.55h-5.64zM164.82 444.52h5.64v1.55h-5.64zM164.82 453.84h5.64v1.55h-5.64zM170.46 223.98h5.64v1.55h-5.64zM170.46 227.08h5.64v1.55h-5.64zM170.46 234.85h5.64v3.11h-5.64zM170.46 239.51h5.64v1.55h-5.64zM170.46 251.93h5.64v3.11h-5.64zM170.46 262.81h5.64v1.55h-5.64zM170.46 265.91h5.64v3.11h-5.64zM170.46 276.78h5.64v1.55h-5.64zM170.46 284.55h5.64v1.55h-5.64zM170.46 300.08h5.64v1.55h-5.64zM170.46 306.29h5.64v1.55h-5.64zM170.46 320.27h5.64v3.11h-5.64zM170.46 385.50h5.64v1.55h-5.64zM170.46 388.61h5.64v1.55h-5.64zM170.46 391.72h5.64v1.55h-5.64zM170.46 444.52h5.64v1.55h-5.64zM176.10 217.77h5.64v1.55h-5.64zM176.10 233.30h5.64v3.11h-5.64zM176.10 241.06h5.64v1.55h-5.64zM176.10 247.28h5.64v1.55h-5.64zM176.10 259.70h5.64v1.55h-5.64zM176.10 269.02h5.64v1.55h-5.64zM176.10 278.34h5.64v3.11h-5.64zM176.10 287.66h5.64v1.55h-5.64zM176.10 296.98h5.64v1.55h-5.64zM176.10 307.85h5.64v1.55h-5.64zM176.10 352.89h5.64v1.55h-5.64zM176.10 411.91h5.64v3.11h-5.64zM176.10 418.12h5.64v1.55h-5.64zM181.74 230.19h5.64v1.55h-5.64zM181.74 242.62h5.64v1.55h-5.64zM181.74 250.38h5.64v1.55h-5.64zM181.74 365.31h5.64v1.55h-5.64zM181.74 373.08h5.64v1.55h-5.64zM181.74 380.84h5.64v1.55h-5.64zM181.74 385.50h5.64v1.55h-5.64zM181.74 391.72h5.64v3.11h-5.64zM181.74 428.99h5.64v1.55h-5.64zM187.38 242.62h5.64v1.55h-5.64zM187.38 270.57h5.64v1.55h-5.64zM187.38 331.14h5.64v1.55h-5.64zM187.38 376.18h5.64v1.55h-5.64zM187.38 396.38h5.64v3.11h-5.64zM187.38 413.46h5.64v1.55h-5.64zM187.38 416.57h5.64v1.55h-5.64zM187.38 419.67h5.64v1.55h-5.64zM187.38 433.65h5.64v1.55h-5.64zM187.38 436.76h5.64v1.55h-5.64zM187.38 439.86h5.64v1.55h-5.64zM187.38 453.84h5.64v1.55h-5.64zM193.02 320.27h5.64v1.55h-5.64zM193.02 418.12h5.64v4.66h-5.64zM193.02 439.86h5.64v1.55h-5.64zM193.02 450.73h5.64v1.55h-5.64zM198.66 210.00h5.64v1.55h-5.64zM198.66 220.87h5.64v1.55h-5.64zM198.66 237.96h5.64v1.55h-5.64zM198.66 242.62h5.64v3.11h-5.64zM198.66 253.49h5.64v1.55h-5.64zM198.66 256.59h5.64v1.55h-5.64zM198.66 262.81h5.64v1.55h-5.64zM198.66 272.12h5.64v1.55h-5.64zM198.66 276.78h5.64v1.55h-5.64zM198.66 290.76h5.64v1.55h-5.64zM198.66 296.98h5.64v1.55h-5.64zM198.66 306.29h5.64v1.55h-5.64zM198.66 310.95h5.64v1.55h-5.64zM198.66 315.61h5.64v1.55h-5.64zM198.66 320.27h5.64v3.11h-5.64zM198.66 331.14h5.64v1.55h-5.64zM198.66 343.57h5.64v1.55h-5.64zM198.66 354.44h5.64v1.55h-5.64zM198.66 374.63h5.64v1.55h-5.64zM198.66 388.61h5.64v1.55h-5.64zM198.66 401.03h5.64v1.55h-5.64zM198.66 421.23h5.64v1.55h-5.64zM204.30 377.74h5.64v1.55h-5.64zM204.30 380.84h5.64v1.55h-5.64zM204.30 394.82h5.64v1.55h-5.64zM204.30 411.91h5.64v3.11h-5.64zM204.30 419.67h5.64v1.55h-5.64zM204.30 446.08h5.64v3.11h-5.64zM204.30 450.73h5.64v3.11h-5.64zM204.30 456.95h5.64v1.55h-5.64zM209.94 296.98h5.64v1.55h-5.64zM209.94 374.63h5.64v3.11h-5.64zM209.94 380.84h5.64v1.55h-5.64zM209.94 385.50h5.64v1.55h-5.64zM209.94 390.16h5.64v1.55h-5.64zM209.94 402.59h5.64v1.55h-5.64zM209.94 405.69h5.64v1.55h-5.64zM209.94 418.12h5.64v1.55h-5.64zM209.94 438.31h5.64v3.11h-5.64zM215.58 213.11h5.64v1.55h-5.64zM215.58 216.21h5.64v3.11h-5.64zM215.58 234.85h5.64v1.55h-5.64zM215.58 253.49h5.64v1.55h-5.64zM215.58 264.36h5.64v1.55h-5.64zM215.58 388.61h5.64v1.55h-5.64zM215.58 391.72h5.64v1.55h-5.64zM215.58 399.48h5.64v1.55h-5.64zM215.58 402.59h5.64v1.55h-5.64zM215.58 408.80h5.64v1.55h-5.64zM215.58 411.91h5.64v1.55h-5.64zM215.58 416.57h5.64v1.55h-5.64zM215.58 421.23h5.64v1.55h-5.64zM215.58 424.33h5.64v3.11h-5.64zM215.58 433.65h5.64v1.55h-5.64zM221.22 329.59h5.64v1.55h-5.64zM221.22 407.25h5.64v1.55h-5.64zM221.22 413.46h5.64v1.55h-5.64zM221.22 433.65h5.64v3.11h-5.64zM221.22 442.97h5.64v1.55h-5.64zM226.86 405.69h5.64v1.55h-5.64zM226.86 410.35h5.64v1.55h-5.64zM226.86 425.88h5.64v1.55h-5.64zM226.86 435.20h5.64v4.66h-5.64zM226.86 442.97h5.64v1.55h-5.64zM226.86 447.63h5.64v3.11h-5.64zM226.86 452.29h5.64v1.55h-5.64zM232.50 236.40h5.64v1.55h-5.64zM232.50 239.51h5.64v1.55h-5.64zM232.50 323.38h5.64v1.55h-5.64zM232.50 404.14h5.64v1.55h-5.64zM232.50 418.12h5.64v1.55h-5.64zM232.50 446.08h5.64v3.11h-5.64zM238.14 408.80h5.64v1.55h-5.64zM238.14 422.78h5.64v1.55h-5.64zM238.14 442.97h5.64v3.11h-5.64zM238.14 447.63h5.64v1.55h-5.64zM243.78 216.21h5.64v1.55h-5.64zM243.78 231.74h5.64v1.55h-5.64zM243.78 248.83h5.64v1.55h-5.64zM243.78 258.15h5.64v1.55h-5.64zM243.78 275.23h5.64v1.55h-5.64zM243.78 279.89h5.64v1.55h-5.64zM243.78 286.10h5.64v1.55h-5.64zM243.78 290.76h5.64v1.55h-5.64zM243.78 300.08h5.64v1.55h-5.64zM243.78 303.19h5.64v1.55h-5.64zM243.78 310.95h5.64v1.55h-5.64zM243.78 321.82h5.64v1.55h-5.64zM243.78 331.14h5.64v1.55h-5.64zM243.78 335.80h5.64v1.55h-5.64zM243.78 348.23h5.64v1.55h-5.64zM243.78 352.89h5.64v1.55h-5.64zM243.78 385.50h5.64v3.11h-5.64zM243.78 404.14h5.64v1.55h-5.64zM243.78 410.35h5.64v1.55h-5.64zM243.78 415.01h5.64v1.55h-5.64zM243.78 418.12h5.64v1.55h-5.64zM243.78 425.88h5.64v1.55h-5.64zM243.78 430.54h5.64v1.55h-5.64zM243.78 453.84h5.64v1.55h-5.64zM249.42 222.43h5.64v1.55h-5.64zM249.42 236.40h5.64v1.55h-5.64zM249.42 242.62h5.64v1.55h-5.64zM249.42 272.12h5.64v1.55h-5.64zM249.42 354.44h5.64v1.55h-5.64zM249.42 376.18h5.64v1.55h-5.64zM249.42 388.61h5.64v1.55h-5.64zM249.42 391.72h5.64v1.55h-5.64zM249.42 404.14h5.64v1.55h-5.64zM249.42 408.80h5.64v3.11h-5.64zM249.42 413.46h5.64v1.55h-5.64zM249.42 444.52h5.64v1.55h-5.64zM249.42 456.95h5.64v1.55h-5.64zM255.06 210.00h5.64v1.55h-5.64zM255.06 227.08h5.64v4.66h-5.64zM255.06 234.85h5.64v1.55h-5.64zM255.06 239.51h5.64v1.55h-5.64zM255.06 247.28h5.64v1.55h-5.64zM255.06 253.49h5.64v1.55h-5.64zM255.06 267.47h5.64v1.55h-5.64zM255.06 320.27h5.64v1.55h-5.64zM255.06 373.08h5.64v3.11h-5.64zM255.06 390.16h5.64v1.55h-5.64zM255.06 405.69h5.64v1.55h-5.64zM255.06 413.46h5.64v1.55h-5.64zM255.06 447.63h5.64v1.55h-5.64zM260.70 237.96h5.64v1.55h-5.64zM260.70 262.81h5.64v1.55h-5.64zM260.70 281.44h5.64v1.55h-5.64zM260.70 295.42h5.64v1.55h-5.64zM260.70 320.27h5.64v1.55h-5.64zM260.70 373.08h5.64v1.55h-5.64zM260.70 376.18h5.64v1.55h-5.64zM260.70 379.29h5.64v3.11h-5.64zM260.70 390.16h5.64v3.11h-5.64zM260.70 402.59h5.64v1.55h-5.64zM260.70 410.35h5.64v1.55h-5.64zM260.70 422.78h5.64v1.55h-5.64zM260.70 427.44h5.64v1.55h-5.64zM260.70 436.76h5.64v1.55h-5.64zM260.70 444.52h5.64v1.55h-5.64zM260.70 456.95h5.64v1.55h-5.64zM266.34 213.11h5.64v1.55h-5.64zM266.34 219.32h5.64v1.55h-5.64zM266.34 230.19h5.64v1.55h-5.64zM266.34 321.82h5.64v1.55h-5.64zM266.34 338.91h5.64v3.11h-5.64zM266.34 345.12h5.64v1.55h-5.64zM266.34 397.93h5.64v1.55h-5.64zM271.98 217.77h5.64v3.11h-5.64zM271.98 222.43h5.64v1.55h-5.64zM271.98 241.06h5.64v4.66h-5.64zM271.98 253.49h5.64v1.55h-5.64zM271.98 269.02h5.64v1.55h-5.64zM271.98 286.10h5.64v1.55h-5.64zM271.98 292.32h5.64v1.55h-5.64zM271.98 304.74h5.64v3.11h-5.64zM271.98 314.06h5.64v1.55h-5.64zM271.98 318.72h5.64v3.11h-5.64zM271.98 328.04h5.64v1.55h-5.64zM271.98 332.70h5.64v1.55h-5.64zM271.98 351.33h5.64v1.55h-5.64zM271.98 359.10h5.64v1.55h-5.64zM271.98 362.21h5.64v1.55h-5.64zM271.98 365.31h5.64v1.55h-5.64zM271.98 369.97h5.64v1.55h-5.64zM271.98 391.72h5.64v1.55h-5.64zM271.98 401.03h5.64v1.55h-5.64zM271.98 413.46h5.64v1.55h-5.64zM271.98 436.76h5.64v1.55h-5.64zM277.62 223.98h5.64v4.66h-5.64zM277.62 233.30h5.64v1.55h-5.64zM277.62 236.40h5.64v1.55h-5.64zM277.62 245.72h5.64v1.55h-5.64zM277.62 256.59h5.64v3.11h-5.64zM277.62 264.36h5.64v1.55h-5.64zM277.62 270.57h5.64v1.55h-5.64zM277.62 276.78h5.64v1.55h-5.64zM277.62 279.89h5.64v1.55h-5.64zM277.62 292.32h5.64v1.55h-5.64zM277.62 300.08h5.64v1.55h-5.64zM277.62 304.74h5.64v1.55h-5.64zM277.62 320.27h5.64v1.55h-5.64zM277.62 348.23h5.64v3.11h-5.64zM277.62 363.76h5.64v1.55h-5.64zM277.62 366.87h5.64v1.55h-5.64zM277.62 396.38h5.64v1.55h-5.64zM277.62 399.48h5.64v3.11h-5.64zM277.62 404.14h5.64v1.55h-5.64zM283.26 214.66h5.64v1.55h-5.64zM283.26 219.32h5.64v1.55h-5.64zM283.26 230.19h5.64v3.11h-5.64zM283.26 234.85h5.64v1.55h-5.64zM283.26 237.96h5.64v1.55h-5.64zM283.26 248.83h5.64v1.55h-5.64zM283.26 264.36h5.64v1.55h-5.64zM283.26 269.02h5.64v1.55h-5.64zM283.26 276.78h5.64v1.55h-5.64zM283.26 281.44h5.64v1.55h-5.64zM283.26 289.21h5.64v1.55h-5.64zM283.26 292.32h5.64v1.55h-5.64zM283.26 295.42h5.64v3.11h-5.64zM283.26 301.63h5.64v1.55h-5.64zM283.26 309.40h5.64v4.66h-5.64zM283.26 318.72h5.64v1.55h-5.64zM283.26 331.14h5.64v1.55h-5.64zM283.26 334.25h5.64v1.55h-5.64zM283.26 337.36h5.64v1.55h-5.64zM283.26 340.46h5.64v1.55h-5.64zM283.26 354.44h5.64v3.11h-5.64zM283.26 359.10h5.64v1.55h-5.64zM283.26 366.87h5.64v1.55h-5.64zM283.26 369.97h5.64v1.55h-5.64zM283.26 404.14h5.64v3.11h-5.64zM283.26 422.78h5.64v1.55h-5.64zM283.26 430.54h5.64v1.55h-5.64zM288.90 214.66h5.64v1.55h-5.64zM288.90 220.87h5.64v1.55h-5.64zM288.90 225.53h5.64v1.55h-5.64zM288.90 233.30h5.64v1.55h-5.64zM288.90 241.06h5.64v1.55h-5.64zM288.90 244.17h5.64v1.55h-5.64zM288.90 256.59h5.64v1.55h-5.64zM288.90 270.57h5.64v1.55h-5.64zM288.90 279.89h5.64v1.55h-5.64zM288.90 284.55h5.64v1.55h-5.64zM288.90 287.66h5.64v1.55h-5.64zM288.90 295.42h5.64v3.11h-5.64zM288.90 306.29h5.64v1.55h-5.64zM288.90 318.72h5.64v1.55h-5.64zM288.90 323.38h5.64v1.55h-5.64zM288.90 328.04h5.64v3.11h-5.64zM288.90 334.25h5.64v1.55h-5.64zM288.90 340.46h5.64v1.55h-5.64zM288.90 343.57h5.64v1.55h-5.64zM288.90 348.23h5.64v1.55h-5.64zM288.90 357.55h5.64v1.55h-5.64zM288.90 363.76h5.64v1.55h-5.64zM288.90 383.95h5.64v1.55h-5.64zM288.90 446.08h5.64v1.55h-5.64zM294.54 219.32h5.64v3.11h-5.64zM294.54 223.98h5.64v1.55h-5.64zM294.54 239.51h5.64v1.55h-5.64zM294.54 250.38h5.64v1.55h-5.64zM294.54 281.44h5.64v1.55h-5.64zM294.54 290.76h5.64v1.55h-5.64zM294.54 295.42h5.64v1.55h-5.64zM294.54 300.08h5.64v4.66h-5.64zM294.54 306.29h5.64v1.55h-5.64zM294.54 323.38h5.64v1.55h-5.64zM294.54 343.57h5.64v1.55h-5.64zM294.54 349.78h5.64v1.55h-5.64zM294.54 355.99h5.64v3.11h-5.64zM294.54 366.87h5.64v1.55h-5.64zM294.54 369.97h5.64v1.55h-5.64zM294.54 404.14h5.64v1.55h-5.64zM300.18 213.11h5.64v1.55h-5.64zM300.18 225.53h5.64v1.55h-5.64zM300.18 233.30h5.64v1.55h-5.64zM300.18 255.04h5.64v1.55h-5.64zM300.18 267.47h5.64v1.55h-5.64zM300.18 270.57h5.64v1.55h-5.64zM300.18 310.95h5.64v1.55h-5.64zM300.18 323.38h5.64v1.55h-5.64zM300.18 371.52h5.64v1.55h-5.64zM300.18 402.59h5.64v1.55h-5.64zM305.82 211.55h5.64v1.55h-5.64zM305.82 216.21h5.64v1.55h-5.64zM305.82 228.64h5.64v1.55h-5.64zM305.82 255.04h5.64v3.11h-5.64zM305.82 278.34h5.64v1.55h-5.64zM305.82 286.10h5.64v1.55h-5.64zM305.82 309.40h5.64v1.55h-5.64zM305.82 314.06h5.64v1.55h-5.64zM305.82 331.14h5.64v1.55h-5.64zM305.82 340.46h5.64v1.55h-5.64zM305.82 355.99h5.64v1.55h-5.64zM305.82 360.65h5.64v1.55h-5.64zM305.82 408.80h5.64v1.55h-5.64zM305.82 442.97h5.64v1.55h-5.64zM311.46 211.55h5.64v3.11h-5.64zM311.46 220.87h5.64v3.11h-5.64zM311.46 230.19h5.64v1.55h-5.64zM311.46 239.51h5.64v1.55h-5.64zM311.46 251.93h5.64v1.55h-5.64zM311.46 258.15h5.64v1.55h-5.64zM311.46 284.55h5.64v3.11h-5.64zM311.46 329.59h5.64v1.55h-5.64zM311.46 337.36h5.64v1.55h-5.64zM311.46 345.12h5.64v1.55h-5.64zM311.46 359.10h5.64v1.55h-5.64zM311.46 362.21h5.64v3.11h-5.64zM311.46 376.18h5.64v1.55h-5.64zM311.46 380.84h5.64v1.55h-5.64zM311.46 394.82h5.64v1.55h-5.64zM311.46 402.59h5.64v1.55h-5.64zM317.10 213.11h5.64v1.55h-5.64zM317.10 217.77h5.64v1.55h-5.64zM317.10 223.98h5.64v1.55h-5.64zM317.10 231.74h5.64v1.55h-5.64zM317.10 237.96h5.64v3.11h-5.64zM317.10 247.28h5.64v1.55h-5.64zM317.10 251.93h5.64v1.55h-5.64zM317.10 264.36h5.64v1.55h-5.64zM317.10 272.12h5.64v1.55h-5.64zM317.10 309.40h5.64v1.55h-5.64zM317.10 315.61h5.64v1.55h-5.64zM317.10 318.72h5.64v1.55h-5.64zM317.10 335.80h5.64v1.55h-5.64zM317.10 354.44h5.64v1.55h-5.64zM317.10 357.55h5.64v1.55h-5.64zM317.10 360.65h5.64v7.77h-5.64zM317.10 377.74h5.64v1.55h-5.64zM317.10 383.95h5.64v3.11h-5.64zM317.10 401.03h5.64v1.55h-5.64zM317.10 405.69h5.64v1.55h-5.64zM317.10 416.57h5.64v3.11h-5.64zM317.10 428.99h5.64v1.55h-5.64zM317.10 441.42h5.64v1.55h-5.64zM317.10 456.95h5.64v1.55h-5.64zM322.74 214.66h5.64v4.66h-5.64zM322.74 227.08h5.64v1.55h-5.64zM322.74 233.30h5.64v1.55h-5.64zM322.74 244.17h5.64v1.55h-5.64zM322.74 250.38h5.64v3.11h-5.64zM322.74 262.81h5.64v1.55h-5.64zM322.74 269.02h5.64v3.11h-5.64zM322.74 286.10h5.64v1.55h-5.64zM322.74 315.61h5.64v3.11h-5.64zM322.74 323.38h5.64v3.11h-5.64zM322.74 331.14h5.64v3.11h-5.64zM322.74 355.99h5.64v1.55h-5.64zM322.74 362.21h5.64v1.55h-5.64zM322.74 371.52h5.64v1.55h-5.64zM322.74 383.95h5.64v1.55h-5.64zM322.74 401.03h5.64v1.55h-5.64zM322.74 410.35h5.64v1.55h-5.64zM328.40 237.96h6.50v3.11h-6.50zM328.40 284.55h6.50v1.55h-6.50zM328.40 309.40h6.50v1.55h-6.50zM328.40 312.51h6.50v1.55h-6.50zM328.40 315.61h6.50v1.55h-6.50zM328.40 320.27h6.50v1.55h-6.50zM328.40 328.04h6.50v1.55h-6.50zM328.40 342.02h6.50v3.11h-6.50zM328.40 355.99h6.50v3.11h-6.50zM328.40 401.03h6.50v1.55h-6.50z"/>
<path fill="#8e90cc" d="M91.50 242.62h5.64v1.55h-5.64zM91.50 245.72h5.64v1.55h-5.64zM91.50 269.02h5.64v1.55h-5.64zM91.50 278.34h5.64v1.55h-5.64zM91.50 300.08h5.64v1.55h-5.64zM91.50 340.46h5.64v1.55h-5.64zM91.50 349.78h5.64v1.55h-5.64zM97.14 276.78h5.64v1.55h-5.64zM97.14 310.95h5.64v1.55h-5.64zM97.14 369.97h5.64v1.55h-5.64zM102.78 258.15h5.64v1.55h-5.64zM102.78 323.38h5.64v3.11h-5.64zM102.78 345.12h5.64v1.55h-5.64zM108.42 220.87h5.64v1.55h-5.64zM108.42 225.53h5.64v1.55h-5.64zM108.42 251.93h5.64v1.55h-5.64zM108.42 289.21h5.64v1.55h-5.64zM108.42 301.63h5.64v1.55h-5.64zM108.42 304.74h5.64v1.55h-5.64zM108.42 324.93h5.64v1.55h-5.64zM114.06 228.64h5.64v1.55h-5.64zM114.06 234.85h5.64v3.11h-5.64zM114.06 242.62h5.64v1.55h-5.64zM114.06 264.36h5.64v1.55h-5.64zM114.06 269.02h5.64v1.55h-5.64zM114.06 272.12h5.64v1.55h-5.64zM114.06 276.78h5.64v1.55h-5.64zM114.06 343.57h5.64v1.55h-5.64zM114.06 348.23h5.64v1.55h-5.64zM114.06 439.86h5.64v1.55h-5.64zM114.06 453.84h5.64v1.55h-5.64zM119.70 213.11h5.64v1.55h-5.64zM119.70 216.21h5.64v1.55h-5.64zM119.70 258.15h5.64v3.11h-5.64zM119.70 272.12h5.64v1.55h-5.64zM119.70 296.98h5.64v1.55h-5.64zM119.70 314.06h5.64v1.55h-5.64zM119.70 329.59h5.64v1.55h-5.64zM119.70 359.10h5.64v1.55h-5.64zM119.70 374.63h5.64v1.55h-5.64zM125.34 264.36h5.64v1.55h-5.64zM125.34 287.66h5.64v1.55h-5.64zM125.34 309.40h5.64v1.55h-5.64zM125.34 321.82h5.64v1.55h-5.64zM125.34 357.55h5.64v1.55h-5.64zM125.34 371.52h5.64v1.55h-5.64zM130.98 239.51h5.64v1.55h-5.64zM130.98 253.49h5.64v1.55h-5.64zM130.98 258.15h5.64v1.55h-5.64zM130.98 286.10h5.64v1.55h-5.64zM130.98 290.76h5.64v1.55h-5.64zM130.98 309.40h5.64v1.55h-5.64zM130.98 334.25h5.64v1.55h-5.64zM136.62 233.30h5.64v1.55h-5.64zM136.62 253.49h5.64v1.55h-5.64zM136.62 258.15h5.64v1.55h-5.64zM136.62 278.34h5.64v1.55h-5.64zM136.62 281.44h5.64v1.55h-5.64zM136.62 289.21h5.64v1.55h-5.64zM136.62 292.32h5.64v1.55h-5.64zM136.62 304.74h5.64v1.55h-5.64zM136.62 307.85h5.64v1.55h-5.64zM136.62 320.27h5.64v1.55h-5.64zM136.62 331.14h5.64v1.55h-5.64zM136.62 340.46h5.64v1.55h-5.64zM136.62 383.95h5.64v1.55h-5.64zM136.62 428.99h5.64v1.55h-5.64zM136.62 449.18h5.64v1.55h-5.64zM142.26 239.51h5.64v1.55h-5.64zM142.26 264.36h5.64v1.55h-5.64zM142.26 298.53h5.64v1.55h-5.64zM142.26 318.72h5.64v1.55h-5.64zM142.26 321.82h5.64v1.55h-5.64zM142.26 326.48h5.64v1.55h-5.64zM147.90 242.62h5.64v4.66h-5.64zM147.90 278.34h5.64v1.55h-5.64zM147.90 283.00h5.64v1.55h-5.64zM147.90 286.10h5.64v1.55h-5.64zM147.90 321.82h5.64v1.55h-5.64zM147.90 324.93h5.64v1.55h-5.64zM147.90 360.65h5.64v1.55h-5.64zM153.54 283.00h5.64v1.55h-5.64zM153.54 298.53h5.64v3.11h-5.64zM153.54 315.61h5.64v1.55h-5.64zM153.54 318.72h5.64v1.55h-5.64zM153.54 332.70h5.64v1.55h-5.64zM153.54 351.33h5.64v1.55h-5.64zM159.18 279.89h5.64v1.55h-5.64zM159.18 292.32h5.64v1.55h-5.64zM159.18 352.89h5.64v1.55h-5.64zM164.82 222.43h5.64v1.55h-5.64zM164.82 244.17h5.64v1.55h-5.64zM164.82 267.47h5.64v1.55h-5.64zM164.82 287.66h5.64v1.55h-5.64zM164.82 337.36h5.64v1.55h-5.64zM164.82 342.02h5.64v1.55h-5.64zM164.82 348.23h5.64v1.55h-5.64zM164.82 357.55h5.64v1.55h-5.64zM164.82 383.95h5.64v1.55h-5.64zM164.82 391.72h5.64v1.55h-5.64zM164.82 408.80h5.64v1.55h-5.64zM170.46 283.00h5.64v1.55h-5.64zM170.46 338.91h5.64v1.55h-5.64zM176.10 264.36h5.64v1.55h-5.64zM176.10 329.59h5.64v1.55h-5.64zM181.74 220.87h5.64v1.55h-5.64zM181.74 223.98h5.64v1.55h-5.64zM181.74 251.93h5.64v1.55h-5.64zM181.74 256.59h5.64v3.11h-5.64zM181.74 289.21h5.64v1.55h-5.64zM181.74 306.29h5.64v1.55h-5.64zM181.74 345.12h5.64v1.55h-5.64zM187.38 233.30h5.64v1.55h-5.64zM187.38 253.49h5.64v1.55h-5.64zM187.38 332.70h5.64v1.55h-5.64zM187.38 338.91h5.64v1.55h-5.64zM187.38 348.23h5.64v1.55h-5.64zM187.38 351.33h5.64v3.11h-5.64zM187.38 357.55h5.64v1.55h-5.64zM193.02 223.98h5.64v1.55h-5.64zM193.02 269.02h5.64v3.11h-5.64zM193.02 314.06h5.64v1.55h-5.64zM193.02 328.04h5.64v1.55h-5.64zM198.66 219.32h5.64v1.55h-5.64zM198.66 369.97h5.64v1.55h-5.64zM204.30 213.11h5.64v1.55h-5.64zM204.30 234.85h5.64v1.55h-5.64zM204.30 244.17h5.64v1.55h-5.64zM204.30 251.93h5.64v1.55h-5.64zM204.30 262.81h5.64v1.55h-5.64zM204.30 278.34h5.64v1.55h-5.64zM204.30 296.98h5.64v1.55h-5.64zM204.30 371.52h5.64v1.55h-5.64zM204.30 387.06h5.64v1.55h-5.64zM209.94 211.55h5.64v1.55h-5.64zM209.94 259.70h5.64v1.55h-5.64zM209.94 267.47h5.64v1.55h-5.64zM209.94 343.57h5.64v3.11h-5.64zM215.58 259.70h5.64v1.55h-5.64zM215.58 298.53h5.64v1.55h-5.64zM215.58 323.38h5.64v1.55h-5.64zM221.22 211.55h5.64v1.55h-5.64zM221.22 219.32h5.64v3.11h-5.64zM221.22 241.06h5.64v1.55h-5.64zM221.22 262.81h5.64v1.55h-5.64zM221.22 301.63h5.64v4.66h-5.64zM221.22 307.85h5.64v1.55h-5.64zM221.22 318.72h5.64v1.55h-5.64zM221.22 338.91h5.64v1.55h-5.64zM221.22 342.02h5.64v1.55h-5.64zM221.22 348.23h5.64v1.55h-5.64zM221.22 362.21h5.64v1.55h-5.64zM226.86 223.98h5.64v1.55h-5.64zM226.86 227.08h5.64v1.55h-5.64zM226.86 242.62h5.64v1.55h-5.64zM226.86 245.72h5.64v1.55h-5.64zM226.86 270.57h5.64v1.55h-5.64zM226.86 315.61h5.64v1.55h-5.64zM226.86 318.72h5.64v1.55h-5.64zM226.86 335.80h5.64v1.55h-5.64zM226.86 343.57h5.64v1.55h-5.64zM226.86 379.29h5.64v1.55h-5.64zM226.86 382.40h5.64v1.55h-5.64zM226.86 385.50h5.64v1.55h-5.64zM226.86 390.16h5.64v1.55h-5.64zM232.50 217.77h5.64v1.55h-5.64zM232.50 234.85h5.64v1.55h-5.64zM232.50 241.06h5.64v1.55h-5.64zM232.50 283.00h5.64v1.55h-5.64zM232.50 289.21h5.64v1.55h-5.64zM232.50 342.02h5.64v1.55h-5.64zM232.50 352.89h5.64v3.11h-5.64zM232.50 373.08h5.64v1.55h-5.64zM232.50 376.18h5.64v3.11h-5.64zM238.14 230.19h5.64v1.55h-5.64zM238.14 236.40h5.64v1.55h-5.64zM238.14 256.59h5.64v1.55h-5.64zM238.14 284.55h5.64v1.55h-5.64zM238.14 340.46h5.64v1.55h-5.64zM238.14 345.12h5.64v1.55h-5.64zM238.14 355.99h5.64v1.55h-5.64zM238.14 373.08h5.64v1.55h-5.64zM238.14 387.06h5.64v1.55h-5.64zM238.14 396.38h5.64v1.55h-5.64zM243.78 225.53h5.64v1.55h-5.64zM243.78 230.19h5.64v1.55h-5.64zM243.78 264.36h5.64v1.55h-5.64zM243.78 283.00h5.64v1.55h-5.64zM243.78 340.46h5.64v1.55h-5.64zM249.42 250.38h5.64v1.55h-5.64zM249.42 269.02h5.64v1.55h-5.64zM249.42 284.55h5.64v1.55h-5.64zM249.42 293.87h5.64v1.55h-5.64zM249.42 365.31h5.64v1.55h-5.64zM249.42 368.42h5.64v1.55h-5.64zM249.42 446.08h5.64v1.55h-5.64zM255.06 255.04h5.64v1.55h-5.64zM255.06 301.63h5.64v3.11h-5.64zM255.06 309.40h5.64v1.55h-5.64zM255.06 315.61h5.64v1.55h-5.64zM255.06 328.04h5.64v1.55h-5.64zM255.06 332.70h5.64v1.55h-5.64zM255.06 345.12h5.64v1.55h-5.64zM255.06 368.42h5.64v1.55h-5.64zM255.06 449.18h5.64v1.55h-5.64zM260.70 220.87h5.64v1.55h-5.64zM260.70 241.06h5.64v1.55h-5.64zM260.70 284.55h5.64v3.11h-5.64zM260.70 293.87h5.64v1.55h-5.64zM260.70 348.23h5.64v1.55h-5.64zM277.62 220.87h5.64v1.55h-5.64zM277.62 259.70h5.64v1.55h-5.64zM277.62 298.53h5.64v1.55h-5.64zM277.62 310.95h5.64v1.55h-5.64zM277.62 318.72h5.64v1.55h-5.64zM277.62 436.76h5.64v1.55h-5.64zM283.26 273.68h5.64v1.55h-5.64zM283.26 343.57h5.64v1.55h-5.64zM288.90 239.51h5.64v1.55h-5.64zM294.54 376.18h5.64v1.55h-5.64zM305.82 295.42h5.64v1.55h-5.64zM305.82 342.02h5.64v1.55h-5.64zM311.46 244.17h5.64v1.55h-5.64zM311.46 292.32h5.64v1.55h-5.64zM311.46 301.63h5.64v1.55h-5.64zM317.10 211.55h5.64v1.55h-5.64zM317.10 244.17h5.64v1.55h-5.64zM317.10 262.81h5.64v1.55h-5.64zM322.74 220.87h5.64v1.55h-5.64zM322.74 255.04h5.64v1.55h-5.64zM328.40 346.68h6.50v1.55h-6.50z"/>
<path fill="#f02000" d="M91.50 373.08h5.64v1.55h-5.64zM91.50 407.25h5.64v1.55h-5.64zM91.50 416.57h5.64v1.55h-5.64zM91.50 430.54h5.64v1.55h-5.64zM91.50 435.20h5.64v1.55h-5.64zM91.50 447.63h5.64v1.55h-5.64zM91.50 452.29h5.64v1.55h-5.64zM91.50 455.39h5.64v1.55h-5.64zM97.14 213.11h5.64v3.11h-5.64zM97.14 230.19h5.64v3.11h-5.64zM97.14 234.85h5.64v1.55h-5.64zM97.14 245.72h5.64v1.55h-5.64zM97.14 255.04h5.64v3.11h-5.64zM97.14 261.25h5.64v1.55h-5.64zM97.14 264.36h5.64v1.55h-5.64zM97.14 269.02h5.64v3.11h-5.64zM97.14 275.23h5.64v1.55h-5.64zM97.14 279.89h5.64v1.55h-5.64zM97.14 354.44h5.64v1.55h-5.64zM97.14 373.08h5.64v1.55h-5.64zM97.14 380.84h5.64v1.55h-5.64zM97.14 385.50h5.64v4.66h-5.64zM97.14 396.38h5.64v1.55h-5.64zM97.14 408.80h5.64v1.55h-5.64zM97.14 411.91h5.64v1.55h-5.64zM97.14 421.23h5.64v3.11h-5.64zM97.14 427.44h5.64v1.55h-5.64zM97.14 435.20h5.64v4.66h-5.64zM97.14 441.42h5.64v1.55h-5.64zM97.14 450.73h5.64v1.55h-5.64zM97.14 453.84h5.64v3.11h-5.64zM102.78 276.78h5.64v1.55h-5.64zM102.78 371.52h5.64v1.55h-5.64zM102.78 380.84h5.64v3.11h-5.64zM102.78 391.72h5.64v1.55h-5.64zM102.78 397.93h5.64v1.55h-5.64zM102.78 407.25h5.64v4.66h-5.64zM102.78 416.57h5.64v3.11h-5.64zM102.78 428.99h5.64v1.55h-5.64zM102.78 432.10h5.64v4.66h-5.64zM102.78 444.52h5.64v1.55h-5.64zM102.78 450.73h5.64v1.55h-5.64zM102.78 455.39h5.64v1.55h-5.64zM108.42 250.38h5.64v1.55h-5.64zM108.42 258.15h5.64v1.55h-5.64zM108.42 374.63h5.64v1.55h-5.64zM108.42 382.40h5.64v1.55h-5.64zM108.42 388.61h5.64v1.55h-5.64zM108.42 397.93h5.64v1.55h-5.64zM108.42 402.59h5.64v1.55h-5.64zM108.42 407.25h5.64v1.55h-5.64zM108.42 428.99h5.64v3.11h-5.64zM108.42 435.20h5.64v7.77h-5.64zM108.42 447.63h5.64v1.55h-5.64zM108.42 455.39h5.64v3.11h-5.64zM114.06 425.88h5.64v1.55h-5.64zM114.06 449.18h5.64v1.55h-5.64zM119.70 438.31h5.64v1.55h-5.64zM119.70 446.08h5.64v1.55h-5.64zM119.70 455.39h5.64v1.55h-5.64zM125.34 210.00h5.64v1.55h-5.64zM125.34 227.08h5.64v1.55h-5.64zM125.34 250.38h5.64v1.55h-5.64zM125.34 262.81h5.64v1.55h-5.64zM125.34 275.23h5.64v3.11h-5.64zM125.34 373.08h5.64v1.55h-5.64zM125.34 376.18h5.64v3.11h-5.64zM125.34 380.84h5.64v1.55h-5.64zM125.34 385.50h5.64v1.55h-5.64zM125.34 396.38h5.64v1.55h-5.64zM125.34 399.48h5.64v3.11h-5.64zM125.34 405.69h5.64v1.55h-5.64zM125.34 419.67h5.64v3.11h-5.64zM125.34 424.33h5.64v1.55h-5.64zM125.34 428.99h5.64v3.11h-5.64zM125.34 433.65h5.64v1.55h-5.64zM125.34 439.86h5.64v3.11h-5.64zM125.34 447.63h5.64v3.11h-5.64zM125.34 456.95h5.64v1.55h-5.64zM130.98 275.23h5.64v1.55h-5.64zM130.98 374.63h5.64v3.11h-5.64zM130.98 379.29h5.64v3.11h-5.64zM130.98 383.95h5.64v1.55h-5.64zM130.98 387.06h5.64v1.55h-5.64zM130.98 390.16h5.64v1.55h-5.64zM130.98 393.27h5.64v1.55h-5.64zM130.98 396.38h5.64v3.11h-5.64zM130.98 416.57h5.64v1.55h-5.64zM130.98 424.33h5.64v1.55h-5.64zM130.98 427.44h5.64v1.55h-5.64zM130.98 430.54h5.64v1.55h-5.64zM130.98 433.65h5.64v3.11h-5.64zM130.98 442.97h5.64v1.55h-5.64zM130.98 446.08h5.64v1.55h-5.64zM130.98 452.29h5.64v3.11h-5.64zM142.26 376.18h5.64v1.55h-5.64zM142.26 408.80h5.64v3.11h-5.64zM142.26 436.76h5.64v1.55h-5.64zM147.90 265.91h5.64v1.55h-5.64zM147.90 270.57h5.64v1.55h-5.64zM147.90 399.48h5.64v1.55h-5.64zM147.90 407.25h5.64v1.55h-5.64zM147.90 411.91h5.64v1.55h-5.64zM147.90 421.23h5.64v1.55h-5.64zM147.90 428.99h5.64v3.11h-5.64zM147.90 436.76h5.64v6.21h-5.64zM147.90 449.18h5.64v3.11h-5.64zM153.54 210.00h5.64v1.55h-5.64zM153.54 222.43h5.64v1.55h-5.64zM153.54 237.96h5.64v1.55h-5.64zM153.54 241.06h5.64v1.55h-5.64zM153.54 253.49h5.64v1.55h-5.64zM153.54 256.59h5.64v3.11h-5.64zM153.54 281.44h5.64v1.55h-5.64zM153.54 380.84h5.64v1.55h-5.64zM153.54 383.95h5.64v1.55h-5.64zM153.54 404.14h5.64v3.11h-5.64zM153.54 419.67h5.64v1.55h-5.64zM153.54 425.88h5.64v1.55h-5.64zM153.54 428.99h5.64v1.55h-5.64zM153.54 432.10h5.64v1.55h-5.64zM153.54 436.76h5.64v1.55h-5.64zM153.54 441.42h5.64v1.55h-5.64zM153.54 449.18h5.64v1.55h-5.64zM153.54 453.84h5.64v1.55h-5.64zM153.54 456.95h5.64v1.55h-5.64zM159.18 210.00h5.64v1.55h-5.64zM159.18 234.85h5.64v1.55h-5.64zM159.18 239.51h5.64v1.55h-5.64zM159.18 253.49h5.64v1.55h-5.64zM159.18 258.15h5.64v1.55h-5.64zM159.18 267.47h5.64v1.55h-5.64zM159.18 270.57h5.64v1.55h-5.64zM159.18 278.34h5.64v1.55h-5.64zM159.18 312.51h5.64v1.55h-5.64zM159.18 348.23h5.64v1.55h-5.64zM159.18 366.87h5.64v1.55h-5.64zM159.18 373.08h5.64v1.55h-5.64zM159.18 377.74h5.64v4.66h-5.64zM159.18 390.16h5.64v1.55h-5.64zM159.18 394.82h5.64v1.55h-5.64zM159.18 397.93h5.64v3.11h-5.64zM159.18 408.80h5.64v1.55h-5.64zM159.18 411.91h5.64v3.11h-5.64zM159.18 418.12h5.64v1.55h-5.64zM159.18 424.33h5.64v3.11h-5.64zM159.18 428.99h5.64v6.21h-5.64zM159.18 438.31h5.64v6.21h-5.64zM159.18 446.08h5.64v3.11h-5.64zM159.18 452.29h5.64v1.55h-5.64zM159.18 456.95h5.64v1.55h-5.64zM164.82 233.30h5.64v3.11h-5.64zM164.82 256.59h5.64v1.55h-5.64zM164.82 399.48h5.64v1.55h-5.64zM164.82 411.91h5.64v1.55h-5.64zM164.82 424.33h5.64v1.55h-5.64zM164.82 427.44h5.64v1.55h-5.64zM164.82 430.54h5.64v1.55h-5.64zM164.82 433.65h5.64v3.11h-5.64zM164.82 441.42h5.64v1.55h-5.64zM164.82 449.18h5.64v3.11h-5.64zM164.82 455.39h5.64v1.55h-5.64zM170.46 213.11h5.64v1.55h-5.64zM170.46 216.21h5.64v1.55h-5.64zM170.46 272.12h5.64v1.55h-5.64zM170.46 279.89h5.64v1.55h-5.64zM170.46 399.48h5.64v4.66h-5.64zM170.46 407.25h5.64v3.11h-5.64zM170.46 411.91h5.64v1.55h-5.64zM170.46 416.57h5.64v6.21h-5.64zM170.46 424.33h5.64v4.66h-5.64zM170.46 430.54h5.64v1.55h-5.64zM170.46 433.65h5.64v1.55h-5.64zM170.46 439.86h5.64v3.11h-5.64zM170.46 447.63h5.64v1.55h-5.64zM170.46 450.73h5.64v1.55h-5.64zM170.46 453.84h5.64v1.55h-5.64zM170.46 456.95h5.64v1.55h-5.64zM176.10 237.96h5.64v1.55h-5.64zM176.10 253.49h5.64v1.55h-5.64zM176.10 261.25h5.64v1.55h-5.64zM176.10 265.91h5.64v1.55h-5.64zM176.10 270.57h5.64v3.11h-5.64zM176.10 310.95h5.64v1.55h-5.64zM176.10 374.63h5.64v1.55h-5.64zM176.10 377.74h5.64v1.55h-5.64zM176.10 396.38h5.64v1.55h-5.64zM176.10 399.48h5.64v3.11h-5.64zM176.10 404.14h5.64v1.55h-5.64zM176.10 419.67h5.64v1.55h-5.64zM176.10 422.78h5.64v1.55h-5.64zM176.10 430.54h5.64v1.55h-5.64zM176.10 433.65h5.64v9.32h-5.64zM176.10 446.08h5.64v1.55h-5.64zM176.10 450.73h5.64v1.55h-5.64zM176.10 456.95h5.64v1.55h-5.64zM181.74 377.74h5.64v1.55h-5.64zM181.74 383.95h5.64v1.55h-5.64zM181.74 387.06h5.64v1.55h-5.64zM181.74 390.16h5.64v1.55h-5.64zM181.74 399.48h5.64v1.55h-5.64zM181.74 415.01h5.64v6.21h-5.64zM181.74 425.88h5.64v1.55h-5.64zM181.74 438.31h5.64v3.11h-5.64zM181.74 444.52h5.64v3.11h-5.64zM181.74 452.29h5.64v4.66h-5.64zM187.38 275.23h5.64v1.55h-5.64zM187.38 379.29h5.64v4.66h-5.64zM187.38 393.27h5.64v1.55h-5.64zM187.38 418.12h5.64v1.55h-5.64zM187.38 421.23h5.64v1.55h-5.64zM187.38 428.99h5.64v1.55h-5.64zM187.38 449.18h5.64v3.11h-5.64zM187.38 455.39h5.64v3.11h-5.64zM193.02 399.48h5.64v1.55h-5.64zM193.02 413.46h5.64v1.55h-5.64zM193.02 422.78h5.64v1.55h-5.64zM193.02 433.65h5.64v1.55h-5.64zM193.02 438.31h5.64v1.55h-5.64zM193.02 441.42h5.64v1.55h-5.64zM193.02 455.39h5.64v3.11h-5.64zM198.66 214.66h5.64v1.55h-5.64zM198.66 239.51h5.64v1.55h-5.64zM198.66 269.02h5.64v1.55h-5.64zM198.66 279.89h5.64v1.55h-5.64zM198.66 382.40h5.64v3.11h-5.64zM198.66 387.06h5.64v1.55h-5.64zM198.66 397.93h5.64v1.55h-5.64zM198.66 402.59h5.64v1.55h-5.64zM198.66 408.80h5.64v3.11h-5.64zM198.66 415.01h5.64v1.55h-5.64zM198.66 418.12h5.64v1.55h-5.64zM198.66 422.78h5.64v3.11h-5.64zM198.66 435.20h5.64v1.55h-5.64zM198.66 438.31h5.64v3.11h-5.64zM198.66 442.97h5.64v6.21h-5.64zM198.66 450.73h5.64v3.11h-5.64zM198.66 456.95h5.64v1.55h-5.64zM204.30 376.18h5.64v1.55h-5.64zM204.30 418.12h5.64v1.55h-5.64zM204.30 425.88h5.64v1.55h-5.64zM204.30 432.10h5.64v1.55h-5.64zM204.30 438.31h5.64v3.11h-5.64zM204.30 455.39h5.64v1.55h-5.64zM209.94 377.74h5.64v1.55h-5.64zM209.94 394.82h5.64v1.55h-5.64zM209.94 407.25h5.64v3.11h-5.64zM209.94 427.44h5.64v1.55h-5.64zM209.94 444.52h5.64v4.66h-5.64zM209.94 453.84h5.64v1.55h-5.64zM215.58 242.62h5.64v1.55h-5.64zM215.58 261.25h5.64v1.55h-5.64zM215.58 265.91h5.64v4.66h-5.64zM215.58 374.63h5.64v1.55h-5.64zM215.58 377.74h5.64v3.11h-5.64zM215.58 385.50h5.64v1.55h-5.64zM215.58 393.27h5.64v1.55h-5.64zM215.58 407.25h5.64v1.55h-5.64zM215.58 410.35h5.64v1.55h-5.64zM215.58 418.12h5.64v1.55h-5.64zM215.58 432.10h5.64v1.55h-5.64zM215.58 436.76h5.64v1.55h-5.64zM215.58 442.97h5.64v1.55h-5.64zM215.58 447.63h5.64v3.11h-5.64zM215.58 452.29h5.64v1.55h-5.64zM215.58 456.95h5.64v1.55h-5.64zM221.22 373.08h5.64v1.55h-5.64zM221.22 411.91h5.64v1.55h-5.64zM221.22 422.78h5.64v1.55h-5.64zM221.22 439.86h5.64v3.11h-5.64zM221.22 446.08h5.64v1.55h-5.64zM221.22 450.73h5.64v3.11h-5.64zM226.86 422.78h5.64v1.55h-5.64zM226.86 428.99h5.64v1.55h-5.64zM226.86 446.08h5.64v1.55h-5.64zM232.50 422.78h5.64v1.55h-5.64zM232.50 433.65h5.64v1.55h-5.64zM232.50 449.18h5.64v3.11h-5.64zM238.14 349.78h5.64v1.55h-5.64zM238.14 427.44h5.64v3.11h-5.64zM238.14 436.76h5.64v1.55h-5.64zM238.14 450.73h5.64v1.55h-5.64zM238.14 456.95h5.64v1.55h-5.64zM243.78 227.08h5.64v1.55h-5.64zM243.78 234.85h5.64v1.55h-5.64zM243.78 247.28h5.64v1.55h-5.64zM243.78 267.47h5.64v1.55h-5.64zM243.78 276.78h5.64v1.55h-5.64zM243.78 317.17h5.64v1.55h-5.64zM243.78 371.52h5.64v1.55h-5.64zM243.78 382.40h5.64v1.55h-5.64zM243.78 390.16h5.64v4.66h-5.64zM243.78 396.38h5.64v1.55h-5.64zM243.78 402.59h5.64v1.55h-5.64zM243.78 413.46h5.64v1.55h-5.64zM243.78 421.23h5.64v4.66h-5.64zM243.78 427.44h5.64v1.55h-5.64zM243.78 432.10h5.64v1.55h-5.64zM243.78 436.76h5.64v3.11h-5.64zM243.78 455.39h5.64v3.11h-5.64zM249.42 214.66h5.64v1.55h-5.64zM249.42 217.77h5.64v1.55h-5.64zM249.42 278.34h5.64v1.55h-5.64zM249.42 399.48h5.64v1.55h-5.64zM249.42 416.57h5.64v1.55h-5.64zM249.42 430.54h5.64v13.98h-5.64zM255.06 216.21h5.64v1.55h-5.64zM255.06 236.40h5.64v1.55h-5.64zM255.06 331.14h5.64v1.55h-5.64zM255.06 385.50h5.64v1.55h-5.64zM255.06 391.72h5.64v1.55h-5.64zM255.06 394.82h5.64v1.55h-5.64zM255.06 397.93h5.64v1.55h-5.64zM255.06 418.12h5.64v1.55h-5.64zM255.06 424.33h5.64v1.55h-5.64zM255.06 432.10h5.64v4.66h-5.64zM255.06 441.42h5.64v1.55h-5.64zM255.06 452.29h5.64v1.55h-5.64zM255.06 455.39h5.64v3.11h-5.64zM260.70 399.48h5.64v1.55h-5.64zM260.70 419.67h5.64v3.11h-5.64zM260.70 432.10h5.64v3.11h-5.64zM260.70 441.42h5.64v1.55h-5.64zM260.70 447.63h5.64v1.55h-5.64zM266.34 214.66h5.64v1.55h-5.64zM266.34 217.77h5.64v1.55h-5.64zM266.34 223.98h5.64v1.55h-5.64zM266.34 227.08h5.64v1.55h-5.64zM266.34 237.96h5.64v1.55h-5.64zM266.34 242.62h5.64v1.55h-5.64zM266.34 247.28h5.64v1.55h-5.64zM266.34 259.70h5.64v3.11h-5.64zM266.34 267.47h5.64v1.55h-5.64zM266.34 273.68h5.64v1.55h-5.64zM266.34 276.78h5.64v1.55h-5.64zM266.34 279.89h5.64v1.55h-5.64zM266.34 293.87h5.64v1.55h-5.64zM266.34 301.63h5.64v3.11h-5.64zM266.34 315.61h5.64v3.11h-5.64zM266.34 320.27h5.64v1.55h-5.64zM266.34 324.93h5.64v3.11h-5.64zM266.34 331.14h5.64v3.11h-5.64zM266.34 349.78h5.64v3.11h-5.64zM266.34 360.65h5.64v6.21h-5.64zM266.34 371.52h5.64v1.55h-5.64zM266.34 374.63h5.64v6.21h-5.64zM266.34 382.40h5.64v4.66h-5.64zM266.34 390.16h5.64v4.66h-5.64zM266.34 396.38h5.64v1.55h-5.64zM266.34 399.48h5.64v1.55h-5.64zM266.34 402.59h5.64v3.11h-5.64zM266.34 407.25h5.64v3.11h-5.64zM266.34 411.91h5.64v1.55h-5.64zM266.34 415.01h5.64v3.11h-5.64zM266.34 419.67h5.64v23.30h-5.64zM266.34 444.52h5.64v9.32h-5.64zM266.34 456.95h5.64v1.55h-5.64zM271.98 211.55h5.64v1.55h-5.64zM271.98 239.51h5.64v1.55h-5.64zM271.98 245.72h5.64v1.55h-5.64zM271.98 250.38h5.64v1.55h-5.64zM271.98 276.78h5.64v1.55h-5.64zM271.98 293.87h5.64v1.55h-5.64zM271.98 326.48h5.64v1.55h-5.64zM271.98 329.59h5.64v1.55h-5.64zM271.98 349.78h5.64v1.55h-5.64zM271.98 352.89h5.64v1.55h-5.64zM271.98 360.65h5.64v1.55h-5.64zM271.98 368.42h5.64v1.55h-5.64zM271.98 373.08h5.64v1.55h-5.64zM271.98 377.74h5.64v1.55h-5.64zM271.98 390.16h5.64v1.55h-5.64zM271.98 393.27h5.64v7.77h-5.64zM271.98 404.14h5.64v7.77h-5.64zM271.98 415.01h5.64v4.66h-5.64zM271.98 422.78h5.64v3.11h-5.64zM271.98 427.44h5.64v3.11h-5.64zM271.98 432.10h5.64v4.66h-5.64zM271.98 438.31h5.64v9.32h-5.64zM271.98 449.18h5.64v1.55h-5.64zM271.98 452.29h5.64v4.66h-5.64zM277.62 234.85h5.64v1.55h-5.64zM277.62 248.83h5.64v3.11h-5.64zM277.62 290.76h5.64v1.55h-5.64zM277.62 346.68h5.64v1.55h-5.64zM277.62 388.61h5.64v1.55h-5.64zM277.62 397.93h5.64v1.55h-5.64zM277.62 411.91h5.64v3.11h-5.64zM277.62 418.12h5.64v1.55h-5.64zM277.62 421.23h5.64v3.11h-5.64zM277.62 425.88h5.64v7.77h-5.64zM277.62 435.20h5.64v1.55h-5.64zM277.62 438.31h5.64v4.66h-5.64zM277.62 444.52h5.64v4.66h-5.64zM277.62 455.39h5.64v1.55h-5.64zM283.26 222.43h5.64v1.55h-5.64zM283.26 233.30h5.64v1.55h-5.64zM283.26 239.51h5.64v1.55h-5.64zM283.26 256.59h5.64v1.55h-5.64zM283.26 259.70h5.64v1.55h-5.64zM283.26 262.81h5.64v1.55h-5.64zM283.26 267.47h5.64v1.55h-5.64zM283.26 270.57h5.64v1.55h-5.64zM283.26 275.23h5.64v1.55h-5.64zM283.26 306.29h5.64v1.55h-5.64zM283.26 324.93h5.64v1.55h-5.64zM283.26 346.68h5.64v3.11h-5.64zM283.26 373.08h5.64v1.55h-5.64zM283.26 385.50h5.64v3.11h-5.64zM283.26 396.38h5.64v1.55h-5.64zM283.26 402.59h5.64v1.55h-5.64zM283.26 407.25h5.64v1.55h-5.64zM283.26 413.46h5.64v1.55h-5.64zM283.26 419.67h5.64v1.55h-5.64zM283.26 424.33h5.64v1.55h-5.64zM283.26 435.20h5.64v1.55h-5.64zM283.26 438.31h5.64v3.11h-5.64zM283.26 446.08h5.64v7.77h-5.64zM283.26 455.39h5.64v3.11h-5.64zM288.90 210.00h5.64v1.55h-5.64zM288.90 219.32h5.64v1.55h-5.64zM288.90 231.74h5.64v1.55h-5.64zM288.90 242.62h5.64v1.55h-5.64zM288.90 247.28h5.64v1.55h-5.64zM288.90 253.49h5.64v1.55h-5.64zM288.90 261.25h5.64v1.55h-5.64zM288.90 267.47h5.64v1.55h-5.64zM288.90 281.44h5.64v1.55h-5.64zM288.90 289.21h5.64v1.55h-5.64zM288.90 293.87h5.64v1.55h-5.64zM288.90 303.19h5.64v3.11h-5.64zM288.90 309.40h5.64v1.55h-5.64zM288.90 321.82h5.64v1.55h-5.64zM288.90 337.36h5.64v1.55h-5.64zM288.90 346.68h5.64v1.55h-5.64zM288.90 362.21h5.64v1.55h-5.64zM288.90 366.87h5.64v1.55h-5.64zM288.90 373.08h5.64v1.55h-5.64zM288.90 376.18h5.64v6.21h-5.64zM288.90 394.82h5.64v3.11h-5.64zM288.90 401.03h5.64v3.11h-5.64zM288.90 405.69h5.64v1.55h-5.64zM288.90 413.46h5.64v9.32h-5.64zM288.90 425.88h5.64v6.21h-5.64zM288.90 435.20h5.64v1.55h-5.64zM288.90 438.31h5.64v7.77h-5.64zM288.90 450.73h5.64v3.11h-5.64zM294.54 216.21h5.64v1.55h-5.64zM294.54 222.43h5.64v1.55h-5.64zM294.54 225.53h5.64v1.55h-5.64zM294.54 230.19h5.64v1.55h-5.64zM294.54 234.85h5.64v1.55h-5.64zM294.54 247.28h5.64v1.55h-5.64zM294.54 251.93h5.64v3.11h-5.64zM294.54 259.70h5.64v1.55h-5.64zM294.54 270.57h5.64v1.55h-5.64zM294.54 275.23h5.64v1.55h-5.64zM294.54 278.34h5.64v1.55h-5.64zM294.54 292.32h5.64v1.55h-5.64zM294.54 307.85h5.64v1.55h-5.64zM294.54 310.95h5.64v4.66h-5.64zM294.54 318.72h5.64v3.11h-5.64zM294.54 338.91h5.64v1.55h-5.64zM294.54 348.23h5.64v1.55h-5.64zM294.54 351.33h5.64v1.55h-5.64zM294.54 359.10h5.64v1.55h-5.64zM294.54 363.76h5.64v1.55h-5.64zM294.54 371.52h5.64v4.66h-5.64zM294.54 377.74h5.64v1.55h-5.64zM294.54 382.40h5.64v3.11h-5.64zM294.54 387.06h5.64v1.55h-5.64zM294.54 390.16h5.64v1.55h-5.64zM294.54 393.27h5.64v1.55h-5.64zM294.54 397.93h5.64v6.21h-5.64zM294.54 407.25h5.64v3.11h-5.64zM294.54 413.46h5.64v6.21h-5.64zM294.54 421.23h5.64v17.08h-5.64zM294.54 441.42h5.64v1.55h-5.64zM294.54 444.52h5.64v4.66h-5.64zM294.54 450.73h5.64v4.66h-5.64zM294.54 456.95h5.64v1.55h-5.64zM300.18 214.66h5.64v3.11h-5.64zM300.18 220.87h5.64v4.66h-5.64zM300.18 230.19h5.64v3.11h-5.64zM300.18 236.40h5.64v1.55h-5.64zM300.18 244.17h5.64v1.55h-5.64zM300.18 248.83h5.64v4.66h-5.64zM300.18 256.59h5.64v1.55h-5.64zM300.18 259.70h5.64v3.11h-5.64zM300.18 265.91h5.64v1.55h-5.64zM300.18 276.78h5.64v1.55h-5.64zM300.18 284.55h5.64v9.32h-5.64zM300.18 295.42h5.64v3.11h-5.64zM300.18 301.63h5.64v1.55h-5.64zM300.18 306.29h5.64v3.11h-5.64zM300.18 314.06h5.64v1.55h-5.64zM300.18 320.27h5.64v1.55h-5.64zM300.18 324.93h5.64v1.55h-5.64zM300.18 332.70h5.64v3.11h-5.64zM300.18 337.36h5.64v1.55h-5.64zM300.18 342.02h5.64v1.55h-5.64zM300.18 345.12h5.64v1.55h-5.64zM300.18 348.23h5.64v1.55h-5.64zM300.18 352.89h5.64v3.11h-5.64zM300.18 357.55h5.64v1.55h-5.64zM300.18 368.42h5.64v1.55h-5.64zM300.18 373.08h5.64v4.66h-5.64zM300.18 379.29h5.64v4.66h-5.64zM300.18 385.50h5.64v3.11h-5.64zM300.18 390.16h5.64v1.55h-5.64zM300.18 393.27h5.64v6.21h-5.64zM300.18 401.03h5.64v1.55h-5.64zM300.18 404.14h5.64v4.66h-5.64zM300.18 410.35h5.64v9.32h-5.64zM300.18 421.23h5.64v3.11h-5.64zM300.18 425.88h5.64v1.55h-5.64zM300.18 428.99h5.64v6.21h-5.64zM300.18 436.76h5.64v3.11h-5.64zM300.18 441.42h5.64v12.43h-5.64zM300.18 455.39h5.64v3.11h-5.64zM305.82 220.87h5.64v3.11h-5.64zM305.82 233.30h5.64v1.55h-5.64zM305.82 242.62h5.64v1.55h-5.64zM305.82 253.49h5.64v1.55h-5.64zM305.82 258.15h5.64v1.55h-5.64zM305.82 261.25h5.64v1.55h-5.64zM305.82 267.47h5.64v1.55h-5.64zM305.82 273.68h5.64v1.55h-5.64zM305.82 281.44h5.64v3.11h-5.64zM305.82 293.87h5.64v1.55h-5.64zM305.82 296.98h5.64v1.55h-5.64zM305.82 338.91h5.64v1.55h-5.64zM305.82 348.23h5.64v1.55h-5.64zM305.82 352.89h5.64v1.55h-5.64zM305.82 373.08h5.64v1.55h-5.64zM305.82 377.74h5.64v1.55h-5.64zM305.82 382.40h5.64v1.55h-5.64zM305.82 393.27h5.64v3.11h-5.64zM305.82 404.14h5.64v1.55h-5.64zM305.82 411.91h5.64v1.55h-5.64zM305.82 416.57h5.64v7.77h-5.64zM305.82 425.88h5.64v10.87h-5.64zM305.82 438.31h5.64v3.11h-5.64zM305.82 444.52h5.64v1.55h-5.64zM305.82 447.63h5.64v10.87h-5.64zM311.46 214.66h5.64v1.55h-5.64zM311.46 236.40h5.64v1.55h-5.64zM311.46 248.83h5.64v1.55h-5.64zM311.46 256.59h5.64v1.55h-5.64zM311.46 259.70h5.64v6.21h-5.64zM311.46 275.23h5.64v1.55h-5.64zM311.46 320.27h5.64v1.55h-5.64zM311.46 349.78h5.64v1.55h-5.64zM311.46 360.65h5.64v1.55h-5.64zM311.46 373.08h5.64v3.11h-5.64zM311.46 377.74h5.64v1.55h-5.64zM311.46 388.61h5.64v1.55h-5.64zM311.46 404.14h5.64v1.55h-5.64zM311.46 413.46h5.64v1.55h-5.64zM311.46 416.57h5.64v6.21h-5.64zM311.46 425.88h5.64v1.55h-5.64zM311.46 436.76h5.64v3.11h-5.64zM311.46 441.42h5.64v1.55h-5.64zM311.46 444.52h5.64v4.66h-5.64zM311.46 450.73h5.64v1.55h-5.64zM311.46 456.95h5.64v1.55h-5.64zM317.10 230.19h5.64v1.55h-5.64zM317.10 234.85h5.64v1.55h-5.64zM317.10 242.62h5.64v1.55h-5.64zM317.10 250.38h5.64v1.55h-5.64zM317.10 265.91h5.64v1.55h-5.64zM317.10 284.55h5.64v1.55h-5.64zM317.10 310.95h5.64v1.55h-5.64zM317.10 314.06h5.64v1.55h-5.64zM317.10 320.27h5.64v1.55h-5.64zM317.10 324.93h5.64v1.55h-5.64zM317.10 331.14h5.64v1.55h-5.64zM317.10 337.36h5.64v1.55h-5.64zM317.10 371.52h5.64v3.11h-5.64zM317.10 382.40h5.64v1.55h-5.64zM317.10 390.16h5.64v1.55h-5.64zM317.10 407.25h5.64v1.55h-5.64zM317.10 419.67h5.64v1.55h-5.64zM317.10 427.44h5.64v1.55h-5.64zM317.10 430.54h5.64v1.55h-5.64zM317.10 433.65h5.64v1.55h-5.64zM317.10 436.76h5.64v1.55h-5.64zM317.10 439.86h5.64v1.55h-5.64zM317.10 446.08h5.64v4.66h-5.64zM317.10 453.84h5.64v3.11h-5.64zM322.74 231.74h5.64v1.55h-5.64zM322.74 234.85h5.64v1.55h-5.64zM322.74 265.91h5.64v1.55h-5.64zM322.74 275.23h5.64v3.11h-5.64zM322.74 296.98h5.64v1.55h-5.64zM322.74 340.46h5.64v1.55h-5.64zM322.74 374.63h5.64v9.32h-5.64zM322.74 394.82h5.64v3.11h-5.64zM322.74 399.48h5.64v1.55h-5.64zM322.74 407.25h5.64v3.11h-5.64zM322.74 411.91h5.64v1.55h-5.64zM322.74 418.12h5.64v3.11h-5.64zM322.74 427.44h5.64v1.55h-5.64zM322.74 430.54h5.64v7.77h-5.64zM322.74 439.86h5.64v7.77h-5.64zM322.74 450.73h5.64v3.11h-5.64zM322.74 455.39h5.64v3.11h-5.64zM328.40 223.98h6.50v1.55h-6.50zM328.40 234.85h6.50v1.55h-6.50zM328.40 242.62h6.50v1.55h-6.50zM328.40 247.28h6.50v1.55h-6.50zM328.40 251.93h6.50v1.55h-6.50zM328.40 256.59h6.50v3.11h-6.50zM328.40 261.25h6.50v1.55h-6.50zM328.40 270.57h6.50v3.11h-6.50zM328.40 275.23h6.50v3.11h-6.50zM328.40 335.80h6.50v1.55h-6.50zM328.40 348.23h6.50v1.55h-6.50zM328.40 373.08h6.50v1.55h-6.50zM328.40 376.18h6.50v3.11h-6.50zM328.40 382.40h6.50v3.11h-6.50zM328.40 388.61h6.50v1.55h-6.50zM328.40 391.72h6.50v1.55h-6.50zM328.40 396.38h6.50v1.55h-6.50zM328.40 404.14h6.50v6.21h-6.50zM328.40 413.46h6.50v1.55h-6.50zM328.40 416.57h6.50v7.77h-6.50zM328.40 427.44h6.50v4.66h-6.50zM328.40 433.65h6.50v3.11h-6.50zM328.40 439.86h6.50v3.11h-6.50zM328.40 444.52h6.50v1.55h-6.50zM328.40 447.63h6.50v6.21h-6.50zM328.40 455.39h6.50v3.11h-6.50zM334.90 210.00h6.60v41.93h-6.60zM334.90 255.04h6.60v1.55h-6.60zM334.90 259.70h6.60v4.66h-6.60zM334.90 265.91h6.60v1.55h-6.60zM334.90 270.57h6.60v38.83h-6.60zM334.90 310.95h6.60v59.02h-6.60zM334.90 371.52h6.60v20.19h-6.60zM334.90 393.27h6.60v65.23h-6.60z"/>
<path fill="#a01010" d="M334.90 267.47h6.60v3.11h-6.60z"/>
<line x1="262" y1="371.2" x2="341.5" y2="371.2" stroke="#101040" stroke-width="1.2" opacity="0.8"/>
</g>
<line x1="92" y1="464.5" x2="340" y2="464.5" stroke="#e4e4e4" stroke-width="1" stroke-dasharray="3,3"/>
<g class="heavy">
<text x="-2" y="492.2" font-size="19.4" font-weight="bold" text-anchor="start" fill="#000" >C</text>
<text x="24.3" y="493" font-size="12.3" text-anchor="start" fill="#000" style="stroke-width:0.45px">CTS WT1mut+ cells</text>
<line x1="41.7" y1="520" x2="41.7" y2="614.5" stroke="#000" stroke-width="1.3" />
<line x1="41.1" y1="614.5" x2="142" y2="614.5" stroke="#000" stroke-width="1.3" />
<line x1="39.3" y1="614.5" x2="41.7" y2="614.5" stroke="#000" stroke-width="1.2" />
<text x="36.3" y="618.4" font-size="11.2" text-anchor="end" fill="#000" >0</text>
<line x1="39.3" y1="584.134" x2="41.7" y2="584.134" stroke="#000" stroke-width="1.2" />
<text x="36.3" y="588.034" font-size="11.2" text-anchor="end" fill="#000" >20</text>
<line x1="39.3" y1="553.768" x2="41.7" y2="553.768" stroke="#000" stroke-width="1.2" />
<text x="36.3" y="557.668" font-size="11.2" text-anchor="end" fill="#000" >40</text>
<line x1="39.3" y1="523.402" x2="41.7" y2="523.402" stroke="#000" stroke-width="1.2" />
<text x="36.3" y="527.302" font-size="11.2" text-anchor="end" fill="#000" >60</text>
<text transform="translate(16.5,584.5) rotate(-90)" font-size="11.2">%CD11b</text>
<line x1="65.1" y1="614.5" x2="65.1" y2="617.5" stroke="#000" stroke-width="1.2" />
<line x1="113.1" y1="614.5" x2="113.1" y2="617.5" stroke="#000" stroke-width="1.2" />
<line x1="65.1" y1="600.7" x2="65.1" y2="596.3" stroke="#000" stroke-width="1.5" />
<line x1="57.3" y1="596.3" x2="72.7" y2="596.3" stroke="#000" stroke-width="1.5" />
<rect x="49.6" y="600.7" width="31.6" height="13.8" fill="#fff" stroke="#000" stroke-width="1.5" />
<line x1="113.3" y1="555.2" x2="113.3" y2="550.9" stroke="#000" stroke-width="1.5" />
<line x1="105" y1="550.9" x2="119.8" y2="550.9" stroke="#000" stroke-width="1.5" />
<rect x="98.8" y="555.2" width="30.9" height="59.3" fill="#948b55" stroke="#000" stroke-width="1.5" />
<path d="M62.5,539 V534.2 H110.9 V539" fill="none" stroke="#222" stroke-width="1.3"/>
<text x="94.3" y="527.5" font-size="11.3" text-anchor="middle" fill="#000" >p = 0.0003</text>
<text transform="translate(46.5,650.5) rotate(-38.5)" font-size="10.8" font-weight="bold">DMSO</text>
<text transform="translate(97.6,644.8) rotate(-38.5)" font-size="10.8" font-weight="bold">ATRA</text>
</g>
<text x="284.6" y="491.5" font-size="17.5" font-weight="bold" text-anchor="start" fill="#000" >D</text>
<text x="317.7" y="487.8" font-size="12.3" text-anchor="start" fill="#000" style="stroke-width:0.45px">CTS WT1mut+ cells</text>
<text transform="translate(325.3,535.8) rotate(-33.5)" font-size="12.2" style="stroke-width:0.55px">scrambled</text>
<text transform="translate(351.8,537.2) rotate(-33.5)" font-size="12.2" style="stroke-width:0.55px">shRNA #1</text>
<text transform="translate(378.3,537.2) rotate(-33.5)" font-size="12.2" style="stroke-width:0.55px">shRNA #2</text>
<text transform="translate(404.8,537.2) rotate(-33.5)" font-size="12.2" style="stroke-width:0.55px">shRNA #3</text>
<text transform="translate(431.3,537.2) rotate(-33.5)" font-size="12.2" style="stroke-width:0.55px">shRNA #4</text>
<defs><filter id="bb" x="-50%" y="-100%" width="200%" height="300%"><feGaussianBlur stdDeviation="1.0"/></filter><filter id="bb2" x="-50%" y="-200%" width="200%" height="500%"><feGaussianBlur stdDeviation="0.6"/></filter><linearGradient id="g1" x1="0" y1="0" x2="0" y2="1"><stop offset="0" stop-color="#bdbdbd"/><stop offset="1" stop-color="#b6b6b6"/></linearGradient><linearGradient id="g2" x1="0" y1="0" x2="0" y2="1"><stop offset="0" stop-color="#d4d4d4"/><stop offset="1" stop-color="#cbcbcb"/></linearGradient><linearGradient id="g3" x1="0" y1="0" x2="0" y2="1"><stop offset="0" stop-color="#dedede"/><stop offset="0.5" stop-color="#cfcfcf"/><stop offset="1" stop-color="#d6d6d6"/></linearGradient></defs>
<rect x="310" y="540.4" width="137" height="24.2" fill="url(#g1)"/>
<rect x="310" y="564.6" width="137" height="27.4" fill="url(#g2)"/>
<rect x="310" y="592" width="137" height="27.3" fill="url(#g3)"/>
<g filter="url(#bb2)">
<rect x="315.5" y="553" width="19.5" height="1.6" rx="0.8" fill="#666"/>
<rect x="342" y="553.1" width="19.5" height="1.3" rx="0.6" fill="#9c9c9c"/>
<path d="M423,551.6 Q424,550.2 430,550.6 L441,551.2 L441,552.2 L430,553.1 Q424,553.2 423,551.6 Z" fill="#2e2e2e"/>
</g>
<g filter="url(#bb)">
<rect x="314.3" y="572.3" width="24.5" height="11" rx="5.5" fill="#000"/>
<ellipse cx="345" cy="577.6" rx="4.3" ry="2.7" fill="#000"/>
<rect x="347" y="576.8" width="13" height="1.8" fill="#222"/>
<ellipse cx="360.5" cy="577.7" rx="2.3" ry="1.6" fill="#000"/>
<ellipse cx="378" cy="579" rx="7" ry="1.2" fill="#c4c4c4"/>
<ellipse cx="405" cy="579" rx="7" ry="1.2" fill="#c8c8c8"/>
<ellipse cx="431" cy="579.5" rx="6" ry="1.6" fill="#adadad"/>
</g>
<g filter="url(#bb)">
<rect x="316.5" y="600.3" width="24.5" height="9.3" rx="4.4" fill="#000"/>
<rect x="341.5" y="600.3" width="26.0" height="9.3" rx="4.4" fill="#000"/>
<rect x="368" y="600.3" width="25.5" height="9.3" rx="4.4" fill="#000"/>
<rect x="394" y="600.3" width="25.5" height="9.3" rx="4.4" fill="#000"/>
<rect x="421.5" y="600.3" width="24.5" height="9.3" rx="4.4" fill="#000"/>
</g>
<rect x="310" y="540.4" width="137" height="78.9" fill="none" stroke="#111" stroke-width="1.4"/>
<line x1="310" y1="566.6" x2="447" y2="566.6" stroke="#e2e2e2" stroke-width="1.2"/>
<line x1="310" y1="590" x2="447" y2="590" stroke="#e0e0e0" stroke-width="1.2"/>
<line x1="310" y1="593.8" x2="447" y2="593.8" stroke="#e6e6e6" stroke-width="1.2"/>
<line x1="310" y1="564.7" x2="447" y2="564.7" stroke="#111" stroke-width="1.8"/>
<line x1="310" y1="591.7" x2="447" y2="591.7" stroke="#111" stroke-width="1.8"/>
<path d="M450.2,553.2 L458.1,549.4000000000001 L458.1,557.0 Z" fill="#000"/>
<text x="458.3" y="557.8000000000001" font-size="12.5" text-anchor="start" fill="#000" style="stroke-width:0.5px">EZH2</text>
<path d="M450.2,580.3 L458.1,576.5 L458.1,584.0999999999999 Z" fill="#000"/>
<text x="458.3" y="584.9" font-size="12.5" text-anchor="start" fill="#000" style="stroke-width:0.5px">H3K27me3</text>
<path d="M450.2,602.9 L458.1,599.1 L458.1,606.6999999999999 Z" fill="#000"/>
<text x="458.3" y="607.5" font-size="12.5" text-anchor="start" fill="#000" style="stroke-width:0.5px">actin</text>
<g class="heavy">
<text x="-2.1" y="682.2" font-size="19.4" font-weight="bold" text-anchor="start" fill="#000" >E</text>
<line x1="44.5" y1="684" x2="44.5" y2="788.3" stroke="#000" stroke-width="1.3" />
<line x1="43.9" y1="788.3" x2="192" y2="788.3" stroke="#000" stroke-width="1.3" />
<line x1="42" y1="788.0" x2="44.5" y2="788.0" stroke="#000" stroke-width="1.2" />
<text x="37.2" y="791.8" font-size="10.7" text-anchor="end" fill="#000" >0</text>
<line x1="42" y1="753.7" x2="44.5" y2="753.7" stroke="#000" stroke-width="1.2" />
<text x="37.2" y="757.5" font-size="10.7" text-anchor="end" fill="#000" >10</text>
<line x1="42" y1="719.4" x2="44.5" y2="719.4" stroke="#000" stroke-width="1.2" />
<text x="37.2" y="723.1999999999999" font-size="10.7" text-anchor="end" fill="#000" >20</text>
<line x1="42" y1="685.1" x2="44.5" y2="685.1" stroke="#000" stroke-width="1.2" />
<text x="37.2" y="688.9" font-size="10.7" text-anchor="end" fill="#000" >30</text>
<text transform="translate(17.6,756.8) rotate(-90)" font-size="11.2">%CD11b</text>
<line x1="68.9" y1="788.3" x2="68.9" y2="791.3" stroke="#000" stroke-width="1.2" />
<line x1="117.8" y1="788.3" x2="117.8" y2="791.3" stroke="#000" stroke-width="1.2" />
<line x1="166.7" y1="788.3" x2="166.7" y2="791.3" stroke="#000" stroke-width="1.2" />
<line x1="68.35" y1="772" x2="68.35" y2="768" stroke="#000" stroke-width="1.5" />
<line x1="60.5" y1="768" x2="76.2" y2="768" stroke="#000" stroke-width="1.5" />
<rect x="52.5" y="772" width="33.099999999999994" height="16.299999999999955" fill="#fff" stroke="#000" stroke-width="1.5" />
<line x1="117.25" y1="763.3" x2="117.25" y2="758.7" stroke="#000" stroke-width="1.5" />
<line x1="108.5" y1="758.7" x2="126" y2="758.7" stroke="#000" stroke-width="1.5" />
<rect x="101.7" y="763.3" width="32.3" height="25.0" fill="#ddd8c0" stroke="#000" stroke-width="1.5" />
<line x1="166.75" y1="707.3" x2="166.75" y2="705.4" stroke="#000" stroke-width="1.5" />
<line x1="158.3" y1="705.4" x2="175.2" y2="705.4" stroke="#000" stroke-width="1.5" />
<rect x="150.2" y="707.3" width="33.10000000000002" height="81.0" fill="#948b55" stroke="#000" stroke-width="1.5" />
<path d="M69.2,691.2 V685.1 H164.5 V691.2" fill="none" stroke="#222" stroke-width="1.4"/>
<path d="M68.6,729.6 V724.1 H117.8 V729.6" fill="none" stroke="#222" stroke-width="1.4"/>
<text x="110.7" y="679.1" font-size="10.7" text-anchor="middle" fill="#000" >p &lt;0.001</text>
<text x="92.5" y="718.2" font-size="10.8" text-anchor="middle" fill="#000" >p = 0.2</text>
<text transform="translate(17.4,856.5) rotate(-38.5)" font-size="10.9">scrambled shRNA</text>
<text transform="translate(93.6,832.8) rotate(-38.5)" font-size="10.9">shRNA #2</text>
<text transform="translate(137.4,832.8) rotate(-38.5)" font-size="10.9">shRNA #3</text>
<line x1="314.8" y1="689" x2="314.8" y2="786.7" stroke="#000" stroke-width="1.3" />
<line x1="314.2" y1="786.7" x2="462" y2="786.7" stroke="#000" stroke-width="1.3" />
<line x1="312.3" y1="786.6" x2="314.8" y2="786.6" stroke="#000" stroke-width="1.2" />
<text x="307.6" y="790.5" font-size="10.8" text-anchor="end" fill="#000" >0</text>
<line x1="312.3" y1="767.28" x2="314.8" y2="767.28" stroke="#000" stroke-width="1.2" />
<text x="307.6" y="771.18" font-size="10.8" text-anchor="end" fill="#000" >100</text>
<line x1="312.3" y1="747.96" x2="314.8" y2="747.96" stroke="#000" stroke-width="1.2" />
<text x="307.6" y="751.86" font-size="10.8" text-anchor="end" fill="#000" >200</text>
<line x1="312.3" y1="728.64" x2="314.8" y2="728.64" stroke="#000" stroke-width="1.2" />
<text x="307.6" y="732.54" font-size="10.8" text-anchor="end" fill="#000" >300</text>
<line x1="312.3" y1="709.32" x2="314.8" y2="709.32" stroke="#000" stroke-width="1.2" />
<text x="307.6" y="713.22" font-size="10.8" text-anchor="end" fill="#000" >400</text>
<line x1="312.3" y1="690.0" x2="314.8" y2="690.0" stroke="#000" stroke-width="1.2" />
<text x="307.6" y="693.9" font-size="10.8" text-anchor="end" fill="#000" >500</text>
<text transform="translate(280.1,788.4) rotate(-90)" font-size="11.2">MFI (CD11B-PE-Cy7)</text>
<line x1="336" y1="786.7" x2="336" y2="789.7" stroke="#000" stroke-width="1.2" />
<line x1="387.6" y1="786.7" x2="387.6" y2="789.7" stroke="#000" stroke-width="1.2" />
<line x1="436.9" y1="786.7" x2="436.9" y2="789.7" stroke="#000" stroke-width="1.2" />
<line x1="339.45" y1="768.7" x2="339.45" y2="764.6" stroke="#000" stroke-width="1.5" />
<line x1="331.4" y1="764.6" x2="347.5" y2="764.6" stroke="#000" stroke-width="1.5" />
<rect x="322.5" y="768.7" width="33.10000000000002" height="18.0" fill="#fff" stroke="#000" stroke-width="1.5" />
<line x1="387.20000000000005" y1="749.3" x2="387.20000000000005" y2="745.2" stroke="#000" stroke-width="1.5" />
<line x1="379.8" y1="745.2" x2="394.6" y2="745.2" stroke="#000" stroke-width="1.5" />
<rect x="371.2" y="749.3" width="32.80000000000001" height="37.40000000000009" fill="#ddd8c0" stroke="#000" stroke-width="1.5" />
<line x1="436.35" y1="714.3" x2="436.35" y2="712.7" stroke="#000" stroke-width="1.5" />
<line x1="428.3" y1="712.7" x2="444.4" y2="712.7" stroke="#000" stroke-width="1.5" />
<rect x="419.7" y="714.3" width="33.30000000000001" height="72.40000000000009" fill="#948b55" stroke="#000" stroke-width="1.5" />
<path d="M336,693.8 V687.9 H433.7 V693.8" fill="none" stroke="#222" stroke-width="1.4"/>
<path d="M336,730.2 V725.2 H384.7 V730.2" fill="none" stroke="#222" stroke-width="1.4"/>
<text x="379.8" y="677.6" font-size="10.7" text-anchor="middle" fill="#000" >p &lt;0.0001</text>
<text x="364" y="708.1" font-size="10.8" text-anchor="middle" fill="#000" >p = 0.02</text>
<text transform="translate(273,855) rotate(-38.5)" font-size="10.9">scrambled shRNA</text>
<text transform="translate(353.6,832.8) rotate(-38.5)" font-size="10.9">shRNA #2</text>
<text transform="translate(403.3,832.8) rotate(-38.5)" font-size="10.9">shRNA #3</text>
</g>
</svg></body></html>
